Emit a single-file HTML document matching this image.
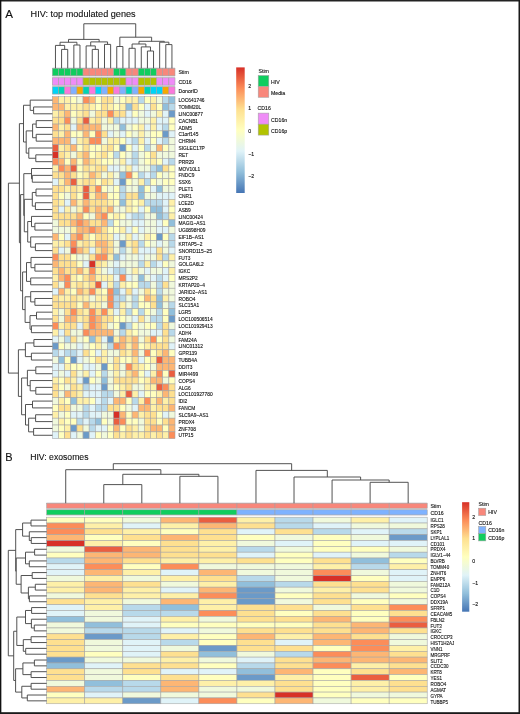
<!DOCTYPE html>
<html><head><meta charset="utf-8"><style>
html,body{margin:0;padding:0;background:#fff;}
svg{display:block;font-family:'Liberation Sans', sans-serif;will-change:transform;}
</style></head><body>
<svg width="520" height="714" viewBox="0 0 520 714">
<rect width="520" height="714" fill="#fff"/>
<rect x="52.40" y="96.70" width="6.13" height="6.84" fill="#FDB674" stroke="#A3A3A3" stroke-width="0.55"/>
<rect x="58.53" y="96.70" width="6.13" height="6.84" fill="#FEF0A8" stroke="#A3A3A3" stroke-width="0.55"/>
<rect x="64.66" y="96.70" width="6.13" height="6.84" fill="#FEF0A8" stroke="#A3A3A3" stroke-width="0.55"/>
<rect x="70.79" y="96.70" width="6.13" height="6.84" fill="#FFFFBF" stroke="#A3A3A3" stroke-width="0.55"/>
<rect x="76.92" y="96.70" width="6.13" height="6.84" fill="#F0F9DC" stroke="#A3A3A3" stroke-width="0.55"/>
<rect x="83.05" y="96.70" width="6.13" height="6.84" fill="#FC8D59" stroke="#A3A3A3" stroke-width="0.55"/>
<rect x="89.18" y="96.70" width="6.13" height="6.84" fill="#FDB674" stroke="#A3A3A3" stroke-width="0.55"/>
<rect x="95.31" y="96.70" width="6.13" height="6.84" fill="#FFFFBF" stroke="#A3A3A3" stroke-width="0.55"/>
<rect x="101.44" y="96.70" width="6.13" height="6.84" fill="#FEE090" stroke="#A3A3A3" stroke-width="0.55"/>
<rect x="107.57" y="96.70" width="6.13" height="6.84" fill="#FEE090" stroke="#A3A3A3" stroke-width="0.55"/>
<rect x="113.70" y="96.70" width="6.13" height="6.84" fill="#F0F9DC" stroke="#A3A3A3" stroke-width="0.55"/>
<rect x="119.83" y="96.70" width="6.13" height="6.84" fill="#FFFFBF" stroke="#A3A3A3" stroke-width="0.55"/>
<rect x="125.96" y="96.70" width="6.13" height="6.84" fill="#FEF0A8" stroke="#A3A3A3" stroke-width="0.55"/>
<rect x="132.09" y="96.70" width="6.13" height="6.84" fill="#FEF0A8" stroke="#A3A3A3" stroke-width="0.55"/>
<rect x="138.22" y="96.70" width="6.13" height="6.84" fill="#B8D9EA" stroke="#A3A3A3" stroke-width="0.55"/>
<rect x="144.35" y="96.70" width="6.13" height="6.84" fill="#FFFFBF" stroke="#A3A3A3" stroke-width="0.55"/>
<rect x="150.48" y="96.70" width="6.13" height="6.84" fill="#FEF0A8" stroke="#A3A3A3" stroke-width="0.55"/>
<rect x="156.61" y="96.70" width="6.13" height="6.84" fill="#F0F9DC" stroke="#A3A3A3" stroke-width="0.55"/>
<rect x="162.74" y="96.70" width="6.13" height="6.84" fill="#B8D9EA" stroke="#A3A3A3" stroke-width="0.55"/>
<rect x="168.87" y="96.70" width="6.13" height="6.84" fill="#91BFDB" stroke="#A3A3A3" stroke-width="0.55"/>
<rect x="52.40" y="103.54" width="6.13" height="6.84" fill="#FDB674" stroke="#A3A3A3" stroke-width="0.55"/>
<rect x="58.53" y="103.54" width="6.13" height="6.84" fill="#FDB674" stroke="#A3A3A3" stroke-width="0.55"/>
<rect x="64.66" y="103.54" width="6.13" height="6.84" fill="#FEF0A8" stroke="#A3A3A3" stroke-width="0.55"/>
<rect x="70.79" y="103.54" width="6.13" height="6.84" fill="#FEF0A8" stroke="#A3A3A3" stroke-width="0.55"/>
<rect x="76.92" y="103.54" width="6.13" height="6.84" fill="#FEF0A8" stroke="#A3A3A3" stroke-width="0.55"/>
<rect x="83.05" y="103.54" width="6.13" height="6.84" fill="#FEE090" stroke="#A3A3A3" stroke-width="0.55"/>
<rect x="89.18" y="103.54" width="6.13" height="6.84" fill="#FEF0A8" stroke="#A3A3A3" stroke-width="0.55"/>
<rect x="95.31" y="103.54" width="6.13" height="6.84" fill="#FFFFBF" stroke="#A3A3A3" stroke-width="0.55"/>
<rect x="101.44" y="103.54" width="6.13" height="6.84" fill="#FEE090" stroke="#A3A3A3" stroke-width="0.55"/>
<rect x="107.57" y="103.54" width="6.13" height="6.84" fill="#FEF0A8" stroke="#A3A3A3" stroke-width="0.55"/>
<rect x="113.70" y="103.54" width="6.13" height="6.84" fill="#FFFFBF" stroke="#A3A3A3" stroke-width="0.55"/>
<rect x="119.83" y="103.54" width="6.13" height="6.84" fill="#FEF0A8" stroke="#A3A3A3" stroke-width="0.55"/>
<rect x="125.96" y="103.54" width="6.13" height="6.84" fill="#91BFDB" stroke="#A3A3A3" stroke-width="0.55"/>
<rect x="132.09" y="103.54" width="6.13" height="6.84" fill="#FEE090" stroke="#A3A3A3" stroke-width="0.55"/>
<rect x="138.22" y="103.54" width="6.13" height="6.84" fill="#FFFFBF" stroke="#A3A3A3" stroke-width="0.55"/>
<rect x="144.35" y="103.54" width="6.13" height="6.84" fill="#E0F3F8" stroke="#A3A3A3" stroke-width="0.55"/>
<rect x="150.48" y="103.54" width="6.13" height="6.84" fill="#FEE090" stroke="#A3A3A3" stroke-width="0.55"/>
<rect x="156.61" y="103.54" width="6.13" height="6.84" fill="#FFFFBF" stroke="#A3A3A3" stroke-width="0.55"/>
<rect x="162.74" y="103.54" width="6.13" height="6.84" fill="#91BFDB" stroke="#A3A3A3" stroke-width="0.55"/>
<rect x="168.87" y="103.54" width="6.13" height="6.84" fill="#B8D9EA" stroke="#A3A3A3" stroke-width="0.55"/>
<rect x="52.40" y="110.38" width="6.13" height="6.84" fill="#FEF0A8" stroke="#A3A3A3" stroke-width="0.55"/>
<rect x="58.53" y="110.38" width="6.13" height="6.84" fill="#FEE090" stroke="#A3A3A3" stroke-width="0.55"/>
<rect x="64.66" y="110.38" width="6.13" height="6.84" fill="#FDB674" stroke="#A3A3A3" stroke-width="0.55"/>
<rect x="70.79" y="110.38" width="6.13" height="6.84" fill="#FFFFBF" stroke="#A3A3A3" stroke-width="0.55"/>
<rect x="76.92" y="110.38" width="6.13" height="6.84" fill="#FEF0A8" stroke="#A3A3A3" stroke-width="0.55"/>
<rect x="83.05" y="110.38" width="6.13" height="6.84" fill="#FEE090" stroke="#A3A3A3" stroke-width="0.55"/>
<rect x="89.18" y="110.38" width="6.13" height="6.84" fill="#F0F9DC" stroke="#A3A3A3" stroke-width="0.55"/>
<rect x="95.31" y="110.38" width="6.13" height="6.84" fill="#FEE090" stroke="#A3A3A3" stroke-width="0.55"/>
<rect x="101.44" y="110.38" width="6.13" height="6.84" fill="#FEE090" stroke="#A3A3A3" stroke-width="0.55"/>
<rect x="107.57" y="110.38" width="6.13" height="6.84" fill="#FC8D59" stroke="#A3A3A3" stroke-width="0.55"/>
<rect x="113.70" y="110.38" width="6.13" height="6.84" fill="#FEE090" stroke="#A3A3A3" stroke-width="0.55"/>
<rect x="119.83" y="110.38" width="6.13" height="6.84" fill="#FEE090" stroke="#A3A3A3" stroke-width="0.55"/>
<rect x="125.96" y="110.38" width="6.13" height="6.84" fill="#E0F3F8" stroke="#A3A3A3" stroke-width="0.55"/>
<rect x="132.09" y="110.38" width="6.13" height="6.84" fill="#FFFFBF" stroke="#A3A3A3" stroke-width="0.55"/>
<rect x="138.22" y="110.38" width="6.13" height="6.84" fill="#F0F9DC" stroke="#A3A3A3" stroke-width="0.55"/>
<rect x="144.35" y="110.38" width="6.13" height="6.84" fill="#E0F3F8" stroke="#A3A3A3" stroke-width="0.55"/>
<rect x="150.48" y="110.38" width="6.13" height="6.84" fill="#F0F9DC" stroke="#A3A3A3" stroke-width="0.55"/>
<rect x="156.61" y="110.38" width="6.13" height="6.84" fill="#FEF0A8" stroke="#A3A3A3" stroke-width="0.55"/>
<rect x="162.74" y="110.38" width="6.13" height="6.84" fill="#E0F3F8" stroke="#A3A3A3" stroke-width="0.55"/>
<rect x="168.87" y="110.38" width="6.13" height="6.84" fill="#6B9AC8" stroke="#A3A3A3" stroke-width="0.55"/>
<rect x="52.40" y="117.22" width="6.13" height="6.84" fill="#FEE090" stroke="#A3A3A3" stroke-width="0.55"/>
<rect x="58.53" y="117.22" width="6.13" height="6.84" fill="#FEE090" stroke="#A3A3A3" stroke-width="0.55"/>
<rect x="64.66" y="117.22" width="6.13" height="6.84" fill="#FC8D59" stroke="#A3A3A3" stroke-width="0.55"/>
<rect x="70.79" y="117.22" width="6.13" height="6.84" fill="#F0F9DC" stroke="#A3A3A3" stroke-width="0.55"/>
<rect x="76.92" y="117.22" width="6.13" height="6.84" fill="#FEE090" stroke="#A3A3A3" stroke-width="0.55"/>
<rect x="83.05" y="117.22" width="6.13" height="6.84" fill="#EA5E40" stroke="#A3A3A3" stroke-width="0.55"/>
<rect x="89.18" y="117.22" width="6.13" height="6.84" fill="#FEF0A8" stroke="#A3A3A3" stroke-width="0.55"/>
<rect x="95.31" y="117.22" width="6.13" height="6.84" fill="#FEE090" stroke="#A3A3A3" stroke-width="0.55"/>
<rect x="101.44" y="117.22" width="6.13" height="6.84" fill="#F0F9DC" stroke="#A3A3A3" stroke-width="0.55"/>
<rect x="107.57" y="117.22" width="6.13" height="6.84" fill="#FEF0A8" stroke="#A3A3A3" stroke-width="0.55"/>
<rect x="113.70" y="117.22" width="6.13" height="6.84" fill="#B8D9EA" stroke="#A3A3A3" stroke-width="0.55"/>
<rect x="119.83" y="117.22" width="6.13" height="6.84" fill="#E0F3F8" stroke="#A3A3A3" stroke-width="0.55"/>
<rect x="125.96" y="117.22" width="6.13" height="6.84" fill="#E0F3F8" stroke="#A3A3A3" stroke-width="0.55"/>
<rect x="132.09" y="117.22" width="6.13" height="6.84" fill="#E0F3F8" stroke="#A3A3A3" stroke-width="0.55"/>
<rect x="138.22" y="117.22" width="6.13" height="6.84" fill="#F0F9DC" stroke="#A3A3A3" stroke-width="0.55"/>
<rect x="144.35" y="117.22" width="6.13" height="6.84" fill="#F0F9DC" stroke="#A3A3A3" stroke-width="0.55"/>
<rect x="150.48" y="117.22" width="6.13" height="6.84" fill="#FEF0A8" stroke="#A3A3A3" stroke-width="0.55"/>
<rect x="156.61" y="117.22" width="6.13" height="6.84" fill="#E0F3F8" stroke="#A3A3A3" stroke-width="0.55"/>
<rect x="162.74" y="117.22" width="6.13" height="6.84" fill="#E0F3F8" stroke="#A3A3A3" stroke-width="0.55"/>
<rect x="168.87" y="117.22" width="6.13" height="6.84" fill="#FFFFBF" stroke="#A3A3A3" stroke-width="0.55"/>
<rect x="52.40" y="124.06" width="6.13" height="6.84" fill="#FDB674" stroke="#A3A3A3" stroke-width="0.55"/>
<rect x="58.53" y="124.06" width="6.13" height="6.84" fill="#FEF0A8" stroke="#A3A3A3" stroke-width="0.55"/>
<rect x="64.66" y="124.06" width="6.13" height="6.84" fill="#FEE090" stroke="#A3A3A3" stroke-width="0.55"/>
<rect x="70.79" y="124.06" width="6.13" height="6.84" fill="#E0F3F8" stroke="#A3A3A3" stroke-width="0.55"/>
<rect x="76.92" y="124.06" width="6.13" height="6.84" fill="#FDB674" stroke="#A3A3A3" stroke-width="0.55"/>
<rect x="83.05" y="124.06" width="6.13" height="6.84" fill="#FDB674" stroke="#A3A3A3" stroke-width="0.55"/>
<rect x="89.18" y="124.06" width="6.13" height="6.84" fill="#FDB674" stroke="#A3A3A3" stroke-width="0.55"/>
<rect x="95.31" y="124.06" width="6.13" height="6.84" fill="#FDB674" stroke="#A3A3A3" stroke-width="0.55"/>
<rect x="101.44" y="124.06" width="6.13" height="6.84" fill="#F0F9DC" stroke="#A3A3A3" stroke-width="0.55"/>
<rect x="107.57" y="124.06" width="6.13" height="6.84" fill="#F0F9DC" stroke="#A3A3A3" stroke-width="0.55"/>
<rect x="113.70" y="124.06" width="6.13" height="6.84" fill="#F0F9DC" stroke="#A3A3A3" stroke-width="0.55"/>
<rect x="119.83" y="124.06" width="6.13" height="6.84" fill="#91BFDB" stroke="#A3A3A3" stroke-width="0.55"/>
<rect x="125.96" y="124.06" width="6.13" height="6.84" fill="#F0F9DC" stroke="#A3A3A3" stroke-width="0.55"/>
<rect x="132.09" y="124.06" width="6.13" height="6.84" fill="#FFFFBF" stroke="#A3A3A3" stroke-width="0.55"/>
<rect x="138.22" y="124.06" width="6.13" height="6.84" fill="#FEF0A8" stroke="#A3A3A3" stroke-width="0.55"/>
<rect x="144.35" y="124.06" width="6.13" height="6.84" fill="#E0F3F8" stroke="#A3A3A3" stroke-width="0.55"/>
<rect x="150.48" y="124.06" width="6.13" height="6.84" fill="#FEF0A8" stroke="#A3A3A3" stroke-width="0.55"/>
<rect x="156.61" y="124.06" width="6.13" height="6.84" fill="#E0F3F8" stroke="#A3A3A3" stroke-width="0.55"/>
<rect x="162.74" y="124.06" width="6.13" height="6.84" fill="#B8D9EA" stroke="#A3A3A3" stroke-width="0.55"/>
<rect x="168.87" y="124.06" width="6.13" height="6.84" fill="#FFFFBF" stroke="#A3A3A3" stroke-width="0.55"/>
<rect x="52.40" y="130.90" width="6.13" height="6.84" fill="#FEE090" stroke="#A3A3A3" stroke-width="0.55"/>
<rect x="58.53" y="130.90" width="6.13" height="6.84" fill="#FEF0A8" stroke="#A3A3A3" stroke-width="0.55"/>
<rect x="64.66" y="130.90" width="6.13" height="6.84" fill="#FDB674" stroke="#A3A3A3" stroke-width="0.55"/>
<rect x="70.79" y="130.90" width="6.13" height="6.84" fill="#FFFFBF" stroke="#A3A3A3" stroke-width="0.55"/>
<rect x="76.92" y="130.90" width="6.13" height="6.84" fill="#FFFFBF" stroke="#A3A3A3" stroke-width="0.55"/>
<rect x="83.05" y="130.90" width="6.13" height="6.84" fill="#FDB674" stroke="#A3A3A3" stroke-width="0.55"/>
<rect x="89.18" y="130.90" width="6.13" height="6.84" fill="#FFFFBF" stroke="#A3A3A3" stroke-width="0.55"/>
<rect x="95.31" y="130.90" width="6.13" height="6.84" fill="#FC8D59" stroke="#A3A3A3" stroke-width="0.55"/>
<rect x="101.44" y="130.90" width="6.13" height="6.84" fill="#FEE090" stroke="#A3A3A3" stroke-width="0.55"/>
<rect x="107.57" y="130.90" width="6.13" height="6.84" fill="#E0F3F8" stroke="#A3A3A3" stroke-width="0.55"/>
<rect x="113.70" y="130.90" width="6.13" height="6.84" fill="#F0F9DC" stroke="#A3A3A3" stroke-width="0.55"/>
<rect x="119.83" y="130.90" width="6.13" height="6.84" fill="#E0F3F8" stroke="#A3A3A3" stroke-width="0.55"/>
<rect x="125.96" y="130.90" width="6.13" height="6.84" fill="#FFFFBF" stroke="#A3A3A3" stroke-width="0.55"/>
<rect x="132.09" y="130.90" width="6.13" height="6.84" fill="#F0F9DC" stroke="#A3A3A3" stroke-width="0.55"/>
<rect x="138.22" y="130.90" width="6.13" height="6.84" fill="#FEF0A8" stroke="#A3A3A3" stroke-width="0.55"/>
<rect x="144.35" y="130.90" width="6.13" height="6.84" fill="#F0F9DC" stroke="#A3A3A3" stroke-width="0.55"/>
<rect x="150.48" y="130.90" width="6.13" height="6.84" fill="#FFFFBF" stroke="#A3A3A3" stroke-width="0.55"/>
<rect x="156.61" y="130.90" width="6.13" height="6.84" fill="#FFFFBF" stroke="#A3A3A3" stroke-width="0.55"/>
<rect x="162.74" y="130.90" width="6.13" height="6.84" fill="#6B9AC8" stroke="#A3A3A3" stroke-width="0.55"/>
<rect x="168.87" y="130.90" width="6.13" height="6.84" fill="#E0F3F8" stroke="#A3A3A3" stroke-width="0.55"/>
<rect x="52.40" y="137.74" width="6.13" height="6.84" fill="#FDB674" stroke="#A3A3A3" stroke-width="0.55"/>
<rect x="58.53" y="137.74" width="6.13" height="6.84" fill="#FDB674" stroke="#A3A3A3" stroke-width="0.55"/>
<rect x="64.66" y="137.74" width="6.13" height="6.84" fill="#FDB674" stroke="#A3A3A3" stroke-width="0.55"/>
<rect x="70.79" y="137.74" width="6.13" height="6.84" fill="#E0F3F8" stroke="#A3A3A3" stroke-width="0.55"/>
<rect x="76.92" y="137.74" width="6.13" height="6.84" fill="#FEF0A8" stroke="#A3A3A3" stroke-width="0.55"/>
<rect x="83.05" y="137.74" width="6.13" height="6.84" fill="#FEE090" stroke="#A3A3A3" stroke-width="0.55"/>
<rect x="89.18" y="137.74" width="6.13" height="6.84" fill="#FC8D59" stroke="#A3A3A3" stroke-width="0.55"/>
<rect x="95.31" y="137.74" width="6.13" height="6.84" fill="#FC8D59" stroke="#A3A3A3" stroke-width="0.55"/>
<rect x="101.44" y="137.74" width="6.13" height="6.84" fill="#F0F9DC" stroke="#A3A3A3" stroke-width="0.55"/>
<rect x="107.57" y="137.74" width="6.13" height="6.84" fill="#FEF0A8" stroke="#A3A3A3" stroke-width="0.55"/>
<rect x="113.70" y="137.74" width="6.13" height="6.84" fill="#FEF0A8" stroke="#A3A3A3" stroke-width="0.55"/>
<rect x="119.83" y="137.74" width="6.13" height="6.84" fill="#FFFFBF" stroke="#A3A3A3" stroke-width="0.55"/>
<rect x="125.96" y="137.74" width="6.13" height="6.84" fill="#E0F3F8" stroke="#A3A3A3" stroke-width="0.55"/>
<rect x="132.09" y="137.74" width="6.13" height="6.84" fill="#B8D9EA" stroke="#A3A3A3" stroke-width="0.55"/>
<rect x="138.22" y="137.74" width="6.13" height="6.84" fill="#FEF0A8" stroke="#A3A3A3" stroke-width="0.55"/>
<rect x="144.35" y="137.74" width="6.13" height="6.84" fill="#E0F3F8" stroke="#A3A3A3" stroke-width="0.55"/>
<rect x="150.48" y="137.74" width="6.13" height="6.84" fill="#FFFFBF" stroke="#A3A3A3" stroke-width="0.55"/>
<rect x="156.61" y="137.74" width="6.13" height="6.84" fill="#E0F3F8" stroke="#A3A3A3" stroke-width="0.55"/>
<rect x="162.74" y="137.74" width="6.13" height="6.84" fill="#B8D9EA" stroke="#A3A3A3" stroke-width="0.55"/>
<rect x="168.87" y="137.74" width="6.13" height="6.84" fill="#F0F9DC" stroke="#A3A3A3" stroke-width="0.55"/>
<rect x="52.40" y="144.58" width="6.13" height="6.84" fill="#EA5E40" stroke="#A3A3A3" stroke-width="0.55"/>
<rect x="58.53" y="144.58" width="6.13" height="6.84" fill="#FEF0A8" stroke="#A3A3A3" stroke-width="0.55"/>
<rect x="64.66" y="144.58" width="6.13" height="6.84" fill="#FEE090" stroke="#A3A3A3" stroke-width="0.55"/>
<rect x="70.79" y="144.58" width="6.13" height="6.84" fill="#FDB674" stroke="#A3A3A3" stroke-width="0.55"/>
<rect x="76.92" y="144.58" width="6.13" height="6.84" fill="#FFFFBF" stroke="#A3A3A3" stroke-width="0.55"/>
<rect x="83.05" y="144.58" width="6.13" height="6.84" fill="#FEE090" stroke="#A3A3A3" stroke-width="0.55"/>
<rect x="89.18" y="144.58" width="6.13" height="6.84" fill="#FFFFBF" stroke="#A3A3A3" stroke-width="0.55"/>
<rect x="95.31" y="144.58" width="6.13" height="6.84" fill="#FFFFBF" stroke="#A3A3A3" stroke-width="0.55"/>
<rect x="101.44" y="144.58" width="6.13" height="6.84" fill="#FEF0A8" stroke="#A3A3A3" stroke-width="0.55"/>
<rect x="107.57" y="144.58" width="6.13" height="6.84" fill="#FEE090" stroke="#A3A3A3" stroke-width="0.55"/>
<rect x="113.70" y="144.58" width="6.13" height="6.84" fill="#FFFFBF" stroke="#A3A3A3" stroke-width="0.55"/>
<rect x="119.83" y="144.58" width="6.13" height="6.84" fill="#6B9AC8" stroke="#A3A3A3" stroke-width="0.55"/>
<rect x="125.96" y="144.58" width="6.13" height="6.84" fill="#FFFFBF" stroke="#A3A3A3" stroke-width="0.55"/>
<rect x="132.09" y="144.58" width="6.13" height="6.84" fill="#E0F3F8" stroke="#A3A3A3" stroke-width="0.55"/>
<rect x="138.22" y="144.58" width="6.13" height="6.84" fill="#FFFFBF" stroke="#A3A3A3" stroke-width="0.55"/>
<rect x="144.35" y="144.58" width="6.13" height="6.84" fill="#B8D9EA" stroke="#A3A3A3" stroke-width="0.55"/>
<rect x="150.48" y="144.58" width="6.13" height="6.84" fill="#F0F9DC" stroke="#A3A3A3" stroke-width="0.55"/>
<rect x="156.61" y="144.58" width="6.13" height="6.84" fill="#FDB674" stroke="#A3A3A3" stroke-width="0.55"/>
<rect x="162.74" y="144.58" width="6.13" height="6.84" fill="#FFFFBF" stroke="#A3A3A3" stroke-width="0.55"/>
<rect x="168.87" y="144.58" width="6.13" height="6.84" fill="#F0F9DC" stroke="#A3A3A3" stroke-width="0.55"/>
<rect x="52.40" y="151.42" width="6.13" height="6.84" fill="#D73027" stroke="#A3A3A3" stroke-width="0.55"/>
<rect x="58.53" y="151.42" width="6.13" height="6.84" fill="#FEE090" stroke="#A3A3A3" stroke-width="0.55"/>
<rect x="64.66" y="151.42" width="6.13" height="6.84" fill="#FEF0A8" stroke="#A3A3A3" stroke-width="0.55"/>
<rect x="70.79" y="151.42" width="6.13" height="6.84" fill="#F0F9DC" stroke="#A3A3A3" stroke-width="0.55"/>
<rect x="76.92" y="151.42" width="6.13" height="6.84" fill="#FEE090" stroke="#A3A3A3" stroke-width="0.55"/>
<rect x="83.05" y="151.42" width="6.13" height="6.84" fill="#FDB674" stroke="#A3A3A3" stroke-width="0.55"/>
<rect x="89.18" y="151.42" width="6.13" height="6.84" fill="#FFFFBF" stroke="#A3A3A3" stroke-width="0.55"/>
<rect x="95.31" y="151.42" width="6.13" height="6.84" fill="#FEF0A8" stroke="#A3A3A3" stroke-width="0.55"/>
<rect x="101.44" y="151.42" width="6.13" height="6.84" fill="#FEE090" stroke="#A3A3A3" stroke-width="0.55"/>
<rect x="107.57" y="151.42" width="6.13" height="6.84" fill="#FFFFBF" stroke="#A3A3A3" stroke-width="0.55"/>
<rect x="113.70" y="151.42" width="6.13" height="6.84" fill="#B8D9EA" stroke="#A3A3A3" stroke-width="0.55"/>
<rect x="119.83" y="151.42" width="6.13" height="6.84" fill="#FFFFBF" stroke="#A3A3A3" stroke-width="0.55"/>
<rect x="125.96" y="151.42" width="6.13" height="6.84" fill="#F0F9DC" stroke="#A3A3A3" stroke-width="0.55"/>
<rect x="132.09" y="151.42" width="6.13" height="6.84" fill="#B8D9EA" stroke="#A3A3A3" stroke-width="0.55"/>
<rect x="138.22" y="151.42" width="6.13" height="6.84" fill="#F0F9DC" stroke="#A3A3A3" stroke-width="0.55"/>
<rect x="144.35" y="151.42" width="6.13" height="6.84" fill="#FFFFBF" stroke="#A3A3A3" stroke-width="0.55"/>
<rect x="150.48" y="151.42" width="6.13" height="6.84" fill="#FEE090" stroke="#A3A3A3" stroke-width="0.55"/>
<rect x="156.61" y="151.42" width="6.13" height="6.84" fill="#F0F9DC" stroke="#A3A3A3" stroke-width="0.55"/>
<rect x="162.74" y="151.42" width="6.13" height="6.84" fill="#F0F9DC" stroke="#A3A3A3" stroke-width="0.55"/>
<rect x="168.87" y="151.42" width="6.13" height="6.84" fill="#F0F9DC" stroke="#A3A3A3" stroke-width="0.55"/>
<rect x="52.40" y="158.26" width="6.13" height="6.84" fill="#FC8D59" stroke="#A3A3A3" stroke-width="0.55"/>
<rect x="58.53" y="158.26" width="6.13" height="6.84" fill="#FDB674" stroke="#A3A3A3" stroke-width="0.55"/>
<rect x="64.66" y="158.26" width="6.13" height="6.84" fill="#FFFFBF" stroke="#A3A3A3" stroke-width="0.55"/>
<rect x="70.79" y="158.26" width="6.13" height="6.84" fill="#FDB674" stroke="#A3A3A3" stroke-width="0.55"/>
<rect x="76.92" y="158.26" width="6.13" height="6.84" fill="#FFFFBF" stroke="#A3A3A3" stroke-width="0.55"/>
<rect x="83.05" y="158.26" width="6.13" height="6.84" fill="#FDB674" stroke="#A3A3A3" stroke-width="0.55"/>
<rect x="89.18" y="158.26" width="6.13" height="6.84" fill="#FEE090" stroke="#A3A3A3" stroke-width="0.55"/>
<rect x="95.31" y="158.26" width="6.13" height="6.84" fill="#FEF0A8" stroke="#A3A3A3" stroke-width="0.55"/>
<rect x="101.44" y="158.26" width="6.13" height="6.84" fill="#FFFFBF" stroke="#A3A3A3" stroke-width="0.55"/>
<rect x="107.57" y="158.26" width="6.13" height="6.84" fill="#FFFFBF" stroke="#A3A3A3" stroke-width="0.55"/>
<rect x="113.70" y="158.26" width="6.13" height="6.84" fill="#F0F9DC" stroke="#A3A3A3" stroke-width="0.55"/>
<rect x="119.83" y="158.26" width="6.13" height="6.84" fill="#FEF0A8" stroke="#A3A3A3" stroke-width="0.55"/>
<rect x="125.96" y="158.26" width="6.13" height="6.84" fill="#E0F3F8" stroke="#A3A3A3" stroke-width="0.55"/>
<rect x="132.09" y="158.26" width="6.13" height="6.84" fill="#B8D9EA" stroke="#A3A3A3" stroke-width="0.55"/>
<rect x="138.22" y="158.26" width="6.13" height="6.84" fill="#F0F9DC" stroke="#A3A3A3" stroke-width="0.55"/>
<rect x="144.35" y="158.26" width="6.13" height="6.84" fill="#FFFFBF" stroke="#A3A3A3" stroke-width="0.55"/>
<rect x="150.48" y="158.26" width="6.13" height="6.84" fill="#FEF0A8" stroke="#A3A3A3" stroke-width="0.55"/>
<rect x="156.61" y="158.26" width="6.13" height="6.84" fill="#FFFFBF" stroke="#A3A3A3" stroke-width="0.55"/>
<rect x="162.74" y="158.26" width="6.13" height="6.84" fill="#E0F3F8" stroke="#A3A3A3" stroke-width="0.55"/>
<rect x="168.87" y="158.26" width="6.13" height="6.84" fill="#B8D9EA" stroke="#A3A3A3" stroke-width="0.55"/>
<rect x="52.40" y="165.10" width="6.13" height="6.84" fill="#FEF0A8" stroke="#A3A3A3" stroke-width="0.55"/>
<rect x="58.53" y="165.10" width="6.13" height="6.84" fill="#FC8D59" stroke="#A3A3A3" stroke-width="0.55"/>
<rect x="64.66" y="165.10" width="6.13" height="6.84" fill="#FDB674" stroke="#A3A3A3" stroke-width="0.55"/>
<rect x="70.79" y="165.10" width="6.13" height="6.84" fill="#EA5E40" stroke="#A3A3A3" stroke-width="0.55"/>
<rect x="76.92" y="165.10" width="6.13" height="6.84" fill="#FFFFBF" stroke="#A3A3A3" stroke-width="0.55"/>
<rect x="83.05" y="165.10" width="6.13" height="6.84" fill="#FEE090" stroke="#A3A3A3" stroke-width="0.55"/>
<rect x="89.18" y="165.10" width="6.13" height="6.84" fill="#FEF0A8" stroke="#A3A3A3" stroke-width="0.55"/>
<rect x="95.31" y="165.10" width="6.13" height="6.84" fill="#FEE090" stroke="#A3A3A3" stroke-width="0.55"/>
<rect x="101.44" y="165.10" width="6.13" height="6.84" fill="#FEE090" stroke="#A3A3A3" stroke-width="0.55"/>
<rect x="107.57" y="165.10" width="6.13" height="6.84" fill="#E0F3F8" stroke="#A3A3A3" stroke-width="0.55"/>
<rect x="113.70" y="165.10" width="6.13" height="6.84" fill="#E0F3F8" stroke="#A3A3A3" stroke-width="0.55"/>
<rect x="119.83" y="165.10" width="6.13" height="6.84" fill="#F0F9DC" stroke="#A3A3A3" stroke-width="0.55"/>
<rect x="125.96" y="165.10" width="6.13" height="6.84" fill="#FEF0A8" stroke="#A3A3A3" stroke-width="0.55"/>
<rect x="132.09" y="165.10" width="6.13" height="6.84" fill="#E0F3F8" stroke="#A3A3A3" stroke-width="0.55"/>
<rect x="138.22" y="165.10" width="6.13" height="6.84" fill="#F0F9DC" stroke="#A3A3A3" stroke-width="0.55"/>
<rect x="144.35" y="165.10" width="6.13" height="6.84" fill="#F0F9DC" stroke="#A3A3A3" stroke-width="0.55"/>
<rect x="150.48" y="165.10" width="6.13" height="6.84" fill="#B8D9EA" stroke="#A3A3A3" stroke-width="0.55"/>
<rect x="156.61" y="165.10" width="6.13" height="6.84" fill="#91BFDB" stroke="#A3A3A3" stroke-width="0.55"/>
<rect x="162.74" y="165.10" width="6.13" height="6.84" fill="#FEE090" stroke="#A3A3A3" stroke-width="0.55"/>
<rect x="168.87" y="165.10" width="6.13" height="6.84" fill="#FFFFBF" stroke="#A3A3A3" stroke-width="0.55"/>
<rect x="52.40" y="171.94" width="6.13" height="6.84" fill="#FEE090" stroke="#A3A3A3" stroke-width="0.55"/>
<rect x="58.53" y="171.94" width="6.13" height="6.84" fill="#FEE090" stroke="#A3A3A3" stroke-width="0.55"/>
<rect x="64.66" y="171.94" width="6.13" height="6.84" fill="#FDB674" stroke="#A3A3A3" stroke-width="0.55"/>
<rect x="70.79" y="171.94" width="6.13" height="6.84" fill="#FEE090" stroke="#A3A3A3" stroke-width="0.55"/>
<rect x="76.92" y="171.94" width="6.13" height="6.84" fill="#FFFFBF" stroke="#A3A3A3" stroke-width="0.55"/>
<rect x="83.05" y="171.94" width="6.13" height="6.84" fill="#FEF0A8" stroke="#A3A3A3" stroke-width="0.55"/>
<rect x="89.18" y="171.94" width="6.13" height="6.84" fill="#FDB674" stroke="#A3A3A3" stroke-width="0.55"/>
<rect x="95.31" y="171.94" width="6.13" height="6.84" fill="#FEE090" stroke="#A3A3A3" stroke-width="0.55"/>
<rect x="101.44" y="171.94" width="6.13" height="6.84" fill="#F0F9DC" stroke="#A3A3A3" stroke-width="0.55"/>
<rect x="107.57" y="171.94" width="6.13" height="6.84" fill="#FEF0A8" stroke="#A3A3A3" stroke-width="0.55"/>
<rect x="113.70" y="171.94" width="6.13" height="6.84" fill="#F0F9DC" stroke="#A3A3A3" stroke-width="0.55"/>
<rect x="119.83" y="171.94" width="6.13" height="6.84" fill="#91BFDB" stroke="#A3A3A3" stroke-width="0.55"/>
<rect x="125.96" y="171.94" width="6.13" height="6.84" fill="#FC8D59" stroke="#A3A3A3" stroke-width="0.55"/>
<rect x="132.09" y="171.94" width="6.13" height="6.84" fill="#FFFFBF" stroke="#A3A3A3" stroke-width="0.55"/>
<rect x="138.22" y="171.94" width="6.13" height="6.84" fill="#B8D9EA" stroke="#A3A3A3" stroke-width="0.55"/>
<rect x="144.35" y="171.94" width="6.13" height="6.84" fill="#E0F3F8" stroke="#A3A3A3" stroke-width="0.55"/>
<rect x="150.48" y="171.94" width="6.13" height="6.84" fill="#B8D9EA" stroke="#A3A3A3" stroke-width="0.55"/>
<rect x="156.61" y="171.94" width="6.13" height="6.84" fill="#FFFFBF" stroke="#A3A3A3" stroke-width="0.55"/>
<rect x="162.74" y="171.94" width="6.13" height="6.84" fill="#F0F9DC" stroke="#A3A3A3" stroke-width="0.55"/>
<rect x="168.87" y="171.94" width="6.13" height="6.84" fill="#FFFFBF" stroke="#A3A3A3" stroke-width="0.55"/>
<rect x="52.40" y="178.78" width="6.13" height="6.84" fill="#E0F3F8" stroke="#A3A3A3" stroke-width="0.55"/>
<rect x="58.53" y="178.78" width="6.13" height="6.84" fill="#FEF0A8" stroke="#A3A3A3" stroke-width="0.55"/>
<rect x="64.66" y="178.78" width="6.13" height="6.84" fill="#FDB674" stroke="#A3A3A3" stroke-width="0.55"/>
<rect x="70.79" y="178.78" width="6.13" height="6.84" fill="#EA5E40" stroke="#A3A3A3" stroke-width="0.55"/>
<rect x="76.92" y="178.78" width="6.13" height="6.84" fill="#FEF0A8" stroke="#A3A3A3" stroke-width="0.55"/>
<rect x="83.05" y="178.78" width="6.13" height="6.84" fill="#FEE090" stroke="#A3A3A3" stroke-width="0.55"/>
<rect x="89.18" y="178.78" width="6.13" height="6.84" fill="#FEE090" stroke="#A3A3A3" stroke-width="0.55"/>
<rect x="95.31" y="178.78" width="6.13" height="6.84" fill="#FFFFBF" stroke="#A3A3A3" stroke-width="0.55"/>
<rect x="101.44" y="178.78" width="6.13" height="6.84" fill="#FEE090" stroke="#A3A3A3" stroke-width="0.55"/>
<rect x="107.57" y="178.78" width="6.13" height="6.84" fill="#FEF0A8" stroke="#A3A3A3" stroke-width="0.55"/>
<rect x="113.70" y="178.78" width="6.13" height="6.84" fill="#E0F3F8" stroke="#A3A3A3" stroke-width="0.55"/>
<rect x="119.83" y="178.78" width="6.13" height="6.84" fill="#6B9AC8" stroke="#A3A3A3" stroke-width="0.55"/>
<rect x="125.96" y="178.78" width="6.13" height="6.84" fill="#FFFFBF" stroke="#A3A3A3" stroke-width="0.55"/>
<rect x="132.09" y="178.78" width="6.13" height="6.84" fill="#F0F9DC" stroke="#A3A3A3" stroke-width="0.55"/>
<rect x="138.22" y="178.78" width="6.13" height="6.84" fill="#FEF0A8" stroke="#A3A3A3" stroke-width="0.55"/>
<rect x="144.35" y="178.78" width="6.13" height="6.84" fill="#B8D9EA" stroke="#A3A3A3" stroke-width="0.55"/>
<rect x="150.48" y="178.78" width="6.13" height="6.84" fill="#FFFFBF" stroke="#A3A3A3" stroke-width="0.55"/>
<rect x="156.61" y="178.78" width="6.13" height="6.84" fill="#F0F9DC" stroke="#A3A3A3" stroke-width="0.55"/>
<rect x="162.74" y="178.78" width="6.13" height="6.84" fill="#FFFFBF" stroke="#A3A3A3" stroke-width="0.55"/>
<rect x="168.87" y="178.78" width="6.13" height="6.84" fill="#FFFFBF" stroke="#A3A3A3" stroke-width="0.55"/>
<rect x="52.40" y="185.62" width="6.13" height="6.84" fill="#FEE090" stroke="#A3A3A3" stroke-width="0.55"/>
<rect x="58.53" y="185.62" width="6.13" height="6.84" fill="#FEE090" stroke="#A3A3A3" stroke-width="0.55"/>
<rect x="64.66" y="185.62" width="6.13" height="6.84" fill="#FEF0A8" stroke="#A3A3A3" stroke-width="0.55"/>
<rect x="70.79" y="185.62" width="6.13" height="6.84" fill="#FEE090" stroke="#A3A3A3" stroke-width="0.55"/>
<rect x="76.92" y="185.62" width="6.13" height="6.84" fill="#FEF0A8" stroke="#A3A3A3" stroke-width="0.55"/>
<rect x="83.05" y="185.62" width="6.13" height="6.84" fill="#EA5E40" stroke="#A3A3A3" stroke-width="0.55"/>
<rect x="89.18" y="185.62" width="6.13" height="6.84" fill="#FEE090" stroke="#A3A3A3" stroke-width="0.55"/>
<rect x="95.31" y="185.62" width="6.13" height="6.84" fill="#FC8D59" stroke="#A3A3A3" stroke-width="0.55"/>
<rect x="101.44" y="185.62" width="6.13" height="6.84" fill="#FFFFBF" stroke="#A3A3A3" stroke-width="0.55"/>
<rect x="107.57" y="185.62" width="6.13" height="6.84" fill="#F0F9DC" stroke="#A3A3A3" stroke-width="0.55"/>
<rect x="113.70" y="185.62" width="6.13" height="6.84" fill="#FFFFBF" stroke="#A3A3A3" stroke-width="0.55"/>
<rect x="119.83" y="185.62" width="6.13" height="6.84" fill="#B8D9EA" stroke="#A3A3A3" stroke-width="0.55"/>
<rect x="125.96" y="185.62" width="6.13" height="6.84" fill="#F0F9DC" stroke="#A3A3A3" stroke-width="0.55"/>
<rect x="132.09" y="185.62" width="6.13" height="6.84" fill="#F0F9DC" stroke="#A3A3A3" stroke-width="0.55"/>
<rect x="138.22" y="185.62" width="6.13" height="6.84" fill="#91BFDB" stroke="#A3A3A3" stroke-width="0.55"/>
<rect x="144.35" y="185.62" width="6.13" height="6.84" fill="#FFFFBF" stroke="#A3A3A3" stroke-width="0.55"/>
<rect x="150.48" y="185.62" width="6.13" height="6.84" fill="#E0F3F8" stroke="#A3A3A3" stroke-width="0.55"/>
<rect x="156.61" y="185.62" width="6.13" height="6.84" fill="#91BFDB" stroke="#A3A3A3" stroke-width="0.55"/>
<rect x="162.74" y="185.62" width="6.13" height="6.84" fill="#F0F9DC" stroke="#A3A3A3" stroke-width="0.55"/>
<rect x="168.87" y="185.62" width="6.13" height="6.84" fill="#F0F9DC" stroke="#A3A3A3" stroke-width="0.55"/>
<rect x="52.40" y="192.46" width="6.13" height="6.84" fill="#FEE090" stroke="#A3A3A3" stroke-width="0.55"/>
<rect x="58.53" y="192.46" width="6.13" height="6.84" fill="#FFFFBF" stroke="#A3A3A3" stroke-width="0.55"/>
<rect x="64.66" y="192.46" width="6.13" height="6.84" fill="#F0F9DC" stroke="#A3A3A3" stroke-width="0.55"/>
<rect x="70.79" y="192.46" width="6.13" height="6.84" fill="#FEE090" stroke="#A3A3A3" stroke-width="0.55"/>
<rect x="76.92" y="192.46" width="6.13" height="6.84" fill="#FFFFBF" stroke="#A3A3A3" stroke-width="0.55"/>
<rect x="83.05" y="192.46" width="6.13" height="6.84" fill="#EA5E40" stroke="#A3A3A3" stroke-width="0.55"/>
<rect x="89.18" y="192.46" width="6.13" height="6.84" fill="#FEF0A8" stroke="#A3A3A3" stroke-width="0.55"/>
<rect x="95.31" y="192.46" width="6.13" height="6.84" fill="#FDB674" stroke="#A3A3A3" stroke-width="0.55"/>
<rect x="101.44" y="192.46" width="6.13" height="6.84" fill="#FDB674" stroke="#A3A3A3" stroke-width="0.55"/>
<rect x="107.57" y="192.46" width="6.13" height="6.84" fill="#FFFFBF" stroke="#A3A3A3" stroke-width="0.55"/>
<rect x="113.70" y="192.46" width="6.13" height="6.84" fill="#FFFFBF" stroke="#A3A3A3" stroke-width="0.55"/>
<rect x="119.83" y="192.46" width="6.13" height="6.84" fill="#B8D9EA" stroke="#A3A3A3" stroke-width="0.55"/>
<rect x="125.96" y="192.46" width="6.13" height="6.84" fill="#FEE090" stroke="#A3A3A3" stroke-width="0.55"/>
<rect x="132.09" y="192.46" width="6.13" height="6.84" fill="#FEE090" stroke="#A3A3A3" stroke-width="0.55"/>
<rect x="138.22" y="192.46" width="6.13" height="6.84" fill="#91BFDB" stroke="#A3A3A3" stroke-width="0.55"/>
<rect x="144.35" y="192.46" width="6.13" height="6.84" fill="#F0F9DC" stroke="#A3A3A3" stroke-width="0.55"/>
<rect x="150.48" y="192.46" width="6.13" height="6.84" fill="#F0F9DC" stroke="#A3A3A3" stroke-width="0.55"/>
<rect x="156.61" y="192.46" width="6.13" height="6.84" fill="#E0F3F8" stroke="#A3A3A3" stroke-width="0.55"/>
<rect x="162.74" y="192.46" width="6.13" height="6.84" fill="#E0F3F8" stroke="#A3A3A3" stroke-width="0.55"/>
<rect x="168.87" y="192.46" width="6.13" height="6.84" fill="#E0F3F8" stroke="#A3A3A3" stroke-width="0.55"/>
<rect x="52.40" y="199.30" width="6.13" height="6.84" fill="#FEE090" stroke="#A3A3A3" stroke-width="0.55"/>
<rect x="58.53" y="199.30" width="6.13" height="6.84" fill="#FEF0A8" stroke="#A3A3A3" stroke-width="0.55"/>
<rect x="64.66" y="199.30" width="6.13" height="6.84" fill="#E0F3F8" stroke="#A3A3A3" stroke-width="0.55"/>
<rect x="70.79" y="199.30" width="6.13" height="6.84" fill="#FDB674" stroke="#A3A3A3" stroke-width="0.55"/>
<rect x="76.92" y="199.30" width="6.13" height="6.84" fill="#FEF0A8" stroke="#A3A3A3" stroke-width="0.55"/>
<rect x="83.05" y="199.30" width="6.13" height="6.84" fill="#FDB674" stroke="#A3A3A3" stroke-width="0.55"/>
<rect x="89.18" y="199.30" width="6.13" height="6.84" fill="#FEE090" stroke="#A3A3A3" stroke-width="0.55"/>
<rect x="95.31" y="199.30" width="6.13" height="6.84" fill="#FEE090" stroke="#A3A3A3" stroke-width="0.55"/>
<rect x="101.44" y="199.30" width="6.13" height="6.84" fill="#FEE090" stroke="#A3A3A3" stroke-width="0.55"/>
<rect x="107.57" y="199.30" width="6.13" height="6.84" fill="#FEF0A8" stroke="#A3A3A3" stroke-width="0.55"/>
<rect x="113.70" y="199.30" width="6.13" height="6.84" fill="#FFFFBF" stroke="#A3A3A3" stroke-width="0.55"/>
<rect x="119.83" y="199.30" width="6.13" height="6.84" fill="#91BFDB" stroke="#A3A3A3" stroke-width="0.55"/>
<rect x="125.96" y="199.30" width="6.13" height="6.84" fill="#FEF0A8" stroke="#A3A3A3" stroke-width="0.55"/>
<rect x="132.09" y="199.30" width="6.13" height="6.84" fill="#FFFFBF" stroke="#A3A3A3" stroke-width="0.55"/>
<rect x="138.22" y="199.30" width="6.13" height="6.84" fill="#FEF0A8" stroke="#A3A3A3" stroke-width="0.55"/>
<rect x="144.35" y="199.30" width="6.13" height="6.84" fill="#B8D9EA" stroke="#A3A3A3" stroke-width="0.55"/>
<rect x="150.48" y="199.30" width="6.13" height="6.84" fill="#B8D9EA" stroke="#A3A3A3" stroke-width="0.55"/>
<rect x="156.61" y="199.30" width="6.13" height="6.84" fill="#B8D9EA" stroke="#A3A3A3" stroke-width="0.55"/>
<rect x="162.74" y="199.30" width="6.13" height="6.84" fill="#E0F3F8" stroke="#A3A3A3" stroke-width="0.55"/>
<rect x="168.87" y="199.30" width="6.13" height="6.84" fill="#FEF0A8" stroke="#A3A3A3" stroke-width="0.55"/>
<rect x="52.40" y="206.14" width="6.13" height="6.84" fill="#FEE090" stroke="#A3A3A3" stroke-width="0.55"/>
<rect x="58.53" y="206.14" width="6.13" height="6.84" fill="#E0F3F8" stroke="#A3A3A3" stroke-width="0.55"/>
<rect x="64.66" y="206.14" width="6.13" height="6.84" fill="#FEF0A8" stroke="#A3A3A3" stroke-width="0.55"/>
<rect x="70.79" y="206.14" width="6.13" height="6.84" fill="#F0F9DC" stroke="#A3A3A3" stroke-width="0.55"/>
<rect x="76.92" y="206.14" width="6.13" height="6.84" fill="#FEF0A8" stroke="#A3A3A3" stroke-width="0.55"/>
<rect x="83.05" y="206.14" width="6.13" height="6.84" fill="#FC8D59" stroke="#A3A3A3" stroke-width="0.55"/>
<rect x="89.18" y="206.14" width="6.13" height="6.84" fill="#FEE090" stroke="#A3A3A3" stroke-width="0.55"/>
<rect x="95.31" y="206.14" width="6.13" height="6.84" fill="#FDB674" stroke="#A3A3A3" stroke-width="0.55"/>
<rect x="101.44" y="206.14" width="6.13" height="6.84" fill="#FEE090" stroke="#A3A3A3" stroke-width="0.55"/>
<rect x="107.57" y="206.14" width="6.13" height="6.84" fill="#FDB674" stroke="#A3A3A3" stroke-width="0.55"/>
<rect x="113.70" y="206.14" width="6.13" height="6.84" fill="#F0F9DC" stroke="#A3A3A3" stroke-width="0.55"/>
<rect x="119.83" y="206.14" width="6.13" height="6.84" fill="#F0F9DC" stroke="#A3A3A3" stroke-width="0.55"/>
<rect x="125.96" y="206.14" width="6.13" height="6.84" fill="#FEF0A8" stroke="#A3A3A3" stroke-width="0.55"/>
<rect x="132.09" y="206.14" width="6.13" height="6.84" fill="#FFFFBF" stroke="#A3A3A3" stroke-width="0.55"/>
<rect x="138.22" y="206.14" width="6.13" height="6.84" fill="#E0F3F8" stroke="#A3A3A3" stroke-width="0.55"/>
<rect x="144.35" y="206.14" width="6.13" height="6.84" fill="#FFFFBF" stroke="#A3A3A3" stroke-width="0.55"/>
<rect x="150.48" y="206.14" width="6.13" height="6.84" fill="#91BFDB" stroke="#A3A3A3" stroke-width="0.55"/>
<rect x="156.61" y="206.14" width="6.13" height="6.84" fill="#91BFDB" stroke="#A3A3A3" stroke-width="0.55"/>
<rect x="162.74" y="206.14" width="6.13" height="6.84" fill="#E0F3F8" stroke="#A3A3A3" stroke-width="0.55"/>
<rect x="168.87" y="206.14" width="6.13" height="6.84" fill="#FFFFBF" stroke="#A3A3A3" stroke-width="0.55"/>
<rect x="52.40" y="212.98" width="6.13" height="6.84" fill="#FEE090" stroke="#A3A3A3" stroke-width="0.55"/>
<rect x="58.53" y="212.98" width="6.13" height="6.84" fill="#FEE090" stroke="#A3A3A3" stroke-width="0.55"/>
<rect x="64.66" y="212.98" width="6.13" height="6.84" fill="#FEE090" stroke="#A3A3A3" stroke-width="0.55"/>
<rect x="70.79" y="212.98" width="6.13" height="6.84" fill="#FEE090" stroke="#A3A3A3" stroke-width="0.55"/>
<rect x="76.92" y="212.98" width="6.13" height="6.84" fill="#FDB674" stroke="#A3A3A3" stroke-width="0.55"/>
<rect x="83.05" y="212.98" width="6.13" height="6.84" fill="#FFFFBF" stroke="#A3A3A3" stroke-width="0.55"/>
<rect x="89.18" y="212.98" width="6.13" height="6.84" fill="#F0F9DC" stroke="#A3A3A3" stroke-width="0.55"/>
<rect x="95.31" y="212.98" width="6.13" height="6.84" fill="#FDB674" stroke="#A3A3A3" stroke-width="0.55"/>
<rect x="101.44" y="212.98" width="6.13" height="6.84" fill="#FC8D59" stroke="#A3A3A3" stroke-width="0.55"/>
<rect x="107.57" y="212.98" width="6.13" height="6.84" fill="#FFFFBF" stroke="#A3A3A3" stroke-width="0.55"/>
<rect x="113.70" y="212.98" width="6.13" height="6.84" fill="#FEF0A8" stroke="#A3A3A3" stroke-width="0.55"/>
<rect x="119.83" y="212.98" width="6.13" height="6.84" fill="#FFFFBF" stroke="#A3A3A3" stroke-width="0.55"/>
<rect x="125.96" y="212.98" width="6.13" height="6.84" fill="#E0F3F8" stroke="#A3A3A3" stroke-width="0.55"/>
<rect x="132.09" y="212.98" width="6.13" height="6.84" fill="#B8D9EA" stroke="#A3A3A3" stroke-width="0.55"/>
<rect x="138.22" y="212.98" width="6.13" height="6.84" fill="#B8D9EA" stroke="#A3A3A3" stroke-width="0.55"/>
<rect x="144.35" y="212.98" width="6.13" height="6.84" fill="#F0F9DC" stroke="#A3A3A3" stroke-width="0.55"/>
<rect x="150.48" y="212.98" width="6.13" height="6.84" fill="#F0F9DC" stroke="#A3A3A3" stroke-width="0.55"/>
<rect x="156.61" y="212.98" width="6.13" height="6.84" fill="#91BFDB" stroke="#A3A3A3" stroke-width="0.55"/>
<rect x="162.74" y="212.98" width="6.13" height="6.84" fill="#B8D9EA" stroke="#A3A3A3" stroke-width="0.55"/>
<rect x="168.87" y="212.98" width="6.13" height="6.84" fill="#FEF0A8" stroke="#A3A3A3" stroke-width="0.55"/>
<rect x="52.40" y="219.82" width="6.13" height="6.84" fill="#F0F9DC" stroke="#A3A3A3" stroke-width="0.55"/>
<rect x="58.53" y="219.82" width="6.13" height="6.84" fill="#FEE090" stroke="#A3A3A3" stroke-width="0.55"/>
<rect x="64.66" y="219.82" width="6.13" height="6.84" fill="#FEE090" stroke="#A3A3A3" stroke-width="0.55"/>
<rect x="70.79" y="219.82" width="6.13" height="6.84" fill="#FDB674" stroke="#A3A3A3" stroke-width="0.55"/>
<rect x="76.92" y="219.82" width="6.13" height="6.84" fill="#FC8D59" stroke="#A3A3A3" stroke-width="0.55"/>
<rect x="83.05" y="219.82" width="6.13" height="6.84" fill="#FDB674" stroke="#A3A3A3" stroke-width="0.55"/>
<rect x="89.18" y="219.82" width="6.13" height="6.84" fill="#FEE090" stroke="#A3A3A3" stroke-width="0.55"/>
<rect x="95.31" y="219.82" width="6.13" height="6.84" fill="#FEE090" stroke="#A3A3A3" stroke-width="0.55"/>
<rect x="101.44" y="219.82" width="6.13" height="6.84" fill="#FDB674" stroke="#A3A3A3" stroke-width="0.55"/>
<rect x="107.57" y="219.82" width="6.13" height="6.84" fill="#B8D9EA" stroke="#A3A3A3" stroke-width="0.55"/>
<rect x="113.70" y="219.82" width="6.13" height="6.84" fill="#FFFFBF" stroke="#A3A3A3" stroke-width="0.55"/>
<rect x="119.83" y="219.82" width="6.13" height="6.84" fill="#F0F9DC" stroke="#A3A3A3" stroke-width="0.55"/>
<rect x="125.96" y="219.82" width="6.13" height="6.84" fill="#F0F9DC" stroke="#A3A3A3" stroke-width="0.55"/>
<rect x="132.09" y="219.82" width="6.13" height="6.84" fill="#E0F3F8" stroke="#A3A3A3" stroke-width="0.55"/>
<rect x="138.22" y="219.82" width="6.13" height="6.84" fill="#E0F3F8" stroke="#A3A3A3" stroke-width="0.55"/>
<rect x="144.35" y="219.82" width="6.13" height="6.84" fill="#F0F9DC" stroke="#A3A3A3" stroke-width="0.55"/>
<rect x="150.48" y="219.82" width="6.13" height="6.84" fill="#F0F9DC" stroke="#A3A3A3" stroke-width="0.55"/>
<rect x="156.61" y="219.82" width="6.13" height="6.84" fill="#E0F3F8" stroke="#A3A3A3" stroke-width="0.55"/>
<rect x="162.74" y="219.82" width="6.13" height="6.84" fill="#FFFFBF" stroke="#A3A3A3" stroke-width="0.55"/>
<rect x="168.87" y="219.82" width="6.13" height="6.84" fill="#91BFDB" stroke="#A3A3A3" stroke-width="0.55"/>
<rect x="52.40" y="226.66" width="6.13" height="6.84" fill="#F0F9DC" stroke="#A3A3A3" stroke-width="0.55"/>
<rect x="58.53" y="226.66" width="6.13" height="6.84" fill="#F0F9DC" stroke="#A3A3A3" stroke-width="0.55"/>
<rect x="64.66" y="226.66" width="6.13" height="6.84" fill="#F0F9DC" stroke="#A3A3A3" stroke-width="0.55"/>
<rect x="70.79" y="226.66" width="6.13" height="6.84" fill="#FEF0A8" stroke="#A3A3A3" stroke-width="0.55"/>
<rect x="76.92" y="226.66" width="6.13" height="6.84" fill="#FDB674" stroke="#A3A3A3" stroke-width="0.55"/>
<rect x="83.05" y="226.66" width="6.13" height="6.84" fill="#FDB674" stroke="#A3A3A3" stroke-width="0.55"/>
<rect x="89.18" y="226.66" width="6.13" height="6.84" fill="#FC8D59" stroke="#A3A3A3" stroke-width="0.55"/>
<rect x="95.31" y="226.66" width="6.13" height="6.84" fill="#FDB674" stroke="#A3A3A3" stroke-width="0.55"/>
<rect x="101.44" y="226.66" width="6.13" height="6.84" fill="#FEE090" stroke="#A3A3A3" stroke-width="0.55"/>
<rect x="107.57" y="226.66" width="6.13" height="6.84" fill="#FFFFBF" stroke="#A3A3A3" stroke-width="0.55"/>
<rect x="113.70" y="226.66" width="6.13" height="6.84" fill="#FFFFBF" stroke="#A3A3A3" stroke-width="0.55"/>
<rect x="119.83" y="226.66" width="6.13" height="6.84" fill="#FEF0A8" stroke="#A3A3A3" stroke-width="0.55"/>
<rect x="125.96" y="226.66" width="6.13" height="6.84" fill="#E0F3F8" stroke="#A3A3A3" stroke-width="0.55"/>
<rect x="132.09" y="226.66" width="6.13" height="6.84" fill="#FFFFBF" stroke="#A3A3A3" stroke-width="0.55"/>
<rect x="138.22" y="226.66" width="6.13" height="6.84" fill="#E0F3F8" stroke="#A3A3A3" stroke-width="0.55"/>
<rect x="144.35" y="226.66" width="6.13" height="6.84" fill="#F0F9DC" stroke="#A3A3A3" stroke-width="0.55"/>
<rect x="150.48" y="226.66" width="6.13" height="6.84" fill="#F0F9DC" stroke="#A3A3A3" stroke-width="0.55"/>
<rect x="156.61" y="226.66" width="6.13" height="6.84" fill="#E0F3F8" stroke="#A3A3A3" stroke-width="0.55"/>
<rect x="162.74" y="226.66" width="6.13" height="6.84" fill="#E0F3F8" stroke="#A3A3A3" stroke-width="0.55"/>
<rect x="168.87" y="226.66" width="6.13" height="6.84" fill="#F0F9DC" stroke="#A3A3A3" stroke-width="0.55"/>
<rect x="52.40" y="233.50" width="6.13" height="6.84" fill="#FDB674" stroke="#A3A3A3" stroke-width="0.55"/>
<rect x="58.53" y="233.50" width="6.13" height="6.84" fill="#FFFFBF" stroke="#A3A3A3" stroke-width="0.55"/>
<rect x="64.66" y="233.50" width="6.13" height="6.84" fill="#E0F3F8" stroke="#A3A3A3" stroke-width="0.55"/>
<rect x="70.79" y="233.50" width="6.13" height="6.84" fill="#FDB674" stroke="#A3A3A3" stroke-width="0.55"/>
<rect x="76.92" y="233.50" width="6.13" height="6.84" fill="#FC8D59" stroke="#A3A3A3" stroke-width="0.55"/>
<rect x="83.05" y="233.50" width="6.13" height="6.84" fill="#FEE090" stroke="#A3A3A3" stroke-width="0.55"/>
<rect x="89.18" y="233.50" width="6.13" height="6.84" fill="#FFFFBF" stroke="#A3A3A3" stroke-width="0.55"/>
<rect x="95.31" y="233.50" width="6.13" height="6.84" fill="#FEE090" stroke="#A3A3A3" stroke-width="0.55"/>
<rect x="101.44" y="233.50" width="6.13" height="6.84" fill="#FEE090" stroke="#A3A3A3" stroke-width="0.55"/>
<rect x="107.57" y="233.50" width="6.13" height="6.84" fill="#FEF0A8" stroke="#A3A3A3" stroke-width="0.55"/>
<rect x="113.70" y="233.50" width="6.13" height="6.84" fill="#E0F3F8" stroke="#A3A3A3" stroke-width="0.55"/>
<rect x="119.83" y="233.50" width="6.13" height="6.84" fill="#F0F9DC" stroke="#A3A3A3" stroke-width="0.55"/>
<rect x="125.96" y="233.50" width="6.13" height="6.84" fill="#FEF0A8" stroke="#A3A3A3" stroke-width="0.55"/>
<rect x="132.09" y="233.50" width="6.13" height="6.84" fill="#E0F3F8" stroke="#A3A3A3" stroke-width="0.55"/>
<rect x="138.22" y="233.50" width="6.13" height="6.84" fill="#F0F9DC" stroke="#A3A3A3" stroke-width="0.55"/>
<rect x="144.35" y="233.50" width="6.13" height="6.84" fill="#FEF0A8" stroke="#A3A3A3" stroke-width="0.55"/>
<rect x="150.48" y="233.50" width="6.13" height="6.84" fill="#FFFFBF" stroke="#A3A3A3" stroke-width="0.55"/>
<rect x="156.61" y="233.50" width="6.13" height="6.84" fill="#6B9AC8" stroke="#A3A3A3" stroke-width="0.55"/>
<rect x="162.74" y="233.50" width="6.13" height="6.84" fill="#FFFFBF" stroke="#A3A3A3" stroke-width="0.55"/>
<rect x="168.87" y="233.50" width="6.13" height="6.84" fill="#B8D9EA" stroke="#A3A3A3" stroke-width="0.55"/>
<rect x="52.40" y="240.34" width="6.13" height="6.84" fill="#FEF0A8" stroke="#A3A3A3" stroke-width="0.55"/>
<rect x="58.53" y="240.34" width="6.13" height="6.84" fill="#FEF0A8" stroke="#A3A3A3" stroke-width="0.55"/>
<rect x="64.66" y="240.34" width="6.13" height="6.84" fill="#FEE090" stroke="#A3A3A3" stroke-width="0.55"/>
<rect x="70.79" y="240.34" width="6.13" height="6.84" fill="#FC8D59" stroke="#A3A3A3" stroke-width="0.55"/>
<rect x="76.92" y="240.34" width="6.13" height="6.84" fill="#FEF0A8" stroke="#A3A3A3" stroke-width="0.55"/>
<rect x="83.05" y="240.34" width="6.13" height="6.84" fill="#FEE090" stroke="#A3A3A3" stroke-width="0.55"/>
<rect x="89.18" y="240.34" width="6.13" height="6.84" fill="#FEF0A8" stroke="#A3A3A3" stroke-width="0.55"/>
<rect x="95.31" y="240.34" width="6.13" height="6.84" fill="#FDB674" stroke="#A3A3A3" stroke-width="0.55"/>
<rect x="101.44" y="240.34" width="6.13" height="6.84" fill="#FDB674" stroke="#A3A3A3" stroke-width="0.55"/>
<rect x="107.57" y="240.34" width="6.13" height="6.84" fill="#FEE090" stroke="#A3A3A3" stroke-width="0.55"/>
<rect x="113.70" y="240.34" width="6.13" height="6.84" fill="#F0F9DC" stroke="#A3A3A3" stroke-width="0.55"/>
<rect x="119.83" y="240.34" width="6.13" height="6.84" fill="#6B9AC8" stroke="#A3A3A3" stroke-width="0.55"/>
<rect x="125.96" y="240.34" width="6.13" height="6.84" fill="#FEF0A8" stroke="#A3A3A3" stroke-width="0.55"/>
<rect x="132.09" y="240.34" width="6.13" height="6.84" fill="#FEE090" stroke="#A3A3A3" stroke-width="0.55"/>
<rect x="138.22" y="240.34" width="6.13" height="6.84" fill="#B8D9EA" stroke="#A3A3A3" stroke-width="0.55"/>
<rect x="144.35" y="240.34" width="6.13" height="6.84" fill="#FFFFBF" stroke="#A3A3A3" stroke-width="0.55"/>
<rect x="150.48" y="240.34" width="6.13" height="6.84" fill="#F0F9DC" stroke="#A3A3A3" stroke-width="0.55"/>
<rect x="156.61" y="240.34" width="6.13" height="6.84" fill="#E0F3F8" stroke="#A3A3A3" stroke-width="0.55"/>
<rect x="162.74" y="240.34" width="6.13" height="6.84" fill="#F0F9DC" stroke="#A3A3A3" stroke-width="0.55"/>
<rect x="168.87" y="240.34" width="6.13" height="6.84" fill="#B8D9EA" stroke="#A3A3A3" stroke-width="0.55"/>
<rect x="52.40" y="247.18" width="6.13" height="6.84" fill="#FEE090" stroke="#A3A3A3" stroke-width="0.55"/>
<rect x="58.53" y="247.18" width="6.13" height="6.84" fill="#E0F3F8" stroke="#A3A3A3" stroke-width="0.55"/>
<rect x="64.66" y="247.18" width="6.13" height="6.84" fill="#F0F9DC" stroke="#A3A3A3" stroke-width="0.55"/>
<rect x="70.79" y="247.18" width="6.13" height="6.84" fill="#EA5E40" stroke="#A3A3A3" stroke-width="0.55"/>
<rect x="76.92" y="247.18" width="6.13" height="6.84" fill="#FDB674" stroke="#A3A3A3" stroke-width="0.55"/>
<rect x="83.05" y="247.18" width="6.13" height="6.84" fill="#FEE090" stroke="#A3A3A3" stroke-width="0.55"/>
<rect x="89.18" y="247.18" width="6.13" height="6.84" fill="#E0F3F8" stroke="#A3A3A3" stroke-width="0.55"/>
<rect x="95.31" y="247.18" width="6.13" height="6.84" fill="#FEE090" stroke="#A3A3A3" stroke-width="0.55"/>
<rect x="101.44" y="247.18" width="6.13" height="6.84" fill="#FDB674" stroke="#A3A3A3" stroke-width="0.55"/>
<rect x="107.57" y="247.18" width="6.13" height="6.84" fill="#FEE090" stroke="#A3A3A3" stroke-width="0.55"/>
<rect x="113.70" y="247.18" width="6.13" height="6.84" fill="#F0F9DC" stroke="#A3A3A3" stroke-width="0.55"/>
<rect x="119.83" y="247.18" width="6.13" height="6.84" fill="#B8D9EA" stroke="#A3A3A3" stroke-width="0.55"/>
<rect x="125.96" y="247.18" width="6.13" height="6.84" fill="#F0F9DC" stroke="#A3A3A3" stroke-width="0.55"/>
<rect x="132.09" y="247.18" width="6.13" height="6.84" fill="#FEE090" stroke="#A3A3A3" stroke-width="0.55"/>
<rect x="138.22" y="247.18" width="6.13" height="6.84" fill="#E0F3F8" stroke="#A3A3A3" stroke-width="0.55"/>
<rect x="144.35" y="247.18" width="6.13" height="6.84" fill="#E0F3F8" stroke="#A3A3A3" stroke-width="0.55"/>
<rect x="150.48" y="247.18" width="6.13" height="6.84" fill="#E0F3F8" stroke="#A3A3A3" stroke-width="0.55"/>
<rect x="156.61" y="247.18" width="6.13" height="6.84" fill="#FEE090" stroke="#A3A3A3" stroke-width="0.55"/>
<rect x="162.74" y="247.18" width="6.13" height="6.84" fill="#F0F9DC" stroke="#A3A3A3" stroke-width="0.55"/>
<rect x="168.87" y="247.18" width="6.13" height="6.84" fill="#E0F3F8" stroke="#A3A3A3" stroke-width="0.55"/>
<rect x="52.40" y="254.02" width="6.13" height="6.84" fill="#FC8D59" stroke="#A3A3A3" stroke-width="0.55"/>
<rect x="58.53" y="254.02" width="6.13" height="6.84" fill="#FEE090" stroke="#A3A3A3" stroke-width="0.55"/>
<rect x="64.66" y="254.02" width="6.13" height="6.84" fill="#FEE090" stroke="#A3A3A3" stroke-width="0.55"/>
<rect x="70.79" y="254.02" width="6.13" height="6.84" fill="#FFFFBF" stroke="#A3A3A3" stroke-width="0.55"/>
<rect x="76.92" y="254.02" width="6.13" height="6.84" fill="#F0F9DC" stroke="#A3A3A3" stroke-width="0.55"/>
<rect x="83.05" y="254.02" width="6.13" height="6.84" fill="#F0F9DC" stroke="#A3A3A3" stroke-width="0.55"/>
<rect x="89.18" y="254.02" width="6.13" height="6.84" fill="#FEE090" stroke="#A3A3A3" stroke-width="0.55"/>
<rect x="95.31" y="254.02" width="6.13" height="6.84" fill="#FC8D59" stroke="#A3A3A3" stroke-width="0.55"/>
<rect x="101.44" y="254.02" width="6.13" height="6.84" fill="#FC8D59" stroke="#A3A3A3" stroke-width="0.55"/>
<rect x="107.57" y="254.02" width="6.13" height="6.84" fill="#FEF0A8" stroke="#A3A3A3" stroke-width="0.55"/>
<rect x="113.70" y="254.02" width="6.13" height="6.84" fill="#91BFDB" stroke="#A3A3A3" stroke-width="0.55"/>
<rect x="119.83" y="254.02" width="6.13" height="6.84" fill="#E0F3F8" stroke="#A3A3A3" stroke-width="0.55"/>
<rect x="125.96" y="254.02" width="6.13" height="6.84" fill="#F0F9DC" stroke="#A3A3A3" stroke-width="0.55"/>
<rect x="132.09" y="254.02" width="6.13" height="6.84" fill="#F0F9DC" stroke="#A3A3A3" stroke-width="0.55"/>
<rect x="138.22" y="254.02" width="6.13" height="6.84" fill="#E0F3F8" stroke="#A3A3A3" stroke-width="0.55"/>
<rect x="144.35" y="254.02" width="6.13" height="6.84" fill="#F0F9DC" stroke="#A3A3A3" stroke-width="0.55"/>
<rect x="150.48" y="254.02" width="6.13" height="6.84" fill="#F0F9DC" stroke="#A3A3A3" stroke-width="0.55"/>
<rect x="156.61" y="254.02" width="6.13" height="6.84" fill="#FEE090" stroke="#A3A3A3" stroke-width="0.55"/>
<rect x="162.74" y="254.02" width="6.13" height="6.84" fill="#B8D9EA" stroke="#A3A3A3" stroke-width="0.55"/>
<rect x="168.87" y="254.02" width="6.13" height="6.84" fill="#FEF0A8" stroke="#A3A3A3" stroke-width="0.55"/>
<rect x="52.40" y="260.86" width="6.13" height="6.84" fill="#FDB674" stroke="#A3A3A3" stroke-width="0.55"/>
<rect x="58.53" y="260.86" width="6.13" height="6.84" fill="#FEE090" stroke="#A3A3A3" stroke-width="0.55"/>
<rect x="64.66" y="260.86" width="6.13" height="6.84" fill="#FEE090" stroke="#A3A3A3" stroke-width="0.55"/>
<rect x="70.79" y="260.86" width="6.13" height="6.84" fill="#FEE090" stroke="#A3A3A3" stroke-width="0.55"/>
<rect x="76.92" y="260.86" width="6.13" height="6.84" fill="#FFFFBF" stroke="#A3A3A3" stroke-width="0.55"/>
<rect x="83.05" y="260.86" width="6.13" height="6.84" fill="#E0F3F8" stroke="#A3A3A3" stroke-width="0.55"/>
<rect x="89.18" y="260.86" width="6.13" height="6.84" fill="#D73027" stroke="#A3A3A3" stroke-width="0.55"/>
<rect x="95.31" y="260.86" width="6.13" height="6.84" fill="#FEE090" stroke="#A3A3A3" stroke-width="0.55"/>
<rect x="101.44" y="260.86" width="6.13" height="6.84" fill="#FEF0A8" stroke="#A3A3A3" stroke-width="0.55"/>
<rect x="107.57" y="260.86" width="6.13" height="6.84" fill="#F0F9DC" stroke="#A3A3A3" stroke-width="0.55"/>
<rect x="113.70" y="260.86" width="6.13" height="6.84" fill="#E0F3F8" stroke="#A3A3A3" stroke-width="0.55"/>
<rect x="119.83" y="260.86" width="6.13" height="6.84" fill="#F0F9DC" stroke="#A3A3A3" stroke-width="0.55"/>
<rect x="125.96" y="260.86" width="6.13" height="6.84" fill="#F0F9DC" stroke="#A3A3A3" stroke-width="0.55"/>
<rect x="132.09" y="260.86" width="6.13" height="6.84" fill="#F0F9DC" stroke="#A3A3A3" stroke-width="0.55"/>
<rect x="138.22" y="260.86" width="6.13" height="6.84" fill="#B8D9EA" stroke="#A3A3A3" stroke-width="0.55"/>
<rect x="144.35" y="260.86" width="6.13" height="6.84" fill="#FEF0A8" stroke="#A3A3A3" stroke-width="0.55"/>
<rect x="150.48" y="260.86" width="6.13" height="6.84" fill="#B8D9EA" stroke="#A3A3A3" stroke-width="0.55"/>
<rect x="156.61" y="260.86" width="6.13" height="6.84" fill="#E0F3F8" stroke="#A3A3A3" stroke-width="0.55"/>
<rect x="162.74" y="260.86" width="6.13" height="6.84" fill="#FFFFBF" stroke="#A3A3A3" stroke-width="0.55"/>
<rect x="168.87" y="260.86" width="6.13" height="6.84" fill="#F0F9DC" stroke="#A3A3A3" stroke-width="0.55"/>
<rect x="52.40" y="267.70" width="6.13" height="6.84" fill="#FEE090" stroke="#A3A3A3" stroke-width="0.55"/>
<rect x="58.53" y="267.70" width="6.13" height="6.84" fill="#FDB674" stroke="#A3A3A3" stroke-width="0.55"/>
<rect x="64.66" y="267.70" width="6.13" height="6.84" fill="#FEE090" stroke="#A3A3A3" stroke-width="0.55"/>
<rect x="70.79" y="267.70" width="6.13" height="6.84" fill="#FEE090" stroke="#A3A3A3" stroke-width="0.55"/>
<rect x="76.92" y="267.70" width="6.13" height="6.84" fill="#FDB674" stroke="#A3A3A3" stroke-width="0.55"/>
<rect x="83.05" y="267.70" width="6.13" height="6.84" fill="#FEF0A8" stroke="#A3A3A3" stroke-width="0.55"/>
<rect x="89.18" y="267.70" width="6.13" height="6.84" fill="#FC8D59" stroke="#A3A3A3" stroke-width="0.55"/>
<rect x="95.31" y="267.70" width="6.13" height="6.84" fill="#FEF0A8" stroke="#A3A3A3" stroke-width="0.55"/>
<rect x="101.44" y="267.70" width="6.13" height="6.84" fill="#F0F9DC" stroke="#A3A3A3" stroke-width="0.55"/>
<rect x="107.57" y="267.70" width="6.13" height="6.84" fill="#E0F3F8" stroke="#A3A3A3" stroke-width="0.55"/>
<rect x="113.70" y="267.70" width="6.13" height="6.84" fill="#B8D9EA" stroke="#A3A3A3" stroke-width="0.55"/>
<rect x="119.83" y="267.70" width="6.13" height="6.84" fill="#B8D9EA" stroke="#A3A3A3" stroke-width="0.55"/>
<rect x="125.96" y="267.70" width="6.13" height="6.84" fill="#F0F9DC" stroke="#A3A3A3" stroke-width="0.55"/>
<rect x="132.09" y="267.70" width="6.13" height="6.84" fill="#FEF0A8" stroke="#A3A3A3" stroke-width="0.55"/>
<rect x="138.22" y="267.70" width="6.13" height="6.84" fill="#F0F9DC" stroke="#A3A3A3" stroke-width="0.55"/>
<rect x="144.35" y="267.70" width="6.13" height="6.84" fill="#E0F3F8" stroke="#A3A3A3" stroke-width="0.55"/>
<rect x="150.48" y="267.70" width="6.13" height="6.84" fill="#F0F9DC" stroke="#A3A3A3" stroke-width="0.55"/>
<rect x="156.61" y="267.70" width="6.13" height="6.84" fill="#F0F9DC" stroke="#A3A3A3" stroke-width="0.55"/>
<rect x="162.74" y="267.70" width="6.13" height="6.84" fill="#E0F3F8" stroke="#A3A3A3" stroke-width="0.55"/>
<rect x="168.87" y="267.70" width="6.13" height="6.84" fill="#FEF0A8" stroke="#A3A3A3" stroke-width="0.55"/>
<rect x="52.40" y="274.54" width="6.13" height="6.84" fill="#FEF0A8" stroke="#A3A3A3" stroke-width="0.55"/>
<rect x="58.53" y="274.54" width="6.13" height="6.84" fill="#FDB674" stroke="#A3A3A3" stroke-width="0.55"/>
<rect x="64.66" y="274.54" width="6.13" height="6.84" fill="#FC8D59" stroke="#A3A3A3" stroke-width="0.55"/>
<rect x="70.79" y="274.54" width="6.13" height="6.84" fill="#FEF0A8" stroke="#A3A3A3" stroke-width="0.55"/>
<rect x="76.92" y="274.54" width="6.13" height="6.84" fill="#FFFFBF" stroke="#A3A3A3" stroke-width="0.55"/>
<rect x="83.05" y="274.54" width="6.13" height="6.84" fill="#FEE090" stroke="#A3A3A3" stroke-width="0.55"/>
<rect x="89.18" y="274.54" width="6.13" height="6.84" fill="#FDB674" stroke="#A3A3A3" stroke-width="0.55"/>
<rect x="95.31" y="274.54" width="6.13" height="6.84" fill="#FEF0A8" stroke="#A3A3A3" stroke-width="0.55"/>
<rect x="101.44" y="274.54" width="6.13" height="6.84" fill="#FEF0A8" stroke="#A3A3A3" stroke-width="0.55"/>
<rect x="107.57" y="274.54" width="6.13" height="6.84" fill="#FEF0A8" stroke="#A3A3A3" stroke-width="0.55"/>
<rect x="113.70" y="274.54" width="6.13" height="6.84" fill="#E0F3F8" stroke="#A3A3A3" stroke-width="0.55"/>
<rect x="119.83" y="274.54" width="6.13" height="6.84" fill="#FC8D59" stroke="#A3A3A3" stroke-width="0.55"/>
<rect x="125.96" y="274.54" width="6.13" height="6.84" fill="#E0F3F8" stroke="#A3A3A3" stroke-width="0.55"/>
<rect x="132.09" y="274.54" width="6.13" height="6.84" fill="#F0F9DC" stroke="#A3A3A3" stroke-width="0.55"/>
<rect x="138.22" y="274.54" width="6.13" height="6.84" fill="#91BFDB" stroke="#A3A3A3" stroke-width="0.55"/>
<rect x="144.35" y="274.54" width="6.13" height="6.84" fill="#F0F9DC" stroke="#A3A3A3" stroke-width="0.55"/>
<rect x="150.48" y="274.54" width="6.13" height="6.84" fill="#E0F3F8" stroke="#A3A3A3" stroke-width="0.55"/>
<rect x="156.61" y="274.54" width="6.13" height="6.84" fill="#B8D9EA" stroke="#A3A3A3" stroke-width="0.55"/>
<rect x="162.74" y="274.54" width="6.13" height="6.84" fill="#E0F3F8" stroke="#A3A3A3" stroke-width="0.55"/>
<rect x="168.87" y="274.54" width="6.13" height="6.84" fill="#FFFFBF" stroke="#A3A3A3" stroke-width="0.55"/>
<rect x="52.40" y="281.38" width="6.13" height="6.84" fill="#FEE090" stroke="#A3A3A3" stroke-width="0.55"/>
<rect x="58.53" y="281.38" width="6.13" height="6.84" fill="#F0F9DC" stroke="#A3A3A3" stroke-width="0.55"/>
<rect x="64.66" y="281.38" width="6.13" height="6.84" fill="#FC8D59" stroke="#A3A3A3" stroke-width="0.55"/>
<rect x="70.79" y="281.38" width="6.13" height="6.84" fill="#FEF0A8" stroke="#A3A3A3" stroke-width="0.55"/>
<rect x="76.92" y="281.38" width="6.13" height="6.84" fill="#FEE090" stroke="#A3A3A3" stroke-width="0.55"/>
<rect x="83.05" y="281.38" width="6.13" height="6.84" fill="#FEF0A8" stroke="#A3A3A3" stroke-width="0.55"/>
<rect x="89.18" y="281.38" width="6.13" height="6.84" fill="#FEE090" stroke="#A3A3A3" stroke-width="0.55"/>
<rect x="95.31" y="281.38" width="6.13" height="6.84" fill="#EA5E40" stroke="#A3A3A3" stroke-width="0.55"/>
<rect x="101.44" y="281.38" width="6.13" height="6.84" fill="#E0F3F8" stroke="#A3A3A3" stroke-width="0.55"/>
<rect x="107.57" y="281.38" width="6.13" height="6.84" fill="#FEF0A8" stroke="#A3A3A3" stroke-width="0.55"/>
<rect x="113.70" y="281.38" width="6.13" height="6.84" fill="#B8D9EA" stroke="#A3A3A3" stroke-width="0.55"/>
<rect x="119.83" y="281.38" width="6.13" height="6.84" fill="#FEF0A8" stroke="#A3A3A3" stroke-width="0.55"/>
<rect x="125.96" y="281.38" width="6.13" height="6.84" fill="#FFFFBF" stroke="#A3A3A3" stroke-width="0.55"/>
<rect x="132.09" y="281.38" width="6.13" height="6.84" fill="#FFFFBF" stroke="#A3A3A3" stroke-width="0.55"/>
<rect x="138.22" y="281.38" width="6.13" height="6.84" fill="#B8D9EA" stroke="#A3A3A3" stroke-width="0.55"/>
<rect x="144.35" y="281.38" width="6.13" height="6.84" fill="#B8D9EA" stroke="#A3A3A3" stroke-width="0.55"/>
<rect x="150.48" y="281.38" width="6.13" height="6.84" fill="#F0F9DC" stroke="#A3A3A3" stroke-width="0.55"/>
<rect x="156.61" y="281.38" width="6.13" height="6.84" fill="#B8D9EA" stroke="#A3A3A3" stroke-width="0.55"/>
<rect x="162.74" y="281.38" width="6.13" height="6.84" fill="#FEE090" stroke="#A3A3A3" stroke-width="0.55"/>
<rect x="168.87" y="281.38" width="6.13" height="6.84" fill="#F0F9DC" stroke="#A3A3A3" stroke-width="0.55"/>
<rect x="52.40" y="288.22" width="6.13" height="6.84" fill="#E0F3F8" stroke="#A3A3A3" stroke-width="0.55"/>
<rect x="58.53" y="288.22" width="6.13" height="6.84" fill="#FDB674" stroke="#A3A3A3" stroke-width="0.55"/>
<rect x="64.66" y="288.22" width="6.13" height="6.84" fill="#FEF0A8" stroke="#A3A3A3" stroke-width="0.55"/>
<rect x="70.79" y="288.22" width="6.13" height="6.84" fill="#FFFFBF" stroke="#A3A3A3" stroke-width="0.55"/>
<rect x="76.92" y="288.22" width="6.13" height="6.84" fill="#FDB674" stroke="#A3A3A3" stroke-width="0.55"/>
<rect x="83.05" y="288.22" width="6.13" height="6.84" fill="#FEE090" stroke="#A3A3A3" stroke-width="0.55"/>
<rect x="89.18" y="288.22" width="6.13" height="6.84" fill="#FC8D59" stroke="#A3A3A3" stroke-width="0.55"/>
<rect x="95.31" y="288.22" width="6.13" height="6.84" fill="#FEF0A8" stroke="#A3A3A3" stroke-width="0.55"/>
<rect x="101.44" y="288.22" width="6.13" height="6.84" fill="#FFFFBF" stroke="#A3A3A3" stroke-width="0.55"/>
<rect x="107.57" y="288.22" width="6.13" height="6.84" fill="#FC8D59" stroke="#A3A3A3" stroke-width="0.55"/>
<rect x="113.70" y="288.22" width="6.13" height="6.84" fill="#91BFDB" stroke="#A3A3A3" stroke-width="0.55"/>
<rect x="119.83" y="288.22" width="6.13" height="6.84" fill="#E0F3F8" stroke="#A3A3A3" stroke-width="0.55"/>
<rect x="125.96" y="288.22" width="6.13" height="6.84" fill="#FEE090" stroke="#A3A3A3" stroke-width="0.55"/>
<rect x="132.09" y="288.22" width="6.13" height="6.84" fill="#E0F3F8" stroke="#A3A3A3" stroke-width="0.55"/>
<rect x="138.22" y="288.22" width="6.13" height="6.84" fill="#F0F9DC" stroke="#A3A3A3" stroke-width="0.55"/>
<rect x="144.35" y="288.22" width="6.13" height="6.84" fill="#FEE090" stroke="#A3A3A3" stroke-width="0.55"/>
<rect x="150.48" y="288.22" width="6.13" height="6.84" fill="#FFFFBF" stroke="#A3A3A3" stroke-width="0.55"/>
<rect x="156.61" y="288.22" width="6.13" height="6.84" fill="#B8D9EA" stroke="#A3A3A3" stroke-width="0.55"/>
<rect x="162.74" y="288.22" width="6.13" height="6.84" fill="#F0F9DC" stroke="#A3A3A3" stroke-width="0.55"/>
<rect x="168.87" y="288.22" width="6.13" height="6.84" fill="#F0F9DC" stroke="#A3A3A3" stroke-width="0.55"/>
<rect x="52.40" y="295.06" width="6.13" height="6.84" fill="#FEE090" stroke="#A3A3A3" stroke-width="0.55"/>
<rect x="58.53" y="295.06" width="6.13" height="6.84" fill="#FEF0A8" stroke="#A3A3A3" stroke-width="0.55"/>
<rect x="64.66" y="295.06" width="6.13" height="6.84" fill="#FEF0A8" stroke="#A3A3A3" stroke-width="0.55"/>
<rect x="70.79" y="295.06" width="6.13" height="6.84" fill="#FEE090" stroke="#A3A3A3" stroke-width="0.55"/>
<rect x="76.92" y="295.06" width="6.13" height="6.84" fill="#FEF0A8" stroke="#A3A3A3" stroke-width="0.55"/>
<rect x="83.05" y="295.06" width="6.13" height="6.84" fill="#FEF0A8" stroke="#A3A3A3" stroke-width="0.55"/>
<rect x="89.18" y="295.06" width="6.13" height="6.84" fill="#F0F9DC" stroke="#A3A3A3" stroke-width="0.55"/>
<rect x="95.31" y="295.06" width="6.13" height="6.84" fill="#FEF0A8" stroke="#A3A3A3" stroke-width="0.55"/>
<rect x="101.44" y="295.06" width="6.13" height="6.84" fill="#FEF0A8" stroke="#A3A3A3" stroke-width="0.55"/>
<rect x="107.57" y="295.06" width="6.13" height="6.84" fill="#FC8D59" stroke="#A3A3A3" stroke-width="0.55"/>
<rect x="113.70" y="295.06" width="6.13" height="6.84" fill="#B8D9EA" stroke="#A3A3A3" stroke-width="0.55"/>
<rect x="119.83" y="295.06" width="6.13" height="6.84" fill="#B8D9EA" stroke="#A3A3A3" stroke-width="0.55"/>
<rect x="125.96" y="295.06" width="6.13" height="6.84" fill="#F0F9DC" stroke="#A3A3A3" stroke-width="0.55"/>
<rect x="132.09" y="295.06" width="6.13" height="6.84" fill="#B8D9EA" stroke="#A3A3A3" stroke-width="0.55"/>
<rect x="138.22" y="295.06" width="6.13" height="6.84" fill="#FFFFBF" stroke="#A3A3A3" stroke-width="0.55"/>
<rect x="144.35" y="295.06" width="6.13" height="6.84" fill="#FDB674" stroke="#A3A3A3" stroke-width="0.55"/>
<rect x="150.48" y="295.06" width="6.13" height="6.84" fill="#FEE090" stroke="#A3A3A3" stroke-width="0.55"/>
<rect x="156.61" y="295.06" width="6.13" height="6.84" fill="#91BFDB" stroke="#A3A3A3" stroke-width="0.55"/>
<rect x="162.74" y="295.06" width="6.13" height="6.84" fill="#FEF0A8" stroke="#A3A3A3" stroke-width="0.55"/>
<rect x="168.87" y="295.06" width="6.13" height="6.84" fill="#F0F9DC" stroke="#A3A3A3" stroke-width="0.55"/>
<rect x="52.40" y="301.90" width="6.13" height="6.84" fill="#FEE090" stroke="#A3A3A3" stroke-width="0.55"/>
<rect x="58.53" y="301.90" width="6.13" height="6.84" fill="#FEE090" stroke="#A3A3A3" stroke-width="0.55"/>
<rect x="64.66" y="301.90" width="6.13" height="6.84" fill="#FEE090" stroke="#A3A3A3" stroke-width="0.55"/>
<rect x="70.79" y="301.90" width="6.13" height="6.84" fill="#FEE090" stroke="#A3A3A3" stroke-width="0.55"/>
<rect x="76.92" y="301.90" width="6.13" height="6.84" fill="#FFFFBF" stroke="#A3A3A3" stroke-width="0.55"/>
<rect x="83.05" y="301.90" width="6.13" height="6.84" fill="#FDB674" stroke="#A3A3A3" stroke-width="0.55"/>
<rect x="89.18" y="301.90" width="6.13" height="6.84" fill="#FEF0A8" stroke="#A3A3A3" stroke-width="0.55"/>
<rect x="95.31" y="301.90" width="6.13" height="6.84" fill="#FEF0A8" stroke="#A3A3A3" stroke-width="0.55"/>
<rect x="101.44" y="301.90" width="6.13" height="6.84" fill="#F0F9DC" stroke="#A3A3A3" stroke-width="0.55"/>
<rect x="107.57" y="301.90" width="6.13" height="6.84" fill="#FC8D59" stroke="#A3A3A3" stroke-width="0.55"/>
<rect x="113.70" y="301.90" width="6.13" height="6.84" fill="#B8D9EA" stroke="#A3A3A3" stroke-width="0.55"/>
<rect x="119.83" y="301.90" width="6.13" height="6.84" fill="#FEF0A8" stroke="#A3A3A3" stroke-width="0.55"/>
<rect x="125.96" y="301.90" width="6.13" height="6.84" fill="#F0F9DC" stroke="#A3A3A3" stroke-width="0.55"/>
<rect x="132.09" y="301.90" width="6.13" height="6.84" fill="#B8D9EA" stroke="#A3A3A3" stroke-width="0.55"/>
<rect x="138.22" y="301.90" width="6.13" height="6.84" fill="#FFFFBF" stroke="#A3A3A3" stroke-width="0.55"/>
<rect x="144.35" y="301.90" width="6.13" height="6.84" fill="#FFFFBF" stroke="#A3A3A3" stroke-width="0.55"/>
<rect x="150.48" y="301.90" width="6.13" height="6.84" fill="#FEE090" stroke="#A3A3A3" stroke-width="0.55"/>
<rect x="156.61" y="301.90" width="6.13" height="6.84" fill="#91BFDB" stroke="#A3A3A3" stroke-width="0.55"/>
<rect x="162.74" y="301.90" width="6.13" height="6.84" fill="#F0F9DC" stroke="#A3A3A3" stroke-width="0.55"/>
<rect x="168.87" y="301.90" width="6.13" height="6.84" fill="#B8D9EA" stroke="#A3A3A3" stroke-width="0.55"/>
<rect x="52.40" y="308.74" width="6.13" height="6.84" fill="#FEF0A8" stroke="#A3A3A3" stroke-width="0.55"/>
<rect x="58.53" y="308.74" width="6.13" height="6.84" fill="#F0F9DC" stroke="#A3A3A3" stroke-width="0.55"/>
<rect x="64.66" y="308.74" width="6.13" height="6.84" fill="#FEE090" stroke="#A3A3A3" stroke-width="0.55"/>
<rect x="70.79" y="308.74" width="6.13" height="6.84" fill="#FC8D59" stroke="#A3A3A3" stroke-width="0.55"/>
<rect x="76.92" y="308.74" width="6.13" height="6.84" fill="#FEE090" stroke="#A3A3A3" stroke-width="0.55"/>
<rect x="83.05" y="308.74" width="6.13" height="6.84" fill="#FEF0A8" stroke="#A3A3A3" stroke-width="0.55"/>
<rect x="89.18" y="308.74" width="6.13" height="6.84" fill="#FC8D59" stroke="#A3A3A3" stroke-width="0.55"/>
<rect x="95.31" y="308.74" width="6.13" height="6.84" fill="#FEE090" stroke="#A3A3A3" stroke-width="0.55"/>
<rect x="101.44" y="308.74" width="6.13" height="6.84" fill="#FC8D59" stroke="#A3A3A3" stroke-width="0.55"/>
<rect x="107.57" y="308.74" width="6.13" height="6.84" fill="#FEF0A8" stroke="#A3A3A3" stroke-width="0.55"/>
<rect x="113.70" y="308.74" width="6.13" height="6.84" fill="#E0F3F8" stroke="#A3A3A3" stroke-width="0.55"/>
<rect x="119.83" y="308.74" width="6.13" height="6.84" fill="#FEF0A8" stroke="#A3A3A3" stroke-width="0.55"/>
<rect x="125.96" y="308.74" width="6.13" height="6.84" fill="#B8D9EA" stroke="#A3A3A3" stroke-width="0.55"/>
<rect x="132.09" y="308.74" width="6.13" height="6.84" fill="#FFFFBF" stroke="#A3A3A3" stroke-width="0.55"/>
<rect x="138.22" y="308.74" width="6.13" height="6.84" fill="#B8D9EA" stroke="#A3A3A3" stroke-width="0.55"/>
<rect x="144.35" y="308.74" width="6.13" height="6.84" fill="#FFFFBF" stroke="#A3A3A3" stroke-width="0.55"/>
<rect x="150.48" y="308.74" width="6.13" height="6.84" fill="#F0F9DC" stroke="#A3A3A3" stroke-width="0.55"/>
<rect x="156.61" y="308.74" width="6.13" height="6.84" fill="#B8D9EA" stroke="#A3A3A3" stroke-width="0.55"/>
<rect x="162.74" y="308.74" width="6.13" height="6.84" fill="#FFFFBF" stroke="#A3A3A3" stroke-width="0.55"/>
<rect x="168.87" y="308.74" width="6.13" height="6.84" fill="#91BFDB" stroke="#A3A3A3" stroke-width="0.55"/>
<rect x="52.40" y="315.58" width="6.13" height="6.84" fill="#FEE090" stroke="#A3A3A3" stroke-width="0.55"/>
<rect x="58.53" y="315.58" width="6.13" height="6.84" fill="#F0F9DC" stroke="#A3A3A3" stroke-width="0.55"/>
<rect x="64.66" y="315.58" width="6.13" height="6.84" fill="#FDB674" stroke="#A3A3A3" stroke-width="0.55"/>
<rect x="70.79" y="315.58" width="6.13" height="6.84" fill="#FDB674" stroke="#A3A3A3" stroke-width="0.55"/>
<rect x="76.92" y="315.58" width="6.13" height="6.84" fill="#FEF0A8" stroke="#A3A3A3" stroke-width="0.55"/>
<rect x="83.05" y="315.58" width="6.13" height="6.84" fill="#FEE090" stroke="#A3A3A3" stroke-width="0.55"/>
<rect x="89.18" y="315.58" width="6.13" height="6.84" fill="#FC8D59" stroke="#A3A3A3" stroke-width="0.55"/>
<rect x="95.31" y="315.58" width="6.13" height="6.84" fill="#FDB674" stroke="#A3A3A3" stroke-width="0.55"/>
<rect x="101.44" y="315.58" width="6.13" height="6.84" fill="#FEE090" stroke="#A3A3A3" stroke-width="0.55"/>
<rect x="107.57" y="315.58" width="6.13" height="6.84" fill="#FEE090" stroke="#A3A3A3" stroke-width="0.55"/>
<rect x="113.70" y="315.58" width="6.13" height="6.84" fill="#FFFFBF" stroke="#A3A3A3" stroke-width="0.55"/>
<rect x="119.83" y="315.58" width="6.13" height="6.84" fill="#FFFFBF" stroke="#A3A3A3" stroke-width="0.55"/>
<rect x="125.96" y="315.58" width="6.13" height="6.84" fill="#F0F9DC" stroke="#A3A3A3" stroke-width="0.55"/>
<rect x="132.09" y="315.58" width="6.13" height="6.84" fill="#E0F3F8" stroke="#A3A3A3" stroke-width="0.55"/>
<rect x="138.22" y="315.58" width="6.13" height="6.84" fill="#FEE090" stroke="#A3A3A3" stroke-width="0.55"/>
<rect x="144.35" y="315.58" width="6.13" height="6.84" fill="#F0F9DC" stroke="#A3A3A3" stroke-width="0.55"/>
<rect x="150.48" y="315.58" width="6.13" height="6.84" fill="#B8D9EA" stroke="#A3A3A3" stroke-width="0.55"/>
<rect x="156.61" y="315.58" width="6.13" height="6.84" fill="#B8D9EA" stroke="#A3A3A3" stroke-width="0.55"/>
<rect x="162.74" y="315.58" width="6.13" height="6.84" fill="#FFFFBF" stroke="#A3A3A3" stroke-width="0.55"/>
<rect x="168.87" y="315.58" width="6.13" height="6.84" fill="#6B9AC8" stroke="#A3A3A3" stroke-width="0.55"/>
<rect x="52.40" y="322.42" width="6.13" height="6.84" fill="#FC8D59" stroke="#A3A3A3" stroke-width="0.55"/>
<rect x="58.53" y="322.42" width="6.13" height="6.84" fill="#FEF0A8" stroke="#A3A3A3" stroke-width="0.55"/>
<rect x="64.66" y="322.42" width="6.13" height="6.84" fill="#FEE090" stroke="#A3A3A3" stroke-width="0.55"/>
<rect x="70.79" y="322.42" width="6.13" height="6.84" fill="#FEE090" stroke="#A3A3A3" stroke-width="0.55"/>
<rect x="76.92" y="322.42" width="6.13" height="6.84" fill="#E0F3F8" stroke="#A3A3A3" stroke-width="0.55"/>
<rect x="83.05" y="322.42" width="6.13" height="6.84" fill="#FEE090" stroke="#A3A3A3" stroke-width="0.55"/>
<rect x="89.18" y="322.42" width="6.13" height="6.84" fill="#FC8D59" stroke="#A3A3A3" stroke-width="0.55"/>
<rect x="95.31" y="322.42" width="6.13" height="6.84" fill="#FDB674" stroke="#A3A3A3" stroke-width="0.55"/>
<rect x="101.44" y="322.42" width="6.13" height="6.84" fill="#FEE090" stroke="#A3A3A3" stroke-width="0.55"/>
<rect x="107.57" y="322.42" width="6.13" height="6.84" fill="#F0F9DC" stroke="#A3A3A3" stroke-width="0.55"/>
<rect x="113.70" y="322.42" width="6.13" height="6.84" fill="#FFFFBF" stroke="#A3A3A3" stroke-width="0.55"/>
<rect x="119.83" y="322.42" width="6.13" height="6.84" fill="#6B9AC8" stroke="#A3A3A3" stroke-width="0.55"/>
<rect x="125.96" y="322.42" width="6.13" height="6.84" fill="#B8D9EA" stroke="#A3A3A3" stroke-width="0.55"/>
<rect x="132.09" y="322.42" width="6.13" height="6.84" fill="#FFFFBF" stroke="#A3A3A3" stroke-width="0.55"/>
<rect x="138.22" y="322.42" width="6.13" height="6.84" fill="#F0F9DC" stroke="#A3A3A3" stroke-width="0.55"/>
<rect x="144.35" y="322.42" width="6.13" height="6.84" fill="#FFFFBF" stroke="#A3A3A3" stroke-width="0.55"/>
<rect x="150.48" y="322.42" width="6.13" height="6.84" fill="#FFFFBF" stroke="#A3A3A3" stroke-width="0.55"/>
<rect x="156.61" y="322.42" width="6.13" height="6.84" fill="#B8D9EA" stroke="#A3A3A3" stroke-width="0.55"/>
<rect x="162.74" y="322.42" width="6.13" height="6.84" fill="#FEE090" stroke="#A3A3A3" stroke-width="0.55"/>
<rect x="168.87" y="322.42" width="6.13" height="6.84" fill="#F0F9DC" stroke="#A3A3A3" stroke-width="0.55"/>
<rect x="52.40" y="329.26" width="6.13" height="6.84" fill="#FEF0A8" stroke="#A3A3A3" stroke-width="0.55"/>
<rect x="58.53" y="329.26" width="6.13" height="6.84" fill="#E0F3F8" stroke="#A3A3A3" stroke-width="0.55"/>
<rect x="64.66" y="329.26" width="6.13" height="6.84" fill="#FEE090" stroke="#A3A3A3" stroke-width="0.55"/>
<rect x="70.79" y="329.26" width="6.13" height="6.84" fill="#F0F9DC" stroke="#A3A3A3" stroke-width="0.55"/>
<rect x="76.92" y="329.26" width="6.13" height="6.84" fill="#F0F9DC" stroke="#A3A3A3" stroke-width="0.55"/>
<rect x="83.05" y="329.26" width="6.13" height="6.84" fill="#FC8D59" stroke="#A3A3A3" stroke-width="0.55"/>
<rect x="89.18" y="329.26" width="6.13" height="6.84" fill="#FDB674" stroke="#A3A3A3" stroke-width="0.55"/>
<rect x="95.31" y="329.26" width="6.13" height="6.84" fill="#FDB674" stroke="#A3A3A3" stroke-width="0.55"/>
<rect x="101.44" y="329.26" width="6.13" height="6.84" fill="#FDB674" stroke="#A3A3A3" stroke-width="0.55"/>
<rect x="107.57" y="329.26" width="6.13" height="6.84" fill="#FDB674" stroke="#A3A3A3" stroke-width="0.55"/>
<rect x="113.70" y="329.26" width="6.13" height="6.84" fill="#F0F9DC" stroke="#A3A3A3" stroke-width="0.55"/>
<rect x="119.83" y="329.26" width="6.13" height="6.84" fill="#B8D9EA" stroke="#A3A3A3" stroke-width="0.55"/>
<rect x="125.96" y="329.26" width="6.13" height="6.84" fill="#FEF0A8" stroke="#A3A3A3" stroke-width="0.55"/>
<rect x="132.09" y="329.26" width="6.13" height="6.84" fill="#FFFFBF" stroke="#A3A3A3" stroke-width="0.55"/>
<rect x="138.22" y="329.26" width="6.13" height="6.84" fill="#F0F9DC" stroke="#A3A3A3" stroke-width="0.55"/>
<rect x="144.35" y="329.26" width="6.13" height="6.84" fill="#F0F9DC" stroke="#A3A3A3" stroke-width="0.55"/>
<rect x="150.48" y="329.26" width="6.13" height="6.84" fill="#E0F3F8" stroke="#A3A3A3" stroke-width="0.55"/>
<rect x="156.61" y="329.26" width="6.13" height="6.84" fill="#E0F3F8" stroke="#A3A3A3" stroke-width="0.55"/>
<rect x="162.74" y="329.26" width="6.13" height="6.84" fill="#FEE090" stroke="#A3A3A3" stroke-width="0.55"/>
<rect x="168.87" y="329.26" width="6.13" height="6.84" fill="#B8D9EA" stroke="#A3A3A3" stroke-width="0.55"/>
<rect x="52.40" y="336.10" width="6.13" height="6.84" fill="#E0F3F8" stroke="#A3A3A3" stroke-width="0.55"/>
<rect x="58.53" y="336.10" width="6.13" height="6.84" fill="#F0F9DC" stroke="#A3A3A3" stroke-width="0.55"/>
<rect x="64.66" y="336.10" width="6.13" height="6.84" fill="#B8D9EA" stroke="#A3A3A3" stroke-width="0.55"/>
<rect x="70.79" y="336.10" width="6.13" height="6.84" fill="#FEE090" stroke="#A3A3A3" stroke-width="0.55"/>
<rect x="76.92" y="336.10" width="6.13" height="6.84" fill="#F0F9DC" stroke="#A3A3A3" stroke-width="0.55"/>
<rect x="83.05" y="336.10" width="6.13" height="6.84" fill="#FFFFBF" stroke="#A3A3A3" stroke-width="0.55"/>
<rect x="89.18" y="336.10" width="6.13" height="6.84" fill="#91BFDB" stroke="#A3A3A3" stroke-width="0.55"/>
<rect x="95.31" y="336.10" width="6.13" height="6.84" fill="#FEE090" stroke="#A3A3A3" stroke-width="0.55"/>
<rect x="101.44" y="336.10" width="6.13" height="6.84" fill="#E0F3F8" stroke="#A3A3A3" stroke-width="0.55"/>
<rect x="107.57" y="336.10" width="6.13" height="6.84" fill="#6B9AC8" stroke="#A3A3A3" stroke-width="0.55"/>
<rect x="113.70" y="336.10" width="6.13" height="6.84" fill="#FEF0A8" stroke="#A3A3A3" stroke-width="0.55"/>
<rect x="119.83" y="336.10" width="6.13" height="6.84" fill="#FDB674" stroke="#A3A3A3" stroke-width="0.55"/>
<rect x="125.96" y="336.10" width="6.13" height="6.84" fill="#FEE090" stroke="#A3A3A3" stroke-width="0.55"/>
<rect x="132.09" y="336.10" width="6.13" height="6.84" fill="#FDB674" stroke="#A3A3A3" stroke-width="0.55"/>
<rect x="138.22" y="336.10" width="6.13" height="6.84" fill="#F0F9DC" stroke="#A3A3A3" stroke-width="0.55"/>
<rect x="144.35" y="336.10" width="6.13" height="6.84" fill="#FEE090" stroke="#A3A3A3" stroke-width="0.55"/>
<rect x="150.48" y="336.10" width="6.13" height="6.84" fill="#FC8D59" stroke="#A3A3A3" stroke-width="0.55"/>
<rect x="156.61" y="336.10" width="6.13" height="6.84" fill="#FFFFBF" stroke="#A3A3A3" stroke-width="0.55"/>
<rect x="162.74" y="336.10" width="6.13" height="6.84" fill="#FEE090" stroke="#A3A3A3" stroke-width="0.55"/>
<rect x="168.87" y="336.10" width="6.13" height="6.84" fill="#F0F9DC" stroke="#A3A3A3" stroke-width="0.55"/>
<rect x="52.40" y="342.94" width="6.13" height="6.84" fill="#6B9AC8" stroke="#A3A3A3" stroke-width="0.55"/>
<rect x="58.53" y="342.94" width="6.13" height="6.84" fill="#FFFFBF" stroke="#A3A3A3" stroke-width="0.55"/>
<rect x="64.66" y="342.94" width="6.13" height="6.84" fill="#F0F9DC" stroke="#A3A3A3" stroke-width="0.55"/>
<rect x="70.79" y="342.94" width="6.13" height="6.84" fill="#F0F9DC" stroke="#A3A3A3" stroke-width="0.55"/>
<rect x="76.92" y="342.94" width="6.13" height="6.84" fill="#E0F3F8" stroke="#A3A3A3" stroke-width="0.55"/>
<rect x="83.05" y="342.94" width="6.13" height="6.84" fill="#F0F9DC" stroke="#A3A3A3" stroke-width="0.55"/>
<rect x="89.18" y="342.94" width="6.13" height="6.84" fill="#FFFFBF" stroke="#A3A3A3" stroke-width="0.55"/>
<rect x="95.31" y="342.94" width="6.13" height="6.84" fill="#FEF0A8" stroke="#A3A3A3" stroke-width="0.55"/>
<rect x="101.44" y="342.94" width="6.13" height="6.84" fill="#F0F9DC" stroke="#A3A3A3" stroke-width="0.55"/>
<rect x="107.57" y="342.94" width="6.13" height="6.84" fill="#B8D9EA" stroke="#A3A3A3" stroke-width="0.55"/>
<rect x="113.70" y="342.94" width="6.13" height="6.84" fill="#FC8D59" stroke="#A3A3A3" stroke-width="0.55"/>
<rect x="119.83" y="342.94" width="6.13" height="6.84" fill="#FDB674" stroke="#A3A3A3" stroke-width="0.55"/>
<rect x="125.96" y="342.94" width="6.13" height="6.84" fill="#FEF0A8" stroke="#A3A3A3" stroke-width="0.55"/>
<rect x="132.09" y="342.94" width="6.13" height="6.84" fill="#FDB674" stroke="#A3A3A3" stroke-width="0.55"/>
<rect x="138.22" y="342.94" width="6.13" height="6.84" fill="#FFFFBF" stroke="#A3A3A3" stroke-width="0.55"/>
<rect x="144.35" y="342.94" width="6.13" height="6.84" fill="#FEF0A8" stroke="#A3A3A3" stroke-width="0.55"/>
<rect x="150.48" y="342.94" width="6.13" height="6.84" fill="#FEE090" stroke="#A3A3A3" stroke-width="0.55"/>
<rect x="156.61" y="342.94" width="6.13" height="6.84" fill="#FEE090" stroke="#A3A3A3" stroke-width="0.55"/>
<rect x="162.74" y="342.94" width="6.13" height="6.84" fill="#FEE090" stroke="#A3A3A3" stroke-width="0.55"/>
<rect x="168.87" y="342.94" width="6.13" height="6.84" fill="#E0F3F8" stroke="#A3A3A3" stroke-width="0.55"/>
<rect x="52.40" y="349.78" width="6.13" height="6.84" fill="#B8D9EA" stroke="#A3A3A3" stroke-width="0.55"/>
<rect x="58.53" y="349.78" width="6.13" height="6.84" fill="#E0F3F8" stroke="#A3A3A3" stroke-width="0.55"/>
<rect x="64.66" y="349.78" width="6.13" height="6.84" fill="#B8D9EA" stroke="#A3A3A3" stroke-width="0.55"/>
<rect x="70.79" y="349.78" width="6.13" height="6.84" fill="#B8D9EA" stroke="#A3A3A3" stroke-width="0.55"/>
<rect x="76.92" y="349.78" width="6.13" height="6.84" fill="#E0F3F8" stroke="#A3A3A3" stroke-width="0.55"/>
<rect x="83.05" y="349.78" width="6.13" height="6.84" fill="#FEE090" stroke="#A3A3A3" stroke-width="0.55"/>
<rect x="89.18" y="349.78" width="6.13" height="6.84" fill="#FFFFBF" stroke="#A3A3A3" stroke-width="0.55"/>
<rect x="95.31" y="349.78" width="6.13" height="6.84" fill="#E0F3F8" stroke="#A3A3A3" stroke-width="0.55"/>
<rect x="101.44" y="349.78" width="6.13" height="6.84" fill="#FEF0A8" stroke="#A3A3A3" stroke-width="0.55"/>
<rect x="107.57" y="349.78" width="6.13" height="6.84" fill="#F0F9DC" stroke="#A3A3A3" stroke-width="0.55"/>
<rect x="113.70" y="349.78" width="6.13" height="6.84" fill="#F0F9DC" stroke="#A3A3A3" stroke-width="0.55"/>
<rect x="119.83" y="349.78" width="6.13" height="6.84" fill="#FEE090" stroke="#A3A3A3" stroke-width="0.55"/>
<rect x="125.96" y="349.78" width="6.13" height="6.84" fill="#FEF0A8" stroke="#A3A3A3" stroke-width="0.55"/>
<rect x="132.09" y="349.78" width="6.13" height="6.84" fill="#FDB674" stroke="#A3A3A3" stroke-width="0.55"/>
<rect x="138.22" y="349.78" width="6.13" height="6.84" fill="#F0F9DC" stroke="#A3A3A3" stroke-width="0.55"/>
<rect x="144.35" y="349.78" width="6.13" height="6.84" fill="#FC8D59" stroke="#A3A3A3" stroke-width="0.55"/>
<rect x="150.48" y="349.78" width="6.13" height="6.84" fill="#FFFFBF" stroke="#A3A3A3" stroke-width="0.55"/>
<rect x="156.61" y="349.78" width="6.13" height="6.84" fill="#FEE090" stroke="#A3A3A3" stroke-width="0.55"/>
<rect x="162.74" y="349.78" width="6.13" height="6.84" fill="#FDB674" stroke="#A3A3A3" stroke-width="0.55"/>
<rect x="168.87" y="349.78" width="6.13" height="6.84" fill="#FFFFBF" stroke="#A3A3A3" stroke-width="0.55"/>
<rect x="52.40" y="356.62" width="6.13" height="6.84" fill="#F0F9DC" stroke="#A3A3A3" stroke-width="0.55"/>
<rect x="58.53" y="356.62" width="6.13" height="6.84" fill="#91BFDB" stroke="#A3A3A3" stroke-width="0.55"/>
<rect x="64.66" y="356.62" width="6.13" height="6.84" fill="#FFFFBF" stroke="#A3A3A3" stroke-width="0.55"/>
<rect x="70.79" y="356.62" width="6.13" height="6.84" fill="#6B9AC8" stroke="#A3A3A3" stroke-width="0.55"/>
<rect x="76.92" y="356.62" width="6.13" height="6.84" fill="#E0F3F8" stroke="#A3A3A3" stroke-width="0.55"/>
<rect x="83.05" y="356.62" width="6.13" height="6.84" fill="#F0F9DC" stroke="#A3A3A3" stroke-width="0.55"/>
<rect x="89.18" y="356.62" width="6.13" height="6.84" fill="#FFFFBF" stroke="#A3A3A3" stroke-width="0.55"/>
<rect x="95.31" y="356.62" width="6.13" height="6.84" fill="#FEE090" stroke="#A3A3A3" stroke-width="0.55"/>
<rect x="101.44" y="356.62" width="6.13" height="6.84" fill="#FEF0A8" stroke="#A3A3A3" stroke-width="0.55"/>
<rect x="107.57" y="356.62" width="6.13" height="6.84" fill="#F0F9DC" stroke="#A3A3A3" stroke-width="0.55"/>
<rect x="113.70" y="356.62" width="6.13" height="6.84" fill="#FEE090" stroke="#A3A3A3" stroke-width="0.55"/>
<rect x="119.83" y="356.62" width="6.13" height="6.84" fill="#FFFFBF" stroke="#A3A3A3" stroke-width="0.55"/>
<rect x="125.96" y="356.62" width="6.13" height="6.84" fill="#FFFFBF" stroke="#A3A3A3" stroke-width="0.55"/>
<rect x="132.09" y="356.62" width="6.13" height="6.84" fill="#FEE090" stroke="#A3A3A3" stroke-width="0.55"/>
<rect x="138.22" y="356.62" width="6.13" height="6.84" fill="#E0F3F8" stroke="#A3A3A3" stroke-width="0.55"/>
<rect x="144.35" y="356.62" width="6.13" height="6.84" fill="#FFFFBF" stroke="#A3A3A3" stroke-width="0.55"/>
<rect x="150.48" y="356.62" width="6.13" height="6.84" fill="#FEF0A8" stroke="#A3A3A3" stroke-width="0.55"/>
<rect x="156.61" y="356.62" width="6.13" height="6.84" fill="#EA5E40" stroke="#A3A3A3" stroke-width="0.55"/>
<rect x="162.74" y="356.62" width="6.13" height="6.84" fill="#FDB674" stroke="#A3A3A3" stroke-width="0.55"/>
<rect x="168.87" y="356.62" width="6.13" height="6.84" fill="#FDB674" stroke="#A3A3A3" stroke-width="0.55"/>
<rect x="52.40" y="363.46" width="6.13" height="6.84" fill="#E0F3F8" stroke="#A3A3A3" stroke-width="0.55"/>
<rect x="58.53" y="363.46" width="6.13" height="6.84" fill="#E0F3F8" stroke="#A3A3A3" stroke-width="0.55"/>
<rect x="64.66" y="363.46" width="6.13" height="6.84" fill="#FEF0A8" stroke="#A3A3A3" stroke-width="0.55"/>
<rect x="70.79" y="363.46" width="6.13" height="6.84" fill="#FFFFBF" stroke="#A3A3A3" stroke-width="0.55"/>
<rect x="76.92" y="363.46" width="6.13" height="6.84" fill="#FFFFBF" stroke="#A3A3A3" stroke-width="0.55"/>
<rect x="83.05" y="363.46" width="6.13" height="6.84" fill="#E0F3F8" stroke="#A3A3A3" stroke-width="0.55"/>
<rect x="89.18" y="363.46" width="6.13" height="6.84" fill="#E0F3F8" stroke="#A3A3A3" stroke-width="0.55"/>
<rect x="95.31" y="363.46" width="6.13" height="6.84" fill="#F0F9DC" stroke="#A3A3A3" stroke-width="0.55"/>
<rect x="101.44" y="363.46" width="6.13" height="6.84" fill="#6B9AC8" stroke="#A3A3A3" stroke-width="0.55"/>
<rect x="107.57" y="363.46" width="6.13" height="6.84" fill="#FFFFBF" stroke="#A3A3A3" stroke-width="0.55"/>
<rect x="113.70" y="363.46" width="6.13" height="6.84" fill="#FEE090" stroke="#A3A3A3" stroke-width="0.55"/>
<rect x="119.83" y="363.46" width="6.13" height="6.84" fill="#F0F9DC" stroke="#A3A3A3" stroke-width="0.55"/>
<rect x="125.96" y="363.46" width="6.13" height="6.84" fill="#FC8D59" stroke="#A3A3A3" stroke-width="0.55"/>
<rect x="132.09" y="363.46" width="6.13" height="6.84" fill="#FEE090" stroke="#A3A3A3" stroke-width="0.55"/>
<rect x="138.22" y="363.46" width="6.13" height="6.84" fill="#FEF0A8" stroke="#A3A3A3" stroke-width="0.55"/>
<rect x="144.35" y="363.46" width="6.13" height="6.84" fill="#FFFFBF" stroke="#A3A3A3" stroke-width="0.55"/>
<rect x="150.48" y="363.46" width="6.13" height="6.84" fill="#F0F9DC" stroke="#A3A3A3" stroke-width="0.55"/>
<rect x="156.61" y="363.46" width="6.13" height="6.84" fill="#FDB674" stroke="#A3A3A3" stroke-width="0.55"/>
<rect x="162.74" y="363.46" width="6.13" height="6.84" fill="#FDB674" stroke="#A3A3A3" stroke-width="0.55"/>
<rect x="168.87" y="363.46" width="6.13" height="6.84" fill="#FDB674" stroke="#A3A3A3" stroke-width="0.55"/>
<rect x="52.40" y="370.30" width="6.13" height="6.84" fill="#E0F3F8" stroke="#A3A3A3" stroke-width="0.55"/>
<rect x="58.53" y="370.30" width="6.13" height="6.84" fill="#F0F9DC" stroke="#A3A3A3" stroke-width="0.55"/>
<rect x="64.66" y="370.30" width="6.13" height="6.84" fill="#E0F3F8" stroke="#A3A3A3" stroke-width="0.55"/>
<rect x="70.79" y="370.30" width="6.13" height="6.84" fill="#FEE090" stroke="#A3A3A3" stroke-width="0.55"/>
<rect x="76.92" y="370.30" width="6.13" height="6.84" fill="#F0F9DC" stroke="#A3A3A3" stroke-width="0.55"/>
<rect x="83.05" y="370.30" width="6.13" height="6.84" fill="#FEF0A8" stroke="#A3A3A3" stroke-width="0.55"/>
<rect x="89.18" y="370.30" width="6.13" height="6.84" fill="#E0F3F8" stroke="#A3A3A3" stroke-width="0.55"/>
<rect x="95.31" y="370.30" width="6.13" height="6.84" fill="#FFFFBF" stroke="#A3A3A3" stroke-width="0.55"/>
<rect x="101.44" y="370.30" width="6.13" height="6.84" fill="#B8D9EA" stroke="#A3A3A3" stroke-width="0.55"/>
<rect x="107.57" y="370.30" width="6.13" height="6.84" fill="#F0F9DC" stroke="#A3A3A3" stroke-width="0.55"/>
<rect x="113.70" y="370.30" width="6.13" height="6.84" fill="#FEF0A8" stroke="#A3A3A3" stroke-width="0.55"/>
<rect x="119.83" y="370.30" width="6.13" height="6.84" fill="#F0F9DC" stroke="#A3A3A3" stroke-width="0.55"/>
<rect x="125.96" y="370.30" width="6.13" height="6.84" fill="#FEE090" stroke="#A3A3A3" stroke-width="0.55"/>
<rect x="132.09" y="370.30" width="6.13" height="6.84" fill="#FDB674" stroke="#A3A3A3" stroke-width="0.55"/>
<rect x="138.22" y="370.30" width="6.13" height="6.84" fill="#FFFFBF" stroke="#A3A3A3" stroke-width="0.55"/>
<rect x="144.35" y="370.30" width="6.13" height="6.84" fill="#E0F3F8" stroke="#A3A3A3" stroke-width="0.55"/>
<rect x="150.48" y="370.30" width="6.13" height="6.84" fill="#FEF0A8" stroke="#A3A3A3" stroke-width="0.55"/>
<rect x="156.61" y="370.30" width="6.13" height="6.84" fill="#FC8D59" stroke="#A3A3A3" stroke-width="0.55"/>
<rect x="162.74" y="370.30" width="6.13" height="6.84" fill="#FFFFBF" stroke="#A3A3A3" stroke-width="0.55"/>
<rect x="168.87" y="370.30" width="6.13" height="6.84" fill="#EA5E40" stroke="#A3A3A3" stroke-width="0.55"/>
<rect x="52.40" y="377.14" width="6.13" height="6.84" fill="#FEF0A8" stroke="#A3A3A3" stroke-width="0.55"/>
<rect x="58.53" y="377.14" width="6.13" height="6.84" fill="#FFFFBF" stroke="#A3A3A3" stroke-width="0.55"/>
<rect x="64.66" y="377.14" width="6.13" height="6.84" fill="#FEE090" stroke="#A3A3A3" stroke-width="0.55"/>
<rect x="70.79" y="377.14" width="6.13" height="6.84" fill="#FEF0A8" stroke="#A3A3A3" stroke-width="0.55"/>
<rect x="76.92" y="377.14" width="6.13" height="6.84" fill="#E0F3F8" stroke="#A3A3A3" stroke-width="0.55"/>
<rect x="83.05" y="377.14" width="6.13" height="6.84" fill="#6B9AC8" stroke="#A3A3A3" stroke-width="0.55"/>
<rect x="89.18" y="377.14" width="6.13" height="6.84" fill="#FFFFBF" stroke="#A3A3A3" stroke-width="0.55"/>
<rect x="95.31" y="377.14" width="6.13" height="6.84" fill="#F0F9DC" stroke="#A3A3A3" stroke-width="0.55"/>
<rect x="101.44" y="377.14" width="6.13" height="6.84" fill="#91BFDB" stroke="#A3A3A3" stroke-width="0.55"/>
<rect x="107.57" y="377.14" width="6.13" height="6.84" fill="#F0F9DC" stroke="#A3A3A3" stroke-width="0.55"/>
<rect x="113.70" y="377.14" width="6.13" height="6.84" fill="#FEE090" stroke="#A3A3A3" stroke-width="0.55"/>
<rect x="119.83" y="377.14" width="6.13" height="6.84" fill="#FEE090" stroke="#A3A3A3" stroke-width="0.55"/>
<rect x="125.96" y="377.14" width="6.13" height="6.84" fill="#FEE090" stroke="#A3A3A3" stroke-width="0.55"/>
<rect x="132.09" y="377.14" width="6.13" height="6.84" fill="#FEE090" stroke="#A3A3A3" stroke-width="0.55"/>
<rect x="138.22" y="377.14" width="6.13" height="6.84" fill="#FFFFBF" stroke="#A3A3A3" stroke-width="0.55"/>
<rect x="144.35" y="377.14" width="6.13" height="6.84" fill="#FEF0A8" stroke="#A3A3A3" stroke-width="0.55"/>
<rect x="150.48" y="377.14" width="6.13" height="6.84" fill="#FDB674" stroke="#A3A3A3" stroke-width="0.55"/>
<rect x="156.61" y="377.14" width="6.13" height="6.84" fill="#FDB674" stroke="#A3A3A3" stroke-width="0.55"/>
<rect x="162.74" y="377.14" width="6.13" height="6.84" fill="#F0F9DC" stroke="#A3A3A3" stroke-width="0.55"/>
<rect x="168.87" y="377.14" width="6.13" height="6.84" fill="#FFFFBF" stroke="#A3A3A3" stroke-width="0.55"/>
<rect x="52.40" y="383.98" width="6.13" height="6.84" fill="#FEE090" stroke="#A3A3A3" stroke-width="0.55"/>
<rect x="58.53" y="383.98" width="6.13" height="6.84" fill="#FFFFBF" stroke="#A3A3A3" stroke-width="0.55"/>
<rect x="64.66" y="383.98" width="6.13" height="6.84" fill="#F0F9DC" stroke="#A3A3A3" stroke-width="0.55"/>
<rect x="70.79" y="383.98" width="6.13" height="6.84" fill="#FEE090" stroke="#A3A3A3" stroke-width="0.55"/>
<rect x="76.92" y="383.98" width="6.13" height="6.84" fill="#FEF0A8" stroke="#A3A3A3" stroke-width="0.55"/>
<rect x="83.05" y="383.98" width="6.13" height="6.84" fill="#B8D9EA" stroke="#A3A3A3" stroke-width="0.55"/>
<rect x="89.18" y="383.98" width="6.13" height="6.84" fill="#E0F3F8" stroke="#A3A3A3" stroke-width="0.55"/>
<rect x="95.31" y="383.98" width="6.13" height="6.84" fill="#E0F3F8" stroke="#A3A3A3" stroke-width="0.55"/>
<rect x="101.44" y="383.98" width="6.13" height="6.84" fill="#6B9AC8" stroke="#A3A3A3" stroke-width="0.55"/>
<rect x="107.57" y="383.98" width="6.13" height="6.84" fill="#F0F9DC" stroke="#A3A3A3" stroke-width="0.55"/>
<rect x="113.70" y="383.98" width="6.13" height="6.84" fill="#FFFFBF" stroke="#A3A3A3" stroke-width="0.55"/>
<rect x="119.83" y="383.98" width="6.13" height="6.84" fill="#FEF0A8" stroke="#A3A3A3" stroke-width="0.55"/>
<rect x="125.96" y="383.98" width="6.13" height="6.84" fill="#FEE090" stroke="#A3A3A3" stroke-width="0.55"/>
<rect x="132.09" y="383.98" width="6.13" height="6.84" fill="#F0F9DC" stroke="#A3A3A3" stroke-width="0.55"/>
<rect x="138.22" y="383.98" width="6.13" height="6.84" fill="#F0F9DC" stroke="#A3A3A3" stroke-width="0.55"/>
<rect x="144.35" y="383.98" width="6.13" height="6.84" fill="#FEF0A8" stroke="#A3A3A3" stroke-width="0.55"/>
<rect x="150.48" y="383.98" width="6.13" height="6.84" fill="#FEF0A8" stroke="#A3A3A3" stroke-width="0.55"/>
<rect x="156.61" y="383.98" width="6.13" height="6.84" fill="#EA5E40" stroke="#A3A3A3" stroke-width="0.55"/>
<rect x="162.74" y="383.98" width="6.13" height="6.84" fill="#FC8D59" stroke="#A3A3A3" stroke-width="0.55"/>
<rect x="168.87" y="383.98" width="6.13" height="6.84" fill="#FEE090" stroke="#A3A3A3" stroke-width="0.55"/>
<rect x="52.40" y="390.82" width="6.13" height="6.84" fill="#FEE090" stroke="#A3A3A3" stroke-width="0.55"/>
<rect x="58.53" y="390.82" width="6.13" height="6.84" fill="#F0F9DC" stroke="#A3A3A3" stroke-width="0.55"/>
<rect x="64.66" y="390.82" width="6.13" height="6.84" fill="#FDB674" stroke="#A3A3A3" stroke-width="0.55"/>
<rect x="70.79" y="390.82" width="6.13" height="6.84" fill="#FEE090" stroke="#A3A3A3" stroke-width="0.55"/>
<rect x="76.92" y="390.82" width="6.13" height="6.84" fill="#FEF0A8" stroke="#A3A3A3" stroke-width="0.55"/>
<rect x="83.05" y="390.82" width="6.13" height="6.84" fill="#E0F3F8" stroke="#A3A3A3" stroke-width="0.55"/>
<rect x="89.18" y="390.82" width="6.13" height="6.84" fill="#E0F3F8" stroke="#A3A3A3" stroke-width="0.55"/>
<rect x="95.31" y="390.82" width="6.13" height="6.84" fill="#E0F3F8" stroke="#A3A3A3" stroke-width="0.55"/>
<rect x="101.44" y="390.82" width="6.13" height="6.84" fill="#B8D9EA" stroke="#A3A3A3" stroke-width="0.55"/>
<rect x="107.57" y="390.82" width="6.13" height="6.84" fill="#B8D9EA" stroke="#A3A3A3" stroke-width="0.55"/>
<rect x="113.70" y="390.82" width="6.13" height="6.84" fill="#F0F9DC" stroke="#A3A3A3" stroke-width="0.55"/>
<rect x="119.83" y="390.82" width="6.13" height="6.84" fill="#FEF0A8" stroke="#A3A3A3" stroke-width="0.55"/>
<rect x="125.96" y="390.82" width="6.13" height="6.84" fill="#EA5E40" stroke="#A3A3A3" stroke-width="0.55"/>
<rect x="132.09" y="390.82" width="6.13" height="6.84" fill="#FEF0A8" stroke="#A3A3A3" stroke-width="0.55"/>
<rect x="138.22" y="390.82" width="6.13" height="6.84" fill="#E0F3F8" stroke="#A3A3A3" stroke-width="0.55"/>
<rect x="144.35" y="390.82" width="6.13" height="6.84" fill="#FFFFBF" stroke="#A3A3A3" stroke-width="0.55"/>
<rect x="150.48" y="390.82" width="6.13" height="6.84" fill="#FFFFBF" stroke="#A3A3A3" stroke-width="0.55"/>
<rect x="156.61" y="390.82" width="6.13" height="6.84" fill="#FEF0A8" stroke="#A3A3A3" stroke-width="0.55"/>
<rect x="162.74" y="390.82" width="6.13" height="6.84" fill="#FDB674" stroke="#A3A3A3" stroke-width="0.55"/>
<rect x="168.87" y="390.82" width="6.13" height="6.84" fill="#FEE090" stroke="#A3A3A3" stroke-width="0.55"/>
<rect x="52.40" y="397.66" width="6.13" height="6.84" fill="#F0F9DC" stroke="#A3A3A3" stroke-width="0.55"/>
<rect x="58.53" y="397.66" width="6.13" height="6.84" fill="#FEF0A8" stroke="#A3A3A3" stroke-width="0.55"/>
<rect x="64.66" y="397.66" width="6.13" height="6.84" fill="#FFFFBF" stroke="#A3A3A3" stroke-width="0.55"/>
<rect x="70.79" y="397.66" width="6.13" height="6.84" fill="#91BFDB" stroke="#A3A3A3" stroke-width="0.55"/>
<rect x="76.92" y="397.66" width="6.13" height="6.84" fill="#FEF0A8" stroke="#A3A3A3" stroke-width="0.55"/>
<rect x="83.05" y="397.66" width="6.13" height="6.84" fill="#FEF0A8" stroke="#A3A3A3" stroke-width="0.55"/>
<rect x="89.18" y="397.66" width="6.13" height="6.84" fill="#FFFFBF" stroke="#A3A3A3" stroke-width="0.55"/>
<rect x="95.31" y="397.66" width="6.13" height="6.84" fill="#E0F3F8" stroke="#A3A3A3" stroke-width="0.55"/>
<rect x="101.44" y="397.66" width="6.13" height="6.84" fill="#B8D9EA" stroke="#A3A3A3" stroke-width="0.55"/>
<rect x="107.57" y="397.66" width="6.13" height="6.84" fill="#E0F3F8" stroke="#A3A3A3" stroke-width="0.55"/>
<rect x="113.70" y="397.66" width="6.13" height="6.84" fill="#FDB674" stroke="#A3A3A3" stroke-width="0.55"/>
<rect x="119.83" y="397.66" width="6.13" height="6.84" fill="#FDB674" stroke="#A3A3A3" stroke-width="0.55"/>
<rect x="125.96" y="397.66" width="6.13" height="6.84" fill="#FFFFBF" stroke="#A3A3A3" stroke-width="0.55"/>
<rect x="132.09" y="397.66" width="6.13" height="6.84" fill="#B8D9EA" stroke="#A3A3A3" stroke-width="0.55"/>
<rect x="138.22" y="397.66" width="6.13" height="6.84" fill="#FEF0A8" stroke="#A3A3A3" stroke-width="0.55"/>
<rect x="144.35" y="397.66" width="6.13" height="6.84" fill="#FC8D59" stroke="#A3A3A3" stroke-width="0.55"/>
<rect x="150.48" y="397.66" width="6.13" height="6.84" fill="#FEF0A8" stroke="#A3A3A3" stroke-width="0.55"/>
<rect x="156.61" y="397.66" width="6.13" height="6.84" fill="#FDB674" stroke="#A3A3A3" stroke-width="0.55"/>
<rect x="162.74" y="397.66" width="6.13" height="6.84" fill="#FEF0A8" stroke="#A3A3A3" stroke-width="0.55"/>
<rect x="168.87" y="397.66" width="6.13" height="6.84" fill="#FEE090" stroke="#A3A3A3" stroke-width="0.55"/>
<rect x="52.40" y="404.50" width="6.13" height="6.84" fill="#FFFFBF" stroke="#A3A3A3" stroke-width="0.55"/>
<rect x="58.53" y="404.50" width="6.13" height="6.84" fill="#FEE090" stroke="#A3A3A3" stroke-width="0.55"/>
<rect x="64.66" y="404.50" width="6.13" height="6.84" fill="#FEE090" stroke="#A3A3A3" stroke-width="0.55"/>
<rect x="70.79" y="404.50" width="6.13" height="6.84" fill="#F0F9DC" stroke="#A3A3A3" stroke-width="0.55"/>
<rect x="76.92" y="404.50" width="6.13" height="6.84" fill="#F0F9DC" stroke="#A3A3A3" stroke-width="0.55"/>
<rect x="83.05" y="404.50" width="6.13" height="6.84" fill="#B8D9EA" stroke="#A3A3A3" stroke-width="0.55"/>
<rect x="89.18" y="404.50" width="6.13" height="6.84" fill="#E0F3F8" stroke="#A3A3A3" stroke-width="0.55"/>
<rect x="95.31" y="404.50" width="6.13" height="6.84" fill="#B8D9EA" stroke="#A3A3A3" stroke-width="0.55"/>
<rect x="101.44" y="404.50" width="6.13" height="6.84" fill="#B8D9EA" stroke="#A3A3A3" stroke-width="0.55"/>
<rect x="107.57" y="404.50" width="6.13" height="6.84" fill="#FEE090" stroke="#A3A3A3" stroke-width="0.55"/>
<rect x="113.70" y="404.50" width="6.13" height="6.84" fill="#FEE090" stroke="#A3A3A3" stroke-width="0.55"/>
<rect x="119.83" y="404.50" width="6.13" height="6.84" fill="#FFFFBF" stroke="#A3A3A3" stroke-width="0.55"/>
<rect x="125.96" y="404.50" width="6.13" height="6.84" fill="#F0F9DC" stroke="#A3A3A3" stroke-width="0.55"/>
<rect x="132.09" y="404.50" width="6.13" height="6.84" fill="#E0F3F8" stroke="#A3A3A3" stroke-width="0.55"/>
<rect x="138.22" y="404.50" width="6.13" height="6.84" fill="#FDB674" stroke="#A3A3A3" stroke-width="0.55"/>
<rect x="144.35" y="404.50" width="6.13" height="6.84" fill="#FDB674" stroke="#A3A3A3" stroke-width="0.55"/>
<rect x="150.48" y="404.50" width="6.13" height="6.84" fill="#FEF0A8" stroke="#A3A3A3" stroke-width="0.55"/>
<rect x="156.61" y="404.50" width="6.13" height="6.84" fill="#FEE090" stroke="#A3A3A3" stroke-width="0.55"/>
<rect x="162.74" y="404.50" width="6.13" height="6.84" fill="#FEE090" stroke="#A3A3A3" stroke-width="0.55"/>
<rect x="168.87" y="404.50" width="6.13" height="6.84" fill="#FDB674" stroke="#A3A3A3" stroke-width="0.55"/>
<rect x="52.40" y="411.34" width="6.13" height="6.84" fill="#FEF0A8" stroke="#A3A3A3" stroke-width="0.55"/>
<rect x="58.53" y="411.34" width="6.13" height="6.84" fill="#F0F9DC" stroke="#A3A3A3" stroke-width="0.55"/>
<rect x="64.66" y="411.34" width="6.13" height="6.84" fill="#FFFFBF" stroke="#A3A3A3" stroke-width="0.55"/>
<rect x="70.79" y="411.34" width="6.13" height="6.84" fill="#E0F3F8" stroke="#A3A3A3" stroke-width="0.55"/>
<rect x="76.92" y="411.34" width="6.13" height="6.84" fill="#E0F3F8" stroke="#A3A3A3" stroke-width="0.55"/>
<rect x="83.05" y="411.34" width="6.13" height="6.84" fill="#B8D9EA" stroke="#A3A3A3" stroke-width="0.55"/>
<rect x="89.18" y="411.34" width="6.13" height="6.84" fill="#E0F3F8" stroke="#A3A3A3" stroke-width="0.55"/>
<rect x="95.31" y="411.34" width="6.13" height="6.84" fill="#E0F3F8" stroke="#A3A3A3" stroke-width="0.55"/>
<rect x="101.44" y="411.34" width="6.13" height="6.84" fill="#F0F9DC" stroke="#A3A3A3" stroke-width="0.55"/>
<rect x="107.57" y="411.34" width="6.13" height="6.84" fill="#F0F9DC" stroke="#A3A3A3" stroke-width="0.55"/>
<rect x="113.70" y="411.34" width="6.13" height="6.84" fill="#D73027" stroke="#A3A3A3" stroke-width="0.55"/>
<rect x="119.83" y="411.34" width="6.13" height="6.84" fill="#FDB674" stroke="#A3A3A3" stroke-width="0.55"/>
<rect x="125.96" y="411.34" width="6.13" height="6.84" fill="#FFFFBF" stroke="#A3A3A3" stroke-width="0.55"/>
<rect x="132.09" y="411.34" width="6.13" height="6.84" fill="#FDB674" stroke="#A3A3A3" stroke-width="0.55"/>
<rect x="138.22" y="411.34" width="6.13" height="6.84" fill="#FEF0A8" stroke="#A3A3A3" stroke-width="0.55"/>
<rect x="144.35" y="411.34" width="6.13" height="6.84" fill="#FEE090" stroke="#A3A3A3" stroke-width="0.55"/>
<rect x="150.48" y="411.34" width="6.13" height="6.84" fill="#FEE090" stroke="#A3A3A3" stroke-width="0.55"/>
<rect x="156.61" y="411.34" width="6.13" height="6.84" fill="#FFFFBF" stroke="#A3A3A3" stroke-width="0.55"/>
<rect x="162.74" y="411.34" width="6.13" height="6.84" fill="#E0F3F8" stroke="#A3A3A3" stroke-width="0.55"/>
<rect x="168.87" y="411.34" width="6.13" height="6.84" fill="#F0F9DC" stroke="#A3A3A3" stroke-width="0.55"/>
<rect x="52.40" y="418.18" width="6.13" height="6.84" fill="#F0F9DC" stroke="#A3A3A3" stroke-width="0.55"/>
<rect x="58.53" y="418.18" width="6.13" height="6.84" fill="#FEF0A8" stroke="#A3A3A3" stroke-width="0.55"/>
<rect x="64.66" y="418.18" width="6.13" height="6.84" fill="#FFFFBF" stroke="#A3A3A3" stroke-width="0.55"/>
<rect x="70.79" y="418.18" width="6.13" height="6.84" fill="#FFFFBF" stroke="#A3A3A3" stroke-width="0.55"/>
<rect x="76.92" y="418.18" width="6.13" height="6.84" fill="#B8D9EA" stroke="#A3A3A3" stroke-width="0.55"/>
<rect x="83.05" y="418.18" width="6.13" height="6.84" fill="#E0F3F8" stroke="#A3A3A3" stroke-width="0.55"/>
<rect x="89.18" y="418.18" width="6.13" height="6.84" fill="#B8D9EA" stroke="#A3A3A3" stroke-width="0.55"/>
<rect x="95.31" y="418.18" width="6.13" height="6.84" fill="#91BFDB" stroke="#A3A3A3" stroke-width="0.55"/>
<rect x="101.44" y="418.18" width="6.13" height="6.84" fill="#FFFFBF" stroke="#A3A3A3" stroke-width="0.55"/>
<rect x="107.57" y="418.18" width="6.13" height="6.84" fill="#F0F9DC" stroke="#A3A3A3" stroke-width="0.55"/>
<rect x="113.70" y="418.18" width="6.13" height="6.84" fill="#EA5E40" stroke="#A3A3A3" stroke-width="0.55"/>
<rect x="119.83" y="418.18" width="6.13" height="6.84" fill="#FC8D59" stroke="#A3A3A3" stroke-width="0.55"/>
<rect x="125.96" y="418.18" width="6.13" height="6.84" fill="#FFFFBF" stroke="#A3A3A3" stroke-width="0.55"/>
<rect x="132.09" y="418.18" width="6.13" height="6.84" fill="#FFFFBF" stroke="#A3A3A3" stroke-width="0.55"/>
<rect x="138.22" y="418.18" width="6.13" height="6.84" fill="#F0F9DC" stroke="#A3A3A3" stroke-width="0.55"/>
<rect x="144.35" y="418.18" width="6.13" height="6.84" fill="#FEE090" stroke="#A3A3A3" stroke-width="0.55"/>
<rect x="150.48" y="418.18" width="6.13" height="6.84" fill="#FEE090" stroke="#A3A3A3" stroke-width="0.55"/>
<rect x="156.61" y="418.18" width="6.13" height="6.84" fill="#FFFFBF" stroke="#A3A3A3" stroke-width="0.55"/>
<rect x="162.74" y="418.18" width="6.13" height="6.84" fill="#FEE090" stroke="#A3A3A3" stroke-width="0.55"/>
<rect x="168.87" y="418.18" width="6.13" height="6.84" fill="#FDB674" stroke="#A3A3A3" stroke-width="0.55"/>
<rect x="52.40" y="425.02" width="6.13" height="6.84" fill="#F0F9DC" stroke="#A3A3A3" stroke-width="0.55"/>
<rect x="58.53" y="425.02" width="6.13" height="6.84" fill="#FFFFBF" stroke="#A3A3A3" stroke-width="0.55"/>
<rect x="64.66" y="425.02" width="6.13" height="6.84" fill="#FEF0A8" stroke="#A3A3A3" stroke-width="0.55"/>
<rect x="70.79" y="425.02" width="6.13" height="6.84" fill="#6B9AC8" stroke="#A3A3A3" stroke-width="0.55"/>
<rect x="76.92" y="425.02" width="6.13" height="6.84" fill="#FEE090" stroke="#A3A3A3" stroke-width="0.55"/>
<rect x="83.05" y="425.02" width="6.13" height="6.84" fill="#F0F9DC" stroke="#A3A3A3" stroke-width="0.55"/>
<rect x="89.18" y="425.02" width="6.13" height="6.84" fill="#B8D9EA" stroke="#A3A3A3" stroke-width="0.55"/>
<rect x="95.31" y="425.02" width="6.13" height="6.84" fill="#E0F3F8" stroke="#A3A3A3" stroke-width="0.55"/>
<rect x="101.44" y="425.02" width="6.13" height="6.84" fill="#E0F3F8" stroke="#A3A3A3" stroke-width="0.55"/>
<rect x="107.57" y="425.02" width="6.13" height="6.84" fill="#FFFFBF" stroke="#A3A3A3" stroke-width="0.55"/>
<rect x="113.70" y="425.02" width="6.13" height="6.84" fill="#FDB674" stroke="#A3A3A3" stroke-width="0.55"/>
<rect x="119.83" y="425.02" width="6.13" height="6.84" fill="#FFFFBF" stroke="#A3A3A3" stroke-width="0.55"/>
<rect x="125.96" y="425.02" width="6.13" height="6.84" fill="#FEE090" stroke="#A3A3A3" stroke-width="0.55"/>
<rect x="132.09" y="425.02" width="6.13" height="6.84" fill="#FEF0A8" stroke="#A3A3A3" stroke-width="0.55"/>
<rect x="138.22" y="425.02" width="6.13" height="6.84" fill="#F0F9DC" stroke="#A3A3A3" stroke-width="0.55"/>
<rect x="144.35" y="425.02" width="6.13" height="6.84" fill="#FEE090" stroke="#A3A3A3" stroke-width="0.55"/>
<rect x="150.48" y="425.02" width="6.13" height="6.84" fill="#FDB674" stroke="#A3A3A3" stroke-width="0.55"/>
<rect x="156.61" y="425.02" width="6.13" height="6.84" fill="#FDB674" stroke="#A3A3A3" stroke-width="0.55"/>
<rect x="162.74" y="425.02" width="6.13" height="6.84" fill="#FFFFBF" stroke="#A3A3A3" stroke-width="0.55"/>
<rect x="168.87" y="425.02" width="6.13" height="6.84" fill="#FDB674" stroke="#A3A3A3" stroke-width="0.55"/>
<rect x="52.40" y="431.86" width="6.13" height="6.84" fill="#E0F3F8" stroke="#A3A3A3" stroke-width="0.55"/>
<rect x="58.53" y="431.86" width="6.13" height="6.84" fill="#FFFFBF" stroke="#A3A3A3" stroke-width="0.55"/>
<rect x="64.66" y="431.86" width="6.13" height="6.84" fill="#FEE090" stroke="#A3A3A3" stroke-width="0.55"/>
<rect x="70.79" y="431.86" width="6.13" height="6.84" fill="#E0F3F8" stroke="#A3A3A3" stroke-width="0.55"/>
<rect x="76.92" y="431.86" width="6.13" height="6.84" fill="#F0F9DC" stroke="#A3A3A3" stroke-width="0.55"/>
<rect x="83.05" y="431.86" width="6.13" height="6.84" fill="#6B9AC8" stroke="#A3A3A3" stroke-width="0.55"/>
<rect x="89.18" y="431.86" width="6.13" height="6.84" fill="#E0F3F8" stroke="#A3A3A3" stroke-width="0.55"/>
<rect x="95.31" y="431.86" width="6.13" height="6.84" fill="#FFFFBF" stroke="#A3A3A3" stroke-width="0.55"/>
<rect x="101.44" y="431.86" width="6.13" height="6.84" fill="#F0F9DC" stroke="#A3A3A3" stroke-width="0.55"/>
<rect x="107.57" y="431.86" width="6.13" height="6.84" fill="#FFFFBF" stroke="#A3A3A3" stroke-width="0.55"/>
<rect x="113.70" y="431.86" width="6.13" height="6.84" fill="#FEE090" stroke="#A3A3A3" stroke-width="0.55"/>
<rect x="119.83" y="431.86" width="6.13" height="6.84" fill="#FEF0A8" stroke="#A3A3A3" stroke-width="0.55"/>
<rect x="125.96" y="431.86" width="6.13" height="6.84" fill="#FEE090" stroke="#A3A3A3" stroke-width="0.55"/>
<rect x="132.09" y="431.86" width="6.13" height="6.84" fill="#FEF0A8" stroke="#A3A3A3" stroke-width="0.55"/>
<rect x="138.22" y="431.86" width="6.13" height="6.84" fill="#FEF0A8" stroke="#A3A3A3" stroke-width="0.55"/>
<rect x="144.35" y="431.86" width="6.13" height="6.84" fill="#FEE090" stroke="#A3A3A3" stroke-width="0.55"/>
<rect x="150.48" y="431.86" width="6.13" height="6.84" fill="#FEF0A8" stroke="#A3A3A3" stroke-width="0.55"/>
<rect x="156.61" y="431.86" width="6.13" height="6.84" fill="#FEE090" stroke="#A3A3A3" stroke-width="0.55"/>
<rect x="162.74" y="431.86" width="6.13" height="6.84" fill="#FEF0A8" stroke="#A3A3A3" stroke-width="0.55"/>
<rect x="168.87" y="431.86" width="6.13" height="6.84" fill="#FC8D59" stroke="#A3A3A3" stroke-width="0.55"/>
<rect x="52.40" y="67.30" width="122.60" height="9.50" fill="#E2E2E8"/>
<rect x="52.40" y="76.80" width="122.60" height="9.30" fill="#E2E2E8"/>
<rect x="52.40" y="85.80" width="122.60" height="9.20" fill="#E2E2E8"/>
<rect x="52.40" y="68.30" width="6.13" height="7.50" fill="#0FCD5E" stroke="#A3A3A3" stroke-width="0.55"/>
<rect x="58.53" y="68.30" width="6.13" height="7.50" fill="#0FCD5E" stroke="#A3A3A3" stroke-width="0.55"/>
<rect x="64.66" y="68.30" width="6.13" height="7.50" fill="#0FCD5E" stroke="#A3A3A3" stroke-width="0.55"/>
<rect x="70.79" y="68.30" width="6.13" height="7.50" fill="#0FCD5E" stroke="#A3A3A3" stroke-width="0.55"/>
<rect x="76.92" y="68.30" width="6.13" height="7.50" fill="#0FCD5E" stroke="#A3A3A3" stroke-width="0.55"/>
<rect x="83.05" y="68.30" width="6.13" height="7.50" fill="#F8877B" stroke="#A3A3A3" stroke-width="0.55"/>
<rect x="89.18" y="68.30" width="6.13" height="7.50" fill="#F8877B" stroke="#A3A3A3" stroke-width="0.55"/>
<rect x="95.31" y="68.30" width="6.13" height="7.50" fill="#F8877B" stroke="#A3A3A3" stroke-width="0.55"/>
<rect x="101.44" y="68.30" width="6.13" height="7.50" fill="#F8877B" stroke="#A3A3A3" stroke-width="0.55"/>
<rect x="107.57" y="68.30" width="6.13" height="7.50" fill="#F8877B" stroke="#A3A3A3" stroke-width="0.55"/>
<rect x="113.70" y="68.30" width="6.13" height="7.50" fill="#0FCD5E" stroke="#A3A3A3" stroke-width="0.55"/>
<rect x="119.83" y="68.30" width="6.13" height="7.50" fill="#0FCD5E" stroke="#A3A3A3" stroke-width="0.55"/>
<rect x="125.96" y="68.30" width="6.13" height="7.50" fill="#F8877B" stroke="#A3A3A3" stroke-width="0.55"/>
<rect x="132.09" y="68.30" width="6.13" height="7.50" fill="#F8877B" stroke="#A3A3A3" stroke-width="0.55"/>
<rect x="138.22" y="68.30" width="6.13" height="7.50" fill="#0FCD5E" stroke="#A3A3A3" stroke-width="0.55"/>
<rect x="144.35" y="68.30" width="6.13" height="7.50" fill="#0FCD5E" stroke="#A3A3A3" stroke-width="0.55"/>
<rect x="150.48" y="68.30" width="6.13" height="7.50" fill="#0FCD5E" stroke="#A3A3A3" stroke-width="0.55"/>
<rect x="156.61" y="68.30" width="6.13" height="7.50" fill="#F8877B" stroke="#A3A3A3" stroke-width="0.55"/>
<rect x="162.74" y="68.30" width="6.13" height="7.50" fill="#F8877B" stroke="#A3A3A3" stroke-width="0.55"/>
<rect x="168.87" y="68.30" width="6.13" height="7.50" fill="#F8877B" stroke="#A3A3A3" stroke-width="0.55"/>
<rect x="52.40" y="77.80" width="6.13" height="7.30" fill="#EF8CF7" stroke="#A3A3A3" stroke-width="0.55"/>
<rect x="58.53" y="77.80" width="6.13" height="7.30" fill="#EF8CF7" stroke="#A3A3A3" stroke-width="0.55"/>
<rect x="64.66" y="77.80" width="6.13" height="7.30" fill="#EF8CF7" stroke="#A3A3A3" stroke-width="0.55"/>
<rect x="70.79" y="77.80" width="6.13" height="7.30" fill="#EF8CF7" stroke="#A3A3A3" stroke-width="0.55"/>
<rect x="76.92" y="77.80" width="6.13" height="7.30" fill="#EF8CF7" stroke="#A3A3A3" stroke-width="0.55"/>
<rect x="83.05" y="77.80" width="6.13" height="7.30" fill="#B2C300" stroke="#A3A3A3" stroke-width="0.55"/>
<rect x="89.18" y="77.80" width="6.13" height="7.30" fill="#B2C300" stroke="#A3A3A3" stroke-width="0.55"/>
<rect x="95.31" y="77.80" width="6.13" height="7.30" fill="#B2C300" stroke="#A3A3A3" stroke-width="0.55"/>
<rect x="101.44" y="77.80" width="6.13" height="7.30" fill="#B2C300" stroke="#A3A3A3" stroke-width="0.55"/>
<rect x="107.57" y="77.80" width="6.13" height="7.30" fill="#B2C300" stroke="#A3A3A3" stroke-width="0.55"/>
<rect x="113.70" y="77.80" width="6.13" height="7.30" fill="#B2C300" stroke="#A3A3A3" stroke-width="0.55"/>
<rect x="119.83" y="77.80" width="6.13" height="7.30" fill="#B2C300" stroke="#A3A3A3" stroke-width="0.55"/>
<rect x="125.96" y="77.80" width="6.13" height="7.30" fill="#EF8CF7" stroke="#A3A3A3" stroke-width="0.55"/>
<rect x="132.09" y="77.80" width="6.13" height="7.30" fill="#EF8CF7" stroke="#A3A3A3" stroke-width="0.55"/>
<rect x="138.22" y="77.80" width="6.13" height="7.30" fill="#B2C300" stroke="#A3A3A3" stroke-width="0.55"/>
<rect x="144.35" y="77.80" width="6.13" height="7.30" fill="#B2C300" stroke="#A3A3A3" stroke-width="0.55"/>
<rect x="150.48" y="77.80" width="6.13" height="7.30" fill="#B2C300" stroke="#A3A3A3" stroke-width="0.55"/>
<rect x="156.61" y="77.80" width="6.13" height="7.30" fill="#EF8CF7" stroke="#A3A3A3" stroke-width="0.55"/>
<rect x="162.74" y="77.80" width="6.13" height="7.30" fill="#EF8CF7" stroke="#A3A3A3" stroke-width="0.55"/>
<rect x="168.87" y="77.80" width="6.13" height="7.30" fill="#EF8CF7" stroke="#A3A3A3" stroke-width="0.55"/>
<rect x="52.40" y="86.80" width="6.13" height="7.20" fill="#00D3F7" stroke="#A3A3A3" stroke-width="0.55"/>
<rect x="58.53" y="86.80" width="6.13" height="7.20" fill="#00D4B4" stroke="#A3A3A3" stroke-width="0.55"/>
<rect x="64.66" y="86.80" width="6.13" height="7.20" fill="#FA78DC" stroke="#A3A3A3" stroke-width="0.55"/>
<rect x="70.79" y="86.80" width="6.13" height="7.20" fill="#80B0FF" stroke="#A3A3A3" stroke-width="0.55"/>
<rect x="76.92" y="86.80" width="6.13" height="7.20" fill="#F5A900" stroke="#A3A3A3" stroke-width="0.55"/>
<rect x="83.05" y="86.80" width="6.13" height="7.20" fill="#00D4B4" stroke="#A3A3A3" stroke-width="0.55"/>
<rect x="89.18" y="86.80" width="6.13" height="7.20" fill="#FA78DC" stroke="#A3A3A3" stroke-width="0.55"/>
<rect x="95.31" y="86.80" width="6.13" height="7.20" fill="#00D3F7" stroke="#A3A3A3" stroke-width="0.55"/>
<rect x="101.44" y="86.80" width="6.13" height="7.20" fill="#80B0FF" stroke="#A3A3A3" stroke-width="0.55"/>
<rect x="107.57" y="86.80" width="6.13" height="7.20" fill="#F5A900" stroke="#A3A3A3" stroke-width="0.55"/>
<rect x="113.70" y="86.80" width="6.13" height="7.20" fill="#FA78DC" stroke="#A3A3A3" stroke-width="0.55"/>
<rect x="119.83" y="86.80" width="6.13" height="7.20" fill="#80B0FF" stroke="#A3A3A3" stroke-width="0.55"/>
<rect x="125.96" y="86.80" width="6.13" height="7.20" fill="#00D4B4" stroke="#A3A3A3" stroke-width="0.55"/>
<rect x="132.09" y="86.80" width="6.13" height="7.20" fill="#80B0FF" stroke="#A3A3A3" stroke-width="0.55"/>
<rect x="138.22" y="86.80" width="6.13" height="7.20" fill="#F5A900" stroke="#A3A3A3" stroke-width="0.55"/>
<rect x="144.35" y="86.80" width="6.13" height="7.20" fill="#00D4B4" stroke="#A3A3A3" stroke-width="0.55"/>
<rect x="150.48" y="86.80" width="6.13" height="7.20" fill="#00D3F7" stroke="#A3A3A3" stroke-width="0.55"/>
<rect x="156.61" y="86.80" width="6.13" height="7.20" fill="#00D3F7" stroke="#A3A3A3" stroke-width="0.55"/>
<rect x="162.74" y="86.80" width="6.13" height="7.20" fill="#F5A900" stroke="#A3A3A3" stroke-width="0.55"/>
<rect x="168.87" y="86.80" width="6.13" height="7.20" fill="#FA78DC" stroke="#A3A3A3" stroke-width="0.55"/>
<text transform="translate(178.40,102.22) scale(0.9,1)" font-size="5.4" text-anchor="start" fill="#111111" stroke="#111111" stroke-width="0.12">LOC641746</text>
<text transform="translate(178.40,109.06) scale(0.9,1)" font-size="5.4" text-anchor="start" fill="#111111" stroke="#111111" stroke-width="0.12">TOMM20L</text>
<text transform="translate(178.40,115.90) scale(0.9,1)" font-size="5.4" text-anchor="start" fill="#111111" stroke="#111111" stroke-width="0.12">LINC00877</text>
<text transform="translate(178.40,122.74) scale(0.9,1)" font-size="5.4" text-anchor="start" fill="#111111" stroke="#111111" stroke-width="0.12">CACNB1</text>
<text transform="translate(178.40,129.58) scale(0.9,1)" font-size="5.4" text-anchor="start" fill="#111111" stroke="#111111" stroke-width="0.12">ADM5</text>
<text transform="translate(178.40,136.42) scale(0.9,1)" font-size="5.4" text-anchor="start" fill="#111111" stroke="#111111" stroke-width="0.12">C1orf145</text>
<text transform="translate(178.40,143.26) scale(0.9,1)" font-size="5.4" text-anchor="start" fill="#111111" stroke="#111111" stroke-width="0.12">CHRM4</text>
<text transform="translate(178.40,150.10) scale(0.9,1)" font-size="5.4" text-anchor="start" fill="#111111" stroke="#111111" stroke-width="0.12">SIGLEC17P</text>
<text transform="translate(178.40,156.94) scale(0.9,1)" font-size="5.4" text-anchor="start" fill="#111111" stroke="#111111" stroke-width="0.12">RET</text>
<text transform="translate(178.40,163.78) scale(0.9,1)" font-size="5.4" text-anchor="start" fill="#111111" stroke="#111111" stroke-width="0.12">PRR29</text>
<text transform="translate(178.40,170.62) scale(0.9,1)" font-size="5.4" text-anchor="start" fill="#111111" stroke="#111111" stroke-width="0.12">MOV10L1</text>
<text transform="translate(178.40,177.46) scale(0.9,1)" font-size="5.4" text-anchor="start" fill="#111111" stroke="#111111" stroke-width="0.12">FNDC9</text>
<text transform="translate(178.40,184.30) scale(0.9,1)" font-size="5.4" text-anchor="start" fill="#111111" stroke="#111111" stroke-width="0.12">SSX6</text>
<text transform="translate(178.40,191.14) scale(0.9,1)" font-size="5.4" text-anchor="start" fill="#111111" stroke="#111111" stroke-width="0.12">PLET1</text>
<text transform="translate(178.40,197.98) scale(0.9,1)" font-size="5.4" text-anchor="start" fill="#111111" stroke="#111111" stroke-width="0.12">CNR1</text>
<text transform="translate(178.40,204.82) scale(0.9,1)" font-size="5.4" text-anchor="start" fill="#111111" stroke="#111111" stroke-width="0.12">LCE2D</text>
<text transform="translate(178.40,211.66) scale(0.9,1)" font-size="5.4" text-anchor="start" fill="#111111" stroke="#111111" stroke-width="0.12">ASB9</text>
<text transform="translate(178.40,218.50) scale(0.9,1)" font-size="5.4" text-anchor="start" fill="#111111" stroke="#111111" stroke-width="0.12">LINC00424</text>
<text transform="translate(178.40,225.34) scale(0.9,1)" font-size="5.4" text-anchor="start" fill="#111111" stroke="#111111" stroke-width="0.12">MAGI1−AS1</text>
<text transform="translate(178.40,232.18) scale(0.9,1)" font-size="5.4" text-anchor="start" fill="#111111" stroke="#111111" stroke-width="0.12">UG0898H09</text>
<text transform="translate(178.40,239.02) scale(0.9,1)" font-size="5.4" text-anchor="start" fill="#111111" stroke="#111111" stroke-width="0.12">EIF1B−AS1</text>
<text transform="translate(178.40,245.86) scale(0.9,1)" font-size="5.4" text-anchor="start" fill="#111111" stroke="#111111" stroke-width="0.12">KRTAP5−2</text>
<text transform="translate(178.40,252.70) scale(0.9,1)" font-size="5.4" text-anchor="start" fill="#111111" stroke="#111111" stroke-width="0.12">SNORD115−25</text>
<text transform="translate(178.40,259.54) scale(0.9,1)" font-size="5.4" text-anchor="start" fill="#111111" stroke="#111111" stroke-width="0.12">FUT3</text>
<text transform="translate(178.40,266.38) scale(0.9,1)" font-size="5.4" text-anchor="start" fill="#111111" stroke="#111111" stroke-width="0.12">GOLGA6L2</text>
<text transform="translate(178.40,273.22) scale(0.9,1)" font-size="5.4" text-anchor="start" fill="#111111" stroke="#111111" stroke-width="0.12">IGKC</text>
<text transform="translate(178.40,280.06) scale(0.9,1)" font-size="5.4" text-anchor="start" fill="#111111" stroke="#111111" stroke-width="0.12">MRS2P2</text>
<text transform="translate(178.40,286.90) scale(0.9,1)" font-size="5.4" text-anchor="start" fill="#111111" stroke="#111111" stroke-width="0.12">KRTAP20−4</text>
<text transform="translate(178.40,293.74) scale(0.9,1)" font-size="5.4" text-anchor="start" fill="#111111" stroke="#111111" stroke-width="0.12">JARID2−AS1</text>
<text transform="translate(178.40,300.58) scale(0.9,1)" font-size="5.4" text-anchor="start" fill="#111111" stroke="#111111" stroke-width="0.12">ROBO4</text>
<text transform="translate(178.40,307.42) scale(0.9,1)" font-size="5.4" text-anchor="start" fill="#111111" stroke="#111111" stroke-width="0.12">SLC15A1</text>
<text transform="translate(178.40,314.26) scale(0.9,1)" font-size="5.4" text-anchor="start" fill="#111111" stroke="#111111" stroke-width="0.12">LGR5</text>
<text transform="translate(178.40,321.10) scale(0.9,1)" font-size="5.4" text-anchor="start" fill="#111111" stroke="#111111" stroke-width="0.12">LOC100506514</text>
<text transform="translate(178.40,327.94) scale(0.9,1)" font-size="5.4" text-anchor="start" fill="#111111" stroke="#111111" stroke-width="0.12">LOC101929413</text>
<text transform="translate(178.40,334.78) scale(0.9,1)" font-size="5.4" text-anchor="start" fill="#111111" stroke="#111111" stroke-width="0.12">ADH4</text>
<text transform="translate(178.40,341.62) scale(0.9,1)" font-size="5.4" text-anchor="start" fill="#111111" stroke="#111111" stroke-width="0.12">FAM24A</text>
<text transform="translate(178.40,348.46) scale(0.9,1)" font-size="5.4" text-anchor="start" fill="#111111" stroke="#111111" stroke-width="0.12">LINC01312</text>
<text transform="translate(178.40,355.30) scale(0.9,1)" font-size="5.4" text-anchor="start" fill="#111111" stroke="#111111" stroke-width="0.12">GPR139</text>
<text transform="translate(178.40,362.14) scale(0.9,1)" font-size="5.4" text-anchor="start" fill="#111111" stroke="#111111" stroke-width="0.12">TUBB4A</text>
<text transform="translate(178.40,368.98) scale(0.9,1)" font-size="5.4" text-anchor="start" fill="#111111" stroke="#111111" stroke-width="0.12">DDIT3</text>
<text transform="translate(178.40,375.82) scale(0.9,1)" font-size="5.4" text-anchor="start" fill="#111111" stroke="#111111" stroke-width="0.12">MIR4499</text>
<text transform="translate(178.40,382.66) scale(0.9,1)" font-size="5.4" text-anchor="start" fill="#111111" stroke="#111111" stroke-width="0.12">COPS4</text>
<text transform="translate(178.40,389.50) scale(0.9,1)" font-size="5.4" text-anchor="start" fill="#111111" stroke="#111111" stroke-width="0.12">ALG6</text>
<text transform="translate(178.40,396.34) scale(0.9,1)" font-size="5.4" text-anchor="start" fill="#111111" stroke="#111111" stroke-width="0.12">LOC101927780</text>
<text transform="translate(178.40,403.18) scale(0.9,1)" font-size="5.4" text-anchor="start" fill="#111111" stroke="#111111" stroke-width="0.12">IDI2</text>
<text transform="translate(178.40,410.02) scale(0.9,1)" font-size="5.4" text-anchor="start" fill="#111111" stroke="#111111" stroke-width="0.12">FANCM</text>
<text transform="translate(178.40,416.86) scale(0.9,1)" font-size="5.4" text-anchor="start" fill="#111111" stroke="#111111" stroke-width="0.12">SLC9A9−AS1</text>
<text transform="translate(178.40,423.70) scale(0.9,1)" font-size="5.4" text-anchor="start" fill="#111111" stroke="#111111" stroke-width="0.12">PRDX4</text>
<text transform="translate(178.40,430.54) scale(0.9,1)" font-size="5.4" text-anchor="start" fill="#111111" stroke="#111111" stroke-width="0.12">ZNF708</text>
<text transform="translate(178.40,437.38) scale(0.9,1)" font-size="5.4" text-anchor="start" fill="#111111" stroke="#111111" stroke-width="0.12">UTP15</text>
<text x="178.40" y="74.00" font-size="5.2" text-anchor="start" fill="#111111" stroke="#111111" stroke-width="0.12">Stim</text>
<text x="178.40" y="83.50" font-size="5.2" text-anchor="start" fill="#111111" stroke="#111111" stroke-width="0.12">CD16</text>
<text x="178.40" y="92.50" font-size="5.2" text-anchor="start" fill="#111111" stroke="#111111" stroke-width="0.12">DonorID</text>
<line x1="61.59" y1="49.40" x2="61.59" y2="68.30" stroke="#4A4A4A" stroke-width="0.95"/>
<line x1="67.72" y1="49.40" x2="67.72" y2="68.30" stroke="#4A4A4A" stroke-width="0.95"/>
<line x1="61.59" y1="49.40" x2="67.72" y2="49.40" stroke="#4A4A4A" stroke-width="0.95"/>
<line x1="55.46" y1="45.40" x2="55.46" y2="68.30" stroke="#4A4A4A" stroke-width="0.95"/>
<line x1="64.66" y1="45.40" x2="64.66" y2="49.40" stroke="#4A4A4A" stroke-width="0.95"/>
<line x1="55.46" y1="45.40" x2="64.66" y2="45.40" stroke="#4A4A4A" stroke-width="0.95"/>
<line x1="73.85" y1="45.00" x2="73.85" y2="68.30" stroke="#4A4A4A" stroke-width="0.95"/>
<line x1="79.98" y1="45.00" x2="79.98" y2="68.30" stroke="#4A4A4A" stroke-width="0.95"/>
<line x1="73.85" y1="45.00" x2="79.98" y2="45.00" stroke="#4A4A4A" stroke-width="0.95"/>
<line x1="60.06" y1="42.25" x2="60.06" y2="45.40" stroke="#4A4A4A" stroke-width="0.95"/>
<line x1="76.92" y1="42.25" x2="76.92" y2="45.00" stroke="#4A4A4A" stroke-width="0.95"/>
<line x1="60.06" y1="42.25" x2="76.92" y2="42.25" stroke="#4A4A4A" stroke-width="0.95"/>
<line x1="92.25" y1="49.40" x2="92.25" y2="68.30" stroke="#4A4A4A" stroke-width="0.95"/>
<line x1="98.38" y1="49.40" x2="98.38" y2="68.30" stroke="#4A4A4A" stroke-width="0.95"/>
<line x1="92.25" y1="49.40" x2="98.38" y2="49.40" stroke="#4A4A4A" stroke-width="0.95"/>
<line x1="86.11" y1="45.90" x2="86.11" y2="68.30" stroke="#4A4A4A" stroke-width="0.95"/>
<line x1="95.31" y1="45.90" x2="95.31" y2="49.40" stroke="#4A4A4A" stroke-width="0.95"/>
<line x1="86.11" y1="45.90" x2="95.31" y2="45.90" stroke="#4A4A4A" stroke-width="0.95"/>
<line x1="104.50" y1="44.40" x2="104.50" y2="68.30" stroke="#4A4A4A" stroke-width="0.95"/>
<line x1="110.63" y1="44.40" x2="110.63" y2="68.30" stroke="#4A4A4A" stroke-width="0.95"/>
<line x1="104.50" y1="44.40" x2="110.63" y2="44.40" stroke="#4A4A4A" stroke-width="0.95"/>
<line x1="90.71" y1="41.90" x2="90.71" y2="45.90" stroke="#4A4A4A" stroke-width="0.95"/>
<line x1="107.57" y1="41.90" x2="107.57" y2="44.40" stroke="#4A4A4A" stroke-width="0.95"/>
<line x1="90.71" y1="41.90" x2="107.57" y2="41.90" stroke="#4A4A4A" stroke-width="0.95"/>
<line x1="68.49" y1="39.40" x2="68.49" y2="42.25" stroke="#4A4A4A" stroke-width="0.95"/>
<line x1="99.14" y1="39.40" x2="99.14" y2="41.90" stroke="#4A4A4A" stroke-width="0.95"/>
<line x1="68.49" y1="39.40" x2="99.14" y2="39.40" stroke="#4A4A4A" stroke-width="0.95"/>
<line x1="116.76" y1="46.50" x2="116.76" y2="68.30" stroke="#4A4A4A" stroke-width="0.95"/>
<line x1="122.90" y1="46.50" x2="122.90" y2="68.30" stroke="#4A4A4A" stroke-width="0.95"/>
<line x1="116.76" y1="46.50" x2="122.90" y2="46.50" stroke="#4A4A4A" stroke-width="0.95"/>
<line x1="129.03" y1="48.30" x2="129.03" y2="68.30" stroke="#4A4A4A" stroke-width="0.95"/>
<line x1="135.16" y1="48.30" x2="135.16" y2="68.30" stroke="#4A4A4A" stroke-width="0.95"/>
<line x1="129.03" y1="48.30" x2="135.16" y2="48.30" stroke="#4A4A4A" stroke-width="0.95"/>
<line x1="147.41" y1="51.00" x2="147.41" y2="68.30" stroke="#4A4A4A" stroke-width="0.95"/>
<line x1="153.54" y1="51.00" x2="153.54" y2="68.30" stroke="#4A4A4A" stroke-width="0.95"/>
<line x1="147.41" y1="51.00" x2="153.54" y2="51.00" stroke="#4A4A4A" stroke-width="0.95"/>
<line x1="141.28" y1="46.90" x2="141.28" y2="68.30" stroke="#4A4A4A" stroke-width="0.95"/>
<line x1="150.48" y1="46.90" x2="150.48" y2="51.00" stroke="#4A4A4A" stroke-width="0.95"/>
<line x1="141.28" y1="46.90" x2="150.48" y2="46.90" stroke="#4A4A4A" stroke-width="0.95"/>
<line x1="132.09" y1="44.00" x2="132.09" y2="48.30" stroke="#4A4A4A" stroke-width="0.95"/>
<line x1="145.88" y1="44.00" x2="145.88" y2="46.90" stroke="#4A4A4A" stroke-width="0.95"/>
<line x1="132.09" y1="44.00" x2="145.88" y2="44.00" stroke="#4A4A4A" stroke-width="0.95"/>
<line x1="165.81" y1="44.60" x2="165.81" y2="68.30" stroke="#4A4A4A" stroke-width="0.95"/>
<line x1="171.94" y1="44.60" x2="171.94" y2="68.30" stroke="#4A4A4A" stroke-width="0.95"/>
<line x1="165.81" y1="44.60" x2="171.94" y2="44.60" stroke="#4A4A4A" stroke-width="0.95"/>
<line x1="159.67" y1="42.20" x2="159.67" y2="68.30" stroke="#4A4A4A" stroke-width="0.95"/>
<line x1="168.87" y1="42.20" x2="168.87" y2="44.60" stroke="#4A4A4A" stroke-width="0.95"/>
<line x1="159.67" y1="42.20" x2="168.87" y2="42.20" stroke="#4A4A4A" stroke-width="0.95"/>
<line x1="138.99" y1="41.30" x2="138.99" y2="44.00" stroke="#4A4A4A" stroke-width="0.95"/>
<line x1="164.27" y1="41.30" x2="164.27" y2="42.20" stroke="#4A4A4A" stroke-width="0.95"/>
<line x1="138.99" y1="41.30" x2="164.27" y2="41.30" stroke="#4A4A4A" stroke-width="0.95"/>
<line x1="119.83" y1="37.20" x2="119.83" y2="46.50" stroke="#4A4A4A" stroke-width="0.95"/>
<line x1="151.63" y1="37.20" x2="151.63" y2="41.30" stroke="#4A4A4A" stroke-width="0.95"/>
<line x1="119.83" y1="37.20" x2="151.63" y2="37.20" stroke="#4A4A4A" stroke-width="0.95"/>
<line x1="83.82" y1="23.75" x2="83.82" y2="39.40" stroke="#4A4A4A" stroke-width="0.95"/>
<line x1="135.73" y1="23.75" x2="135.73" y2="37.20" stroke="#4A4A4A" stroke-width="0.95"/>
<line x1="83.82" y1="23.75" x2="135.73" y2="23.75" stroke="#4A4A4A" stroke-width="0.95"/>
<line x1="33.60" y1="106.96" x2="52.40" y2="106.96" stroke="#4A4A4A" stroke-width="0.95"/>
<line x1="33.60" y1="113.80" x2="52.40" y2="113.80" stroke="#4A4A4A" stroke-width="0.95"/>
<line x1="33.60" y1="106.96" x2="33.60" y2="113.80" stroke="#4A4A4A" stroke-width="0.95"/>
<line x1="30.20" y1="100.12" x2="52.40" y2="100.12" stroke="#4A4A4A" stroke-width="0.95"/>
<line x1="30.20" y1="110.38" x2="33.60" y2="110.38" stroke="#4A4A4A" stroke-width="0.95"/>
<line x1="30.20" y1="100.12" x2="30.20" y2="110.38" stroke="#4A4A4A" stroke-width="0.95"/>
<line x1="36.20" y1="120.64" x2="52.40" y2="120.64" stroke="#4A4A4A" stroke-width="0.95"/>
<line x1="36.20" y1="127.48" x2="52.40" y2="127.48" stroke="#4A4A4A" stroke-width="0.95"/>
<line x1="36.20" y1="120.64" x2="36.20" y2="127.48" stroke="#4A4A4A" stroke-width="0.95"/>
<line x1="36.20" y1="134.32" x2="52.40" y2="134.32" stroke="#4A4A4A" stroke-width="0.95"/>
<line x1="36.20" y1="141.16" x2="52.40" y2="141.16" stroke="#4A4A4A" stroke-width="0.95"/>
<line x1="36.20" y1="134.32" x2="36.20" y2="141.16" stroke="#4A4A4A" stroke-width="0.95"/>
<line x1="32.60" y1="124.06" x2="36.20" y2="124.06" stroke="#4A4A4A" stroke-width="0.95"/>
<line x1="32.60" y1="137.74" x2="36.20" y2="137.74" stroke="#4A4A4A" stroke-width="0.95"/>
<line x1="32.60" y1="124.06" x2="32.60" y2="137.74" stroke="#4A4A4A" stroke-width="0.95"/>
<line x1="35.80" y1="154.84" x2="52.40" y2="154.84" stroke="#4A4A4A" stroke-width="0.95"/>
<line x1="35.80" y1="161.68" x2="52.40" y2="161.68" stroke="#4A4A4A" stroke-width="0.95"/>
<line x1="35.80" y1="154.84" x2="35.80" y2="161.68" stroke="#4A4A4A" stroke-width="0.95"/>
<line x1="28.80" y1="148.00" x2="52.40" y2="148.00" stroke="#4A4A4A" stroke-width="0.95"/>
<line x1="28.80" y1="158.26" x2="35.80" y2="158.26" stroke="#4A4A4A" stroke-width="0.95"/>
<line x1="28.80" y1="148.00" x2="28.80" y2="158.26" stroke="#4A4A4A" stroke-width="0.95"/>
<line x1="26.20" y1="130.90" x2="32.60" y2="130.90" stroke="#4A4A4A" stroke-width="0.95"/>
<line x1="26.20" y1="153.13" x2="28.80" y2="153.13" stroke="#4A4A4A" stroke-width="0.95"/>
<line x1="26.20" y1="130.90" x2="26.20" y2="153.13" stroke="#4A4A4A" stroke-width="0.95"/>
<line x1="23.50" y1="105.25" x2="30.20" y2="105.25" stroke="#4A4A4A" stroke-width="0.95"/>
<line x1="23.50" y1="142.01" x2="26.20" y2="142.01" stroke="#4A4A4A" stroke-width="0.95"/>
<line x1="23.50" y1="105.25" x2="23.50" y2="142.01" stroke="#4A4A4A" stroke-width="0.95"/>
<line x1="32.30" y1="175.36" x2="52.40" y2="175.36" stroke="#4A4A4A" stroke-width="0.95"/>
<line x1="32.30" y1="182.20" x2="52.40" y2="182.20" stroke="#4A4A4A" stroke-width="0.95"/>
<line x1="32.30" y1="175.36" x2="32.30" y2="182.20" stroke="#4A4A4A" stroke-width="0.95"/>
<line x1="31.50" y1="168.52" x2="52.40" y2="168.52" stroke="#4A4A4A" stroke-width="0.95"/>
<line x1="31.50" y1="178.78" x2="32.30" y2="178.78" stroke="#4A4A4A" stroke-width="0.95"/>
<line x1="31.50" y1="168.52" x2="31.50" y2="178.78" stroke="#4A4A4A" stroke-width="0.95"/>
<line x1="36.00" y1="189.04" x2="52.40" y2="189.04" stroke="#4A4A4A" stroke-width="0.95"/>
<line x1="36.00" y1="195.88" x2="52.40" y2="195.88" stroke="#4A4A4A" stroke-width="0.95"/>
<line x1="36.00" y1="189.04" x2="36.00" y2="195.88" stroke="#4A4A4A" stroke-width="0.95"/>
<line x1="35.40" y1="202.72" x2="52.40" y2="202.72" stroke="#4A4A4A" stroke-width="0.95"/>
<line x1="35.40" y1="209.56" x2="52.40" y2="209.56" stroke="#4A4A4A" stroke-width="0.95"/>
<line x1="35.40" y1="202.72" x2="35.40" y2="209.56" stroke="#4A4A4A" stroke-width="0.95"/>
<line x1="32.30" y1="192.46" x2="36.00" y2="192.46" stroke="#4A4A4A" stroke-width="0.95"/>
<line x1="32.30" y1="206.14" x2="35.40" y2="206.14" stroke="#4A4A4A" stroke-width="0.95"/>
<line x1="32.30" y1="192.46" x2="32.30" y2="206.14" stroke="#4A4A4A" stroke-width="0.95"/>
<line x1="34.90" y1="223.24" x2="52.40" y2="223.24" stroke="#4A4A4A" stroke-width="0.95"/>
<line x1="34.90" y1="230.08" x2="52.40" y2="230.08" stroke="#4A4A4A" stroke-width="0.95"/>
<line x1="34.90" y1="223.24" x2="34.90" y2="230.08" stroke="#4A4A4A" stroke-width="0.95"/>
<line x1="31.50" y1="216.40" x2="52.40" y2="216.40" stroke="#4A4A4A" stroke-width="0.95"/>
<line x1="31.50" y1="226.66" x2="34.90" y2="226.66" stroke="#4A4A4A" stroke-width="0.95"/>
<line x1="31.50" y1="216.40" x2="31.50" y2="226.66" stroke="#4A4A4A" stroke-width="0.95"/>
<line x1="35.40" y1="243.76" x2="52.40" y2="243.76" stroke="#4A4A4A" stroke-width="0.95"/>
<line x1="35.40" y1="250.60" x2="52.40" y2="250.60" stroke="#4A4A4A" stroke-width="0.95"/>
<line x1="35.40" y1="243.76" x2="35.40" y2="250.60" stroke="#4A4A4A" stroke-width="0.95"/>
<line x1="30.70" y1="236.92" x2="52.40" y2="236.92" stroke="#4A4A4A" stroke-width="0.95"/>
<line x1="30.70" y1="247.18" x2="35.40" y2="247.18" stroke="#4A4A4A" stroke-width="0.95"/>
<line x1="30.70" y1="236.92" x2="30.70" y2="247.18" stroke="#4A4A4A" stroke-width="0.95"/>
<line x1="27.70" y1="221.53" x2="31.50" y2="221.53" stroke="#4A4A4A" stroke-width="0.95"/>
<line x1="27.70" y1="242.05" x2="30.70" y2="242.05" stroke="#4A4A4A" stroke-width="0.95"/>
<line x1="27.70" y1="221.53" x2="27.70" y2="242.05" stroke="#4A4A4A" stroke-width="0.95"/>
<line x1="24.30" y1="199.30" x2="32.30" y2="199.30" stroke="#4A4A4A" stroke-width="0.95"/>
<line x1="24.30" y1="231.79" x2="27.70" y2="231.79" stroke="#4A4A4A" stroke-width="0.95"/>
<line x1="24.30" y1="199.30" x2="24.30" y2="231.79" stroke="#4A4A4A" stroke-width="0.95"/>
<line x1="23.80" y1="173.65" x2="31.50" y2="173.65" stroke="#4A4A4A" stroke-width="0.95"/>
<line x1="23.80" y1="215.55" x2="24.30" y2="215.55" stroke="#4A4A4A" stroke-width="0.95"/>
<line x1="23.80" y1="173.65" x2="23.80" y2="215.55" stroke="#4A4A4A" stroke-width="0.95"/>
<line x1="34.90" y1="264.28" x2="52.40" y2="264.28" stroke="#4A4A4A" stroke-width="0.95"/>
<line x1="34.90" y1="271.12" x2="52.40" y2="271.12" stroke="#4A4A4A" stroke-width="0.95"/>
<line x1="34.90" y1="264.28" x2="34.90" y2="271.12" stroke="#4A4A4A" stroke-width="0.95"/>
<line x1="31.00" y1="257.44" x2="52.40" y2="257.44" stroke="#4A4A4A" stroke-width="0.95"/>
<line x1="31.00" y1="267.70" x2="34.90" y2="267.70" stroke="#4A4A4A" stroke-width="0.95"/>
<line x1="31.00" y1="257.44" x2="31.00" y2="267.70" stroke="#4A4A4A" stroke-width="0.95"/>
<line x1="30.70" y1="277.96" x2="52.40" y2="277.96" stroke="#4A4A4A" stroke-width="0.95"/>
<line x1="30.70" y1="284.80" x2="52.40" y2="284.80" stroke="#4A4A4A" stroke-width="0.95"/>
<line x1="30.70" y1="277.96" x2="30.70" y2="284.80" stroke="#4A4A4A" stroke-width="0.95"/>
<line x1="26.50" y1="262.57" x2="31.00" y2="262.57" stroke="#4A4A4A" stroke-width="0.95"/>
<line x1="26.50" y1="281.38" x2="30.70" y2="281.38" stroke="#4A4A4A" stroke-width="0.95"/>
<line x1="26.50" y1="262.57" x2="26.50" y2="281.38" stroke="#4A4A4A" stroke-width="0.95"/>
<line x1="34.90" y1="298.48" x2="52.40" y2="298.48" stroke="#4A4A4A" stroke-width="0.95"/>
<line x1="34.90" y1="305.32" x2="52.40" y2="305.32" stroke="#4A4A4A" stroke-width="0.95"/>
<line x1="34.90" y1="298.48" x2="34.90" y2="305.32" stroke="#4A4A4A" stroke-width="0.95"/>
<line x1="30.70" y1="291.64" x2="52.40" y2="291.64" stroke="#4A4A4A" stroke-width="0.95"/>
<line x1="30.70" y1="301.90" x2="34.90" y2="301.90" stroke="#4A4A4A" stroke-width="0.95"/>
<line x1="30.70" y1="291.64" x2="30.70" y2="301.90" stroke="#4A4A4A" stroke-width="0.95"/>
<line x1="36.50" y1="312.16" x2="52.40" y2="312.16" stroke="#4A4A4A" stroke-width="0.95"/>
<line x1="36.50" y1="319.00" x2="52.40" y2="319.00" stroke="#4A4A4A" stroke-width="0.95"/>
<line x1="36.50" y1="312.16" x2="36.50" y2="319.00" stroke="#4A4A4A" stroke-width="0.95"/>
<line x1="31.40" y1="325.84" x2="52.40" y2="325.84" stroke="#4A4A4A" stroke-width="0.95"/>
<line x1="31.40" y1="332.68" x2="52.40" y2="332.68" stroke="#4A4A4A" stroke-width="0.95"/>
<line x1="31.40" y1="325.84" x2="31.40" y2="332.68" stroke="#4A4A4A" stroke-width="0.95"/>
<line x1="30.00" y1="315.58" x2="36.50" y2="315.58" stroke="#4A4A4A" stroke-width="0.95"/>
<line x1="30.00" y1="329.26" x2="31.40" y2="329.26" stroke="#4A4A4A" stroke-width="0.95"/>
<line x1="30.00" y1="315.58" x2="30.00" y2="329.26" stroke="#4A4A4A" stroke-width="0.95"/>
<line x1="25.10" y1="296.77" x2="30.70" y2="296.77" stroke="#4A4A4A" stroke-width="0.95"/>
<line x1="25.10" y1="322.42" x2="30.00" y2="322.42" stroke="#4A4A4A" stroke-width="0.95"/>
<line x1="25.10" y1="296.77" x2="25.10" y2="322.42" stroke="#4A4A4A" stroke-width="0.95"/>
<line x1="22.60" y1="271.98" x2="26.50" y2="271.98" stroke="#4A4A4A" stroke-width="0.95"/>
<line x1="22.60" y1="309.60" x2="25.10" y2="309.60" stroke="#4A4A4A" stroke-width="0.95"/>
<line x1="22.60" y1="271.98" x2="22.60" y2="309.60" stroke="#4A4A4A" stroke-width="0.95"/>
<line x1="20.60" y1="194.60" x2="23.80" y2="194.60" stroke="#4A4A4A" stroke-width="0.95"/>
<line x1="20.60" y1="290.79" x2="22.60" y2="290.79" stroke="#4A4A4A" stroke-width="0.95"/>
<line x1="20.60" y1="194.60" x2="20.60" y2="290.79" stroke="#4A4A4A" stroke-width="0.95"/>
<line x1="19.40" y1="123.63" x2="23.50" y2="123.63" stroke="#4A4A4A" stroke-width="0.95"/>
<line x1="19.40" y1="242.69" x2="20.60" y2="242.69" stroke="#4A4A4A" stroke-width="0.95"/>
<line x1="19.40" y1="123.63" x2="19.40" y2="242.69" stroke="#4A4A4A" stroke-width="0.95"/>
<line x1="33.90" y1="339.52" x2="52.40" y2="339.52" stroke="#4A4A4A" stroke-width="0.95"/>
<line x1="33.90" y1="346.36" x2="52.40" y2="346.36" stroke="#4A4A4A" stroke-width="0.95"/>
<line x1="33.90" y1="339.52" x2="33.90" y2="346.36" stroke="#4A4A4A" stroke-width="0.95"/>
<line x1="31.40" y1="353.20" x2="52.40" y2="353.20" stroke="#4A4A4A" stroke-width="0.95"/>
<line x1="31.40" y1="360.04" x2="52.40" y2="360.04" stroke="#4A4A4A" stroke-width="0.95"/>
<line x1="31.40" y1="353.20" x2="31.40" y2="360.04" stroke="#4A4A4A" stroke-width="0.95"/>
<line x1="25.40" y1="342.94" x2="33.90" y2="342.94" stroke="#4A4A4A" stroke-width="0.95"/>
<line x1="25.40" y1="356.62" x2="31.40" y2="356.62" stroke="#4A4A4A" stroke-width="0.95"/>
<line x1="25.40" y1="342.94" x2="25.40" y2="356.62" stroke="#4A4A4A" stroke-width="0.95"/>
<line x1="35.80" y1="366.88" x2="52.40" y2="366.88" stroke="#4A4A4A" stroke-width="0.95"/>
<line x1="35.80" y1="373.72" x2="52.40" y2="373.72" stroke="#4A4A4A" stroke-width="0.95"/>
<line x1="35.80" y1="366.88" x2="35.80" y2="373.72" stroke="#4A4A4A" stroke-width="0.95"/>
<line x1="35.80" y1="387.40" x2="52.40" y2="387.40" stroke="#4A4A4A" stroke-width="0.95"/>
<line x1="35.80" y1="394.24" x2="52.40" y2="394.24" stroke="#4A4A4A" stroke-width="0.95"/>
<line x1="35.80" y1="387.40" x2="35.80" y2="394.24" stroke="#4A4A4A" stroke-width="0.95"/>
<line x1="30.20" y1="380.56" x2="52.40" y2="380.56" stroke="#4A4A4A" stroke-width="0.95"/>
<line x1="30.20" y1="390.82" x2="35.80" y2="390.82" stroke="#4A4A4A" stroke-width="0.95"/>
<line x1="30.20" y1="380.56" x2="30.20" y2="390.82" stroke="#4A4A4A" stroke-width="0.95"/>
<line x1="27.40" y1="370.30" x2="35.80" y2="370.30" stroke="#4A4A4A" stroke-width="0.95"/>
<line x1="27.40" y1="385.69" x2="30.20" y2="385.69" stroke="#4A4A4A" stroke-width="0.95"/>
<line x1="27.40" y1="370.30" x2="27.40" y2="385.69" stroke="#4A4A4A" stroke-width="0.95"/>
<line x1="32.50" y1="401.08" x2="52.40" y2="401.08" stroke="#4A4A4A" stroke-width="0.95"/>
<line x1="32.50" y1="407.92" x2="52.40" y2="407.92" stroke="#4A4A4A" stroke-width="0.95"/>
<line x1="32.50" y1="401.08" x2="32.50" y2="407.92" stroke="#4A4A4A" stroke-width="0.95"/>
<line x1="35.60" y1="414.76" x2="52.40" y2="414.76" stroke="#4A4A4A" stroke-width="0.95"/>
<line x1="35.60" y1="421.60" x2="52.40" y2="421.60" stroke="#4A4A4A" stroke-width="0.95"/>
<line x1="35.60" y1="414.76" x2="35.60" y2="421.60" stroke="#4A4A4A" stroke-width="0.95"/>
<line x1="33.60" y1="428.44" x2="52.40" y2="428.44" stroke="#4A4A4A" stroke-width="0.95"/>
<line x1="33.60" y1="435.28" x2="52.40" y2="435.28" stroke="#4A4A4A" stroke-width="0.95"/>
<line x1="33.60" y1="428.44" x2="33.60" y2="435.28" stroke="#4A4A4A" stroke-width="0.95"/>
<line x1="28.60" y1="418.18" x2="35.60" y2="418.18" stroke="#4A4A4A" stroke-width="0.95"/>
<line x1="28.60" y1="431.86" x2="33.60" y2="431.86" stroke="#4A4A4A" stroke-width="0.95"/>
<line x1="28.60" y1="418.18" x2="28.60" y2="431.86" stroke="#4A4A4A" stroke-width="0.95"/>
<line x1="25.50" y1="404.50" x2="32.50" y2="404.50" stroke="#4A4A4A" stroke-width="0.95"/>
<line x1="25.50" y1="425.02" x2="28.60" y2="425.02" stroke="#4A4A4A" stroke-width="0.95"/>
<line x1="25.50" y1="404.50" x2="25.50" y2="425.02" stroke="#4A4A4A" stroke-width="0.95"/>
<line x1="21.60" y1="378.00" x2="27.40" y2="378.00" stroke="#4A4A4A" stroke-width="0.95"/>
<line x1="21.60" y1="414.76" x2="25.50" y2="414.76" stroke="#4A4A4A" stroke-width="0.95"/>
<line x1="21.60" y1="378.00" x2="21.60" y2="414.76" stroke="#4A4A4A" stroke-width="0.95"/>
<line x1="18.40" y1="349.78" x2="25.40" y2="349.78" stroke="#4A4A4A" stroke-width="0.95"/>
<line x1="18.40" y1="396.38" x2="21.60" y2="396.38" stroke="#4A4A4A" stroke-width="0.95"/>
<line x1="18.40" y1="349.78" x2="18.40" y2="396.38" stroke="#4A4A4A" stroke-width="0.95"/>
<line x1="8.40" y1="183.16" x2="19.40" y2="183.16" stroke="#4A4A4A" stroke-width="0.95"/>
<line x1="8.40" y1="373.08" x2="18.40" y2="373.08" stroke="#4A4A4A" stroke-width="0.95"/>
<line x1="8.40" y1="183.16" x2="8.40" y2="373.08" stroke="#4A4A4A" stroke-width="0.95"/>
<defs><linearGradient id="gA" x1="0" y1="0" x2="0" y2="1"><stop offset="0.0000" stop-color="#D73027"/><stop offset="0.1667" stop-color="#FC8D59"/><stop offset="0.3333" stop-color="#FEE090"/><stop offset="0.5000" stop-color="#FFFFBF"/><stop offset="0.6667" stop-color="#E0F3F8"/><stop offset="0.8333" stop-color="#91BFDB"/><stop offset="1.0000" stop-color="#4575B4"/></linearGradient></defs>
<rect x="236.2" y="67.4" width="8.5" height="125.6" fill="url(#gA)"/>
<text x="248.30" y="88.00" font-size="5.2" text-anchor="start" fill="#111111" stroke="#111111" stroke-width="0.12">2</text>
<text x="248.30" y="110.10" font-size="5.2" text-anchor="start" fill="#111111" stroke="#111111" stroke-width="0.12">1</text>
<text x="248.30" y="133.10" font-size="5.2" text-anchor="start" fill="#111111" stroke="#111111" stroke-width="0.12">0</text>
<text x="248.30" y="155.50" font-size="5.2" text-anchor="start" fill="#111111" stroke="#111111" stroke-width="0.12">−1</text>
<text x="248.30" y="178.30" font-size="5.2" text-anchor="start" fill="#111111" stroke="#111111" stroke-width="0.12">−2</text>
<text x="258.50" y="72.80" font-size="5.2" text-anchor="start" fill="#111111" stroke="#111111" stroke-width="0.12">Stim</text>
<rect x="258.20" y="75.50" width="10.60" height="11.10" fill="#0FCD5E" stroke="#A3A3A3" stroke-width="0.55"/>
<rect x="258.20" y="86.60" width="10.60" height="10.70" fill="#F8877B" stroke="#A3A3A3" stroke-width="0.55"/>
<text x="271.00" y="83.80" font-size="5.2" text-anchor="start" fill="#111111" stroke="#111111" stroke-width="0.12">HIV</text>
<text x="271.00" y="94.60" font-size="5.2" text-anchor="start" fill="#111111" stroke="#111111" stroke-width="0.12">Media</text>
<text x="257.60" y="110.00" font-size="5.2" text-anchor="start" fill="#111111" stroke="#111111" stroke-width="0.12">CD16</text>
<rect x="258.20" y="113.10" width="10.60" height="11.10" fill="#EF8CF7" stroke="#A3A3A3" stroke-width="0.55"/>
<rect x="258.20" y="124.20" width="10.60" height="10.90" fill="#B2C300" stroke="#A3A3A3" stroke-width="0.55"/>
<text x="271.00" y="121.80" font-size="5.2" text-anchor="start" fill="#111111" stroke="#111111" stroke-width="0.12">CD16n</text>
<text x="271.00" y="132.60" font-size="5.2" text-anchor="start" fill="#111111" stroke="#111111" stroke-width="0.12">CD16p</text>
<text x="5.30" y="17.70" font-size="11.6" text-anchor="start" fill="#111111" stroke="#111111" stroke-width="0.12">A</text>
<text x="30.60" y="17.10" font-size="8.8" text-anchor="start" fill="#111111" stroke="#111111" stroke-width="0.12" textLength="105" lengthAdjust="spacingAndGlyphs">HIV: top modulated genes</text>
<rect x="46.70" y="517.20" width="38.05" height="5.83" fill="#FFFFBF" stroke="#A3A3A3" stroke-width="0.55"/>
<rect x="84.75" y="517.20" width="38.05" height="5.83" fill="#FFFFBF" stroke="#A3A3A3" stroke-width="0.55"/>
<rect x="122.80" y="517.20" width="38.05" height="5.83" fill="#F0F9DC" stroke="#A3A3A3" stroke-width="0.55"/>
<rect x="160.85" y="517.20" width="38.05" height="5.83" fill="#FDB674" stroke="#A3A3A3" stroke-width="0.55"/>
<rect x="198.90" y="517.20" width="38.05" height="5.83" fill="#EA5E40" stroke="#A3A3A3" stroke-width="0.55"/>
<rect x="236.95" y="517.20" width="38.05" height="5.83" fill="#FEF0A8" stroke="#A3A3A3" stroke-width="0.55"/>
<rect x="275.00" y="517.20" width="38.05" height="5.83" fill="#B8D9EA" stroke="#A3A3A3" stroke-width="0.55"/>
<rect x="313.05" y="517.20" width="38.05" height="5.83" fill="#F0F9DC" stroke="#A3A3A3" stroke-width="0.55"/>
<rect x="351.10" y="517.20" width="38.05" height="5.83" fill="#FEF0A8" stroke="#A3A3A3" stroke-width="0.55"/>
<rect x="389.15" y="517.20" width="38.05" height="5.83" fill="#E0F3F8" stroke="#A3A3A3" stroke-width="0.55"/>
<rect x="46.70" y="523.03" width="38.05" height="5.83" fill="#FC8D59" stroke="#A3A3A3" stroke-width="0.55"/>
<rect x="84.75" y="523.03" width="38.05" height="5.83" fill="#FEF0A8" stroke="#A3A3A3" stroke-width="0.55"/>
<rect x="122.80" y="523.03" width="38.05" height="5.83" fill="#E0F3F8" stroke="#A3A3A3" stroke-width="0.55"/>
<rect x="160.85" y="523.03" width="38.05" height="5.83" fill="#FEF0A8" stroke="#A3A3A3" stroke-width="0.55"/>
<rect x="198.90" y="523.03" width="38.05" height="5.83" fill="#FDB674" stroke="#A3A3A3" stroke-width="0.55"/>
<rect x="236.95" y="523.03" width="38.05" height="5.83" fill="#FEE090" stroke="#A3A3A3" stroke-width="0.55"/>
<rect x="275.00" y="523.03" width="38.05" height="5.83" fill="#B8D9EA" stroke="#A3A3A3" stroke-width="0.55"/>
<rect x="313.05" y="523.03" width="38.05" height="5.83" fill="#E0F3F8" stroke="#A3A3A3" stroke-width="0.55"/>
<rect x="351.10" y="523.03" width="38.05" height="5.83" fill="#F0F9DC" stroke="#A3A3A3" stroke-width="0.55"/>
<rect x="389.15" y="523.03" width="38.05" height="5.83" fill="#F0F9DC" stroke="#A3A3A3" stroke-width="0.55"/>
<rect x="46.70" y="528.86" width="38.05" height="5.83" fill="#FC8D59" stroke="#A3A3A3" stroke-width="0.55"/>
<rect x="84.75" y="528.86" width="38.05" height="5.83" fill="#FEE090" stroke="#A3A3A3" stroke-width="0.55"/>
<rect x="122.80" y="528.86" width="38.05" height="5.83" fill="#FEF0A8" stroke="#A3A3A3" stroke-width="0.55"/>
<rect x="160.85" y="528.86" width="38.05" height="5.83" fill="#FFFFBF" stroke="#A3A3A3" stroke-width="0.55"/>
<rect x="198.90" y="528.86" width="38.05" height="5.83" fill="#FEE090" stroke="#A3A3A3" stroke-width="0.55"/>
<rect x="236.95" y="528.86" width="38.05" height="5.83" fill="#E0F3F8" stroke="#A3A3A3" stroke-width="0.55"/>
<rect x="275.00" y="528.86" width="38.05" height="5.83" fill="#FEE090" stroke="#A3A3A3" stroke-width="0.55"/>
<rect x="313.05" y="528.86" width="38.05" height="5.83" fill="#B8D9EA" stroke="#A3A3A3" stroke-width="0.55"/>
<rect x="351.10" y="528.86" width="38.05" height="5.83" fill="#E0F3F8" stroke="#A3A3A3" stroke-width="0.55"/>
<rect x="389.15" y="528.86" width="38.05" height="5.83" fill="#B8D9EA" stroke="#A3A3A3" stroke-width="0.55"/>
<rect x="46.70" y="534.69" width="38.05" height="5.83" fill="#FDB674" stroke="#A3A3A3" stroke-width="0.55"/>
<rect x="84.75" y="534.69" width="38.05" height="5.83" fill="#FFFFBF" stroke="#A3A3A3" stroke-width="0.55"/>
<rect x="122.80" y="534.69" width="38.05" height="5.83" fill="#FEE090" stroke="#A3A3A3" stroke-width="0.55"/>
<rect x="160.85" y="534.69" width="38.05" height="5.83" fill="#FDB674" stroke="#A3A3A3" stroke-width="0.55"/>
<rect x="198.90" y="534.69" width="38.05" height="5.83" fill="#FEE090" stroke="#A3A3A3" stroke-width="0.55"/>
<rect x="236.95" y="534.69" width="38.05" height="5.83" fill="#FFFFBF" stroke="#A3A3A3" stroke-width="0.55"/>
<rect x="275.00" y="534.69" width="38.05" height="5.83" fill="#F0F9DC" stroke="#A3A3A3" stroke-width="0.55"/>
<rect x="313.05" y="534.69" width="38.05" height="5.83" fill="#FFFFBF" stroke="#A3A3A3" stroke-width="0.55"/>
<rect x="351.10" y="534.69" width="38.05" height="5.83" fill="#F0F9DC" stroke="#A3A3A3" stroke-width="0.55"/>
<rect x="389.15" y="534.69" width="38.05" height="5.83" fill="#6B9AC8" stroke="#A3A3A3" stroke-width="0.55"/>
<rect x="46.70" y="540.52" width="38.05" height="5.83" fill="#D73027" stroke="#A3A3A3" stroke-width="0.55"/>
<rect x="84.75" y="540.52" width="38.05" height="5.83" fill="#FEF0A8" stroke="#A3A3A3" stroke-width="0.55"/>
<rect x="122.80" y="540.52" width="38.05" height="5.83" fill="#FFFFBF" stroke="#A3A3A3" stroke-width="0.55"/>
<rect x="160.85" y="540.52" width="38.05" height="5.83" fill="#FEE090" stroke="#A3A3A3" stroke-width="0.55"/>
<rect x="198.90" y="540.52" width="38.05" height="5.83" fill="#FEF0A8" stroke="#A3A3A3" stroke-width="0.55"/>
<rect x="236.95" y="540.52" width="38.05" height="5.83" fill="#F0F9DC" stroke="#A3A3A3" stroke-width="0.55"/>
<rect x="275.00" y="540.52" width="38.05" height="5.83" fill="#E0F3F8" stroke="#A3A3A3" stroke-width="0.55"/>
<rect x="313.05" y="540.52" width="38.05" height="5.83" fill="#FFFFBF" stroke="#A3A3A3" stroke-width="0.55"/>
<rect x="351.10" y="540.52" width="38.05" height="5.83" fill="#E0F3F8" stroke="#A3A3A3" stroke-width="0.55"/>
<rect x="389.15" y="540.52" width="38.05" height="5.83" fill="#E0F3F8" stroke="#A3A3A3" stroke-width="0.55"/>
<rect x="46.70" y="546.35" width="38.05" height="5.83" fill="#F0F9DC" stroke="#A3A3A3" stroke-width="0.55"/>
<rect x="84.75" y="546.35" width="38.05" height="5.83" fill="#EA5E40" stroke="#A3A3A3" stroke-width="0.55"/>
<rect x="122.80" y="546.35" width="38.05" height="5.83" fill="#FDB674" stroke="#A3A3A3" stroke-width="0.55"/>
<rect x="160.85" y="546.35" width="38.05" height="5.83" fill="#FEE090" stroke="#A3A3A3" stroke-width="0.55"/>
<rect x="198.90" y="546.35" width="38.05" height="5.83" fill="#FEF0A8" stroke="#A3A3A3" stroke-width="0.55"/>
<rect x="236.95" y="546.35" width="38.05" height="5.83" fill="#B8D9EA" stroke="#A3A3A3" stroke-width="0.55"/>
<rect x="275.00" y="546.35" width="38.05" height="5.83" fill="#F0F9DC" stroke="#A3A3A3" stroke-width="0.55"/>
<rect x="313.05" y="546.35" width="38.05" height="5.83" fill="#FFFFBF" stroke="#A3A3A3" stroke-width="0.55"/>
<rect x="351.10" y="546.35" width="38.05" height="5.83" fill="#FFFFBF" stroke="#A3A3A3" stroke-width="0.55"/>
<rect x="389.15" y="546.35" width="38.05" height="5.83" fill="#F0F9DC" stroke="#A3A3A3" stroke-width="0.55"/>
<rect x="46.70" y="552.18" width="38.05" height="5.83" fill="#FFFFBF" stroke="#A3A3A3" stroke-width="0.55"/>
<rect x="84.75" y="552.18" width="38.05" height="5.83" fill="#FDB674" stroke="#A3A3A3" stroke-width="0.55"/>
<rect x="122.80" y="552.18" width="38.05" height="5.83" fill="#FDB674" stroke="#A3A3A3" stroke-width="0.55"/>
<rect x="160.85" y="552.18" width="38.05" height="5.83" fill="#FEE090" stroke="#A3A3A3" stroke-width="0.55"/>
<rect x="198.90" y="552.18" width="38.05" height="5.83" fill="#FEE090" stroke="#A3A3A3" stroke-width="0.55"/>
<rect x="236.95" y="552.18" width="38.05" height="5.83" fill="#E0F3F8" stroke="#A3A3A3" stroke-width="0.55"/>
<rect x="275.00" y="552.18" width="38.05" height="5.83" fill="#FFFFBF" stroke="#A3A3A3" stroke-width="0.55"/>
<rect x="313.05" y="552.18" width="38.05" height="5.83" fill="#E0F3F8" stroke="#A3A3A3" stroke-width="0.55"/>
<rect x="351.10" y="552.18" width="38.05" height="5.83" fill="#F0F9DC" stroke="#A3A3A3" stroke-width="0.55"/>
<rect x="389.15" y="552.18" width="38.05" height="5.83" fill="#B8D9EA" stroke="#A3A3A3" stroke-width="0.55"/>
<rect x="46.70" y="558.01" width="38.05" height="5.83" fill="#B8D9EA" stroke="#A3A3A3" stroke-width="0.55"/>
<rect x="84.75" y="558.01" width="38.05" height="5.83" fill="#FDB674" stroke="#A3A3A3" stroke-width="0.55"/>
<rect x="122.80" y="558.01" width="38.05" height="5.83" fill="#FEE090" stroke="#A3A3A3" stroke-width="0.55"/>
<rect x="160.85" y="558.01" width="38.05" height="5.83" fill="#FEF0A8" stroke="#A3A3A3" stroke-width="0.55"/>
<rect x="198.90" y="558.01" width="38.05" height="5.83" fill="#FEF0A8" stroke="#A3A3A3" stroke-width="0.55"/>
<rect x="236.95" y="558.01" width="38.05" height="5.83" fill="#FEE090" stroke="#A3A3A3" stroke-width="0.55"/>
<rect x="275.00" y="558.01" width="38.05" height="5.83" fill="#FFFFBF" stroke="#A3A3A3" stroke-width="0.55"/>
<rect x="313.05" y="558.01" width="38.05" height="5.83" fill="#FEE090" stroke="#A3A3A3" stroke-width="0.55"/>
<rect x="351.10" y="558.01" width="38.05" height="5.83" fill="#91BFDB" stroke="#A3A3A3" stroke-width="0.55"/>
<rect x="389.15" y="558.01" width="38.05" height="5.83" fill="#FFFFBF" stroke="#A3A3A3" stroke-width="0.55"/>
<rect x="46.70" y="563.84" width="38.05" height="5.83" fill="#E0F3F8" stroke="#A3A3A3" stroke-width="0.55"/>
<rect x="84.75" y="563.84" width="38.05" height="5.83" fill="#FC8D59" stroke="#A3A3A3" stroke-width="0.55"/>
<rect x="122.80" y="563.84" width="38.05" height="5.83" fill="#FFFFBF" stroke="#A3A3A3" stroke-width="0.55"/>
<rect x="160.85" y="563.84" width="38.05" height="5.83" fill="#FC8D59" stroke="#A3A3A3" stroke-width="0.55"/>
<rect x="198.90" y="563.84" width="38.05" height="5.83" fill="#F0F9DC" stroke="#A3A3A3" stroke-width="0.55"/>
<rect x="236.95" y="563.84" width="38.05" height="5.83" fill="#F0F9DC" stroke="#A3A3A3" stroke-width="0.55"/>
<rect x="275.00" y="563.84" width="38.05" height="5.83" fill="#F0F9DC" stroke="#A3A3A3" stroke-width="0.55"/>
<rect x="313.05" y="563.84" width="38.05" height="5.83" fill="#FEF0A8" stroke="#A3A3A3" stroke-width="0.55"/>
<rect x="351.10" y="563.84" width="38.05" height="5.83" fill="#B8D9EA" stroke="#A3A3A3" stroke-width="0.55"/>
<rect x="389.15" y="563.84" width="38.05" height="5.83" fill="#FEF0A8" stroke="#A3A3A3" stroke-width="0.55"/>
<rect x="46.70" y="569.67" width="38.05" height="5.83" fill="#E0F3F8" stroke="#A3A3A3" stroke-width="0.55"/>
<rect x="84.75" y="569.67" width="38.05" height="5.83" fill="#FDB674" stroke="#A3A3A3" stroke-width="0.55"/>
<rect x="122.80" y="569.67" width="38.05" height="5.83" fill="#FEF0A8" stroke="#A3A3A3" stroke-width="0.55"/>
<rect x="160.85" y="569.67" width="38.05" height="5.83" fill="#E0F3F8" stroke="#A3A3A3" stroke-width="0.55"/>
<rect x="198.90" y="569.67" width="38.05" height="5.83" fill="#FDB674" stroke="#A3A3A3" stroke-width="0.55"/>
<rect x="236.95" y="569.67" width="38.05" height="5.83" fill="#F0F9DC" stroke="#A3A3A3" stroke-width="0.55"/>
<rect x="275.00" y="569.67" width="38.05" height="5.83" fill="#F0F9DC" stroke="#A3A3A3" stroke-width="0.55"/>
<rect x="313.05" y="569.67" width="38.05" height="5.83" fill="#FC8D59" stroke="#A3A3A3" stroke-width="0.55"/>
<rect x="351.10" y="569.67" width="38.05" height="5.83" fill="#F0F9DC" stroke="#A3A3A3" stroke-width="0.55"/>
<rect x="389.15" y="569.67" width="38.05" height="5.83" fill="#E0F3F8" stroke="#A3A3A3" stroke-width="0.55"/>
<rect x="46.70" y="575.50" width="38.05" height="5.83" fill="#F0F9DC" stroke="#A3A3A3" stroke-width="0.55"/>
<rect x="84.75" y="575.50" width="38.05" height="5.83" fill="#FEF0A8" stroke="#A3A3A3" stroke-width="0.55"/>
<rect x="122.80" y="575.50" width="38.05" height="5.83" fill="#F0F9DC" stroke="#A3A3A3" stroke-width="0.55"/>
<rect x="160.85" y="575.50" width="38.05" height="5.83" fill="#FEF0A8" stroke="#A3A3A3" stroke-width="0.55"/>
<rect x="198.90" y="575.50" width="38.05" height="5.83" fill="#FEE090" stroke="#A3A3A3" stroke-width="0.55"/>
<rect x="236.95" y="575.50" width="38.05" height="5.83" fill="#B8D9EA" stroke="#A3A3A3" stroke-width="0.55"/>
<rect x="275.00" y="575.50" width="38.05" height="5.83" fill="#F0F9DC" stroke="#A3A3A3" stroke-width="0.55"/>
<rect x="313.05" y="575.50" width="38.05" height="5.83" fill="#D73027" stroke="#A3A3A3" stroke-width="0.55"/>
<rect x="351.10" y="575.50" width="38.05" height="5.83" fill="#FFFFBF" stroke="#A3A3A3" stroke-width="0.55"/>
<rect x="389.15" y="575.50" width="38.05" height="5.83" fill="#E0F3F8" stroke="#A3A3A3" stroke-width="0.55"/>
<rect x="46.70" y="581.33" width="38.05" height="5.83" fill="#FEF0A8" stroke="#A3A3A3" stroke-width="0.55"/>
<rect x="84.75" y="581.33" width="38.05" height="5.83" fill="#FDB674" stroke="#A3A3A3" stroke-width="0.55"/>
<rect x="122.80" y="581.33" width="38.05" height="5.83" fill="#FEE090" stroke="#A3A3A3" stroke-width="0.55"/>
<rect x="160.85" y="581.33" width="38.05" height="5.83" fill="#F0F9DC" stroke="#A3A3A3" stroke-width="0.55"/>
<rect x="198.90" y="581.33" width="38.05" height="5.83" fill="#FEF0A8" stroke="#A3A3A3" stroke-width="0.55"/>
<rect x="236.95" y="581.33" width="38.05" height="5.83" fill="#91BFDB" stroke="#A3A3A3" stroke-width="0.55"/>
<rect x="275.00" y="581.33" width="38.05" height="5.83" fill="#B8D9EA" stroke="#A3A3A3" stroke-width="0.55"/>
<rect x="313.05" y="581.33" width="38.05" height="5.83" fill="#FEE090" stroke="#A3A3A3" stroke-width="0.55"/>
<rect x="351.10" y="581.33" width="38.05" height="5.83" fill="#FEE090" stroke="#A3A3A3" stroke-width="0.55"/>
<rect x="389.15" y="581.33" width="38.05" height="5.83" fill="#F0F9DC" stroke="#A3A3A3" stroke-width="0.55"/>
<rect x="46.70" y="587.16" width="38.05" height="5.83" fill="#FEF0A8" stroke="#A3A3A3" stroke-width="0.55"/>
<rect x="84.75" y="587.16" width="38.05" height="5.83" fill="#FDB674" stroke="#A3A3A3" stroke-width="0.55"/>
<rect x="122.80" y="587.16" width="38.05" height="5.83" fill="#FEF0A8" stroke="#A3A3A3" stroke-width="0.55"/>
<rect x="160.85" y="587.16" width="38.05" height="5.83" fill="#E0F3F8" stroke="#A3A3A3" stroke-width="0.55"/>
<rect x="198.90" y="587.16" width="38.05" height="5.83" fill="#FDB674" stroke="#A3A3A3" stroke-width="0.55"/>
<rect x="236.95" y="587.16" width="38.05" height="5.83" fill="#6B9AC8" stroke="#A3A3A3" stroke-width="0.55"/>
<rect x="275.00" y="587.16" width="38.05" height="5.83" fill="#F0F9DC" stroke="#A3A3A3" stroke-width="0.55"/>
<rect x="313.05" y="587.16" width="38.05" height="5.83" fill="#FEF0A8" stroke="#A3A3A3" stroke-width="0.55"/>
<rect x="351.10" y="587.16" width="38.05" height="5.83" fill="#FEE090" stroke="#A3A3A3" stroke-width="0.55"/>
<rect x="389.15" y="587.16" width="38.05" height="5.83" fill="#F0F9DC" stroke="#A3A3A3" stroke-width="0.55"/>
<rect x="46.70" y="592.99" width="38.05" height="5.83" fill="#F0F9DC" stroke="#A3A3A3" stroke-width="0.55"/>
<rect x="84.75" y="592.99" width="38.05" height="5.83" fill="#FEE090" stroke="#A3A3A3" stroke-width="0.55"/>
<rect x="122.80" y="592.99" width="38.05" height="5.83" fill="#FEF0A8" stroke="#A3A3A3" stroke-width="0.55"/>
<rect x="160.85" y="592.99" width="38.05" height="5.83" fill="#FEF0A8" stroke="#A3A3A3" stroke-width="0.55"/>
<rect x="198.90" y="592.99" width="38.05" height="5.83" fill="#FC8D59" stroke="#A3A3A3" stroke-width="0.55"/>
<rect x="236.95" y="592.99" width="38.05" height="5.83" fill="#6B9AC8" stroke="#A3A3A3" stroke-width="0.55"/>
<rect x="275.00" y="592.99" width="38.05" height="5.83" fill="#FFFFBF" stroke="#A3A3A3" stroke-width="0.55"/>
<rect x="313.05" y="592.99" width="38.05" height="5.83" fill="#FEE090" stroke="#A3A3A3" stroke-width="0.55"/>
<rect x="351.10" y="592.99" width="38.05" height="5.83" fill="#F0F9DC" stroke="#A3A3A3" stroke-width="0.55"/>
<rect x="389.15" y="592.99" width="38.05" height="5.83" fill="#FFFFBF" stroke="#A3A3A3" stroke-width="0.55"/>
<rect x="46.70" y="598.82" width="38.05" height="5.83" fill="#FEE090" stroke="#A3A3A3" stroke-width="0.55"/>
<rect x="84.75" y="598.82" width="38.05" height="5.83" fill="#FEF0A8" stroke="#A3A3A3" stroke-width="0.55"/>
<rect x="122.80" y="598.82" width="38.05" height="5.83" fill="#F0F9DC" stroke="#A3A3A3" stroke-width="0.55"/>
<rect x="160.85" y="598.82" width="38.05" height="5.83" fill="#FDB674" stroke="#A3A3A3" stroke-width="0.55"/>
<rect x="198.90" y="598.82" width="38.05" height="5.83" fill="#FEF0A8" stroke="#A3A3A3" stroke-width="0.55"/>
<rect x="236.95" y="598.82" width="38.05" height="5.83" fill="#6B9AC8" stroke="#A3A3A3" stroke-width="0.55"/>
<rect x="275.00" y="598.82" width="38.05" height="5.83" fill="#F0F9DC" stroke="#A3A3A3" stroke-width="0.55"/>
<rect x="313.05" y="598.82" width="38.05" height="5.83" fill="#FEE090" stroke="#A3A3A3" stroke-width="0.55"/>
<rect x="351.10" y="598.82" width="38.05" height="5.83" fill="#FFFFBF" stroke="#A3A3A3" stroke-width="0.55"/>
<rect x="389.15" y="598.82" width="38.05" height="5.83" fill="#F0F9DC" stroke="#A3A3A3" stroke-width="0.55"/>
<rect x="46.70" y="604.65" width="38.05" height="5.83" fill="#E0F3F8" stroke="#A3A3A3" stroke-width="0.55"/>
<rect x="84.75" y="604.65" width="38.05" height="5.83" fill="#FEF0A8" stroke="#A3A3A3" stroke-width="0.55"/>
<rect x="122.80" y="604.65" width="38.05" height="5.83" fill="#B8D9EA" stroke="#A3A3A3" stroke-width="0.55"/>
<rect x="160.85" y="604.65" width="38.05" height="5.83" fill="#91BFDB" stroke="#A3A3A3" stroke-width="0.55"/>
<rect x="198.90" y="604.65" width="38.05" height="5.83" fill="#FEF0A8" stroke="#A3A3A3" stroke-width="0.55"/>
<rect x="236.95" y="604.65" width="38.05" height="5.83" fill="#FEE090" stroke="#A3A3A3" stroke-width="0.55"/>
<rect x="275.00" y="604.65" width="38.05" height="5.83" fill="#FEE090" stroke="#A3A3A3" stroke-width="0.55"/>
<rect x="313.05" y="604.65" width="38.05" height="5.83" fill="#F0F9DC" stroke="#A3A3A3" stroke-width="0.55"/>
<rect x="351.10" y="604.65" width="38.05" height="5.83" fill="#FEE090" stroke="#A3A3A3" stroke-width="0.55"/>
<rect x="389.15" y="604.65" width="38.05" height="5.83" fill="#FC8D59" stroke="#A3A3A3" stroke-width="0.55"/>
<rect x="46.70" y="610.48" width="38.05" height="5.83" fill="#E0F3F8" stroke="#A3A3A3" stroke-width="0.55"/>
<rect x="84.75" y="610.48" width="38.05" height="5.83" fill="#F0F9DC" stroke="#A3A3A3" stroke-width="0.55"/>
<rect x="122.80" y="610.48" width="38.05" height="5.83" fill="#B8D9EA" stroke="#A3A3A3" stroke-width="0.55"/>
<rect x="160.85" y="610.48" width="38.05" height="5.83" fill="#B8D9EA" stroke="#A3A3A3" stroke-width="0.55"/>
<rect x="198.90" y="610.48" width="38.05" height="5.83" fill="#FC8D59" stroke="#A3A3A3" stroke-width="0.55"/>
<rect x="236.95" y="610.48" width="38.05" height="5.83" fill="#FEE090" stroke="#A3A3A3" stroke-width="0.55"/>
<rect x="275.00" y="610.48" width="38.05" height="5.83" fill="#FFFFBF" stroke="#A3A3A3" stroke-width="0.55"/>
<rect x="313.05" y="610.48" width="38.05" height="5.83" fill="#FEE090" stroke="#A3A3A3" stroke-width="0.55"/>
<rect x="351.10" y="610.48" width="38.05" height="5.83" fill="#FFFFBF" stroke="#A3A3A3" stroke-width="0.55"/>
<rect x="389.15" y="610.48" width="38.05" height="5.83" fill="#FEE090" stroke="#A3A3A3" stroke-width="0.55"/>
<rect x="46.70" y="616.31" width="38.05" height="5.83" fill="#91BFDB" stroke="#A3A3A3" stroke-width="0.55"/>
<rect x="84.75" y="616.31" width="38.05" height="5.83" fill="#F0F9DC" stroke="#A3A3A3" stroke-width="0.55"/>
<rect x="122.80" y="616.31" width="38.05" height="5.83" fill="#E0F3F8" stroke="#A3A3A3" stroke-width="0.55"/>
<rect x="160.85" y="616.31" width="38.05" height="5.83" fill="#FEF0A8" stroke="#A3A3A3" stroke-width="0.55"/>
<rect x="198.90" y="616.31" width="38.05" height="5.83" fill="#F0F9DC" stroke="#A3A3A3" stroke-width="0.55"/>
<rect x="236.95" y="616.31" width="38.05" height="5.83" fill="#FEE090" stroke="#A3A3A3" stroke-width="0.55"/>
<rect x="275.00" y="616.31" width="38.05" height="5.83" fill="#FEE090" stroke="#A3A3A3" stroke-width="0.55"/>
<rect x="313.05" y="616.31" width="38.05" height="5.83" fill="#FDB674" stroke="#A3A3A3" stroke-width="0.55"/>
<rect x="351.10" y="616.31" width="38.05" height="5.83" fill="#FFFFBF" stroke="#A3A3A3" stroke-width="0.55"/>
<rect x="389.15" y="616.31" width="38.05" height="5.83" fill="#FC8D59" stroke="#A3A3A3" stroke-width="0.55"/>
<rect x="46.70" y="622.14" width="38.05" height="5.83" fill="#F0F9DC" stroke="#A3A3A3" stroke-width="0.55"/>
<rect x="84.75" y="622.14" width="38.05" height="5.83" fill="#91BFDB" stroke="#A3A3A3" stroke-width="0.55"/>
<rect x="122.80" y="622.14" width="38.05" height="5.83" fill="#E0F3F8" stroke="#A3A3A3" stroke-width="0.55"/>
<rect x="160.85" y="622.14" width="38.05" height="5.83" fill="#FFFFBF" stroke="#A3A3A3" stroke-width="0.55"/>
<rect x="198.90" y="622.14" width="38.05" height="5.83" fill="#FFFFBF" stroke="#A3A3A3" stroke-width="0.55"/>
<rect x="236.95" y="622.14" width="38.05" height="5.83" fill="#FFFFBF" stroke="#A3A3A3" stroke-width="0.55"/>
<rect x="275.00" y="622.14" width="38.05" height="5.83" fill="#FFFFBF" stroke="#A3A3A3" stroke-width="0.55"/>
<rect x="313.05" y="622.14" width="38.05" height="5.83" fill="#FEE090" stroke="#A3A3A3" stroke-width="0.55"/>
<rect x="351.10" y="622.14" width="38.05" height="5.83" fill="#FDB674" stroke="#A3A3A3" stroke-width="0.55"/>
<rect x="389.15" y="622.14" width="38.05" height="5.83" fill="#EA5E40" stroke="#A3A3A3" stroke-width="0.55"/>
<rect x="46.70" y="627.97" width="38.05" height="5.83" fill="#F0F9DC" stroke="#A3A3A3" stroke-width="0.55"/>
<rect x="84.75" y="627.97" width="38.05" height="5.83" fill="#B8D9EA" stroke="#A3A3A3" stroke-width="0.55"/>
<rect x="122.80" y="627.97" width="38.05" height="5.83" fill="#B8D9EA" stroke="#A3A3A3" stroke-width="0.55"/>
<rect x="160.85" y="627.97" width="38.05" height="5.83" fill="#E0F3F8" stroke="#A3A3A3" stroke-width="0.55"/>
<rect x="198.90" y="627.97" width="38.05" height="5.83" fill="#F0F9DC" stroke="#A3A3A3" stroke-width="0.55"/>
<rect x="236.95" y="627.97" width="38.05" height="5.83" fill="#FEE090" stroke="#A3A3A3" stroke-width="0.55"/>
<rect x="275.00" y="627.97" width="38.05" height="5.83" fill="#FEE090" stroke="#A3A3A3" stroke-width="0.55"/>
<rect x="313.05" y="627.97" width="38.05" height="5.83" fill="#FEE090" stroke="#A3A3A3" stroke-width="0.55"/>
<rect x="351.10" y="627.97" width="38.05" height="5.83" fill="#FDB674" stroke="#A3A3A3" stroke-width="0.55"/>
<rect x="389.15" y="627.97" width="38.05" height="5.83" fill="#FEE090" stroke="#A3A3A3" stroke-width="0.55"/>
<rect x="46.70" y="633.80" width="38.05" height="5.83" fill="#FEE090" stroke="#A3A3A3" stroke-width="0.55"/>
<rect x="84.75" y="633.80" width="38.05" height="5.83" fill="#6B9AC8" stroke="#A3A3A3" stroke-width="0.55"/>
<rect x="122.80" y="633.80" width="38.05" height="5.83" fill="#B8D9EA" stroke="#A3A3A3" stroke-width="0.55"/>
<rect x="160.85" y="633.80" width="38.05" height="5.83" fill="#FEF0A8" stroke="#A3A3A3" stroke-width="0.55"/>
<rect x="198.90" y="633.80" width="38.05" height="5.83" fill="#FFFFBF" stroke="#A3A3A3" stroke-width="0.55"/>
<rect x="236.95" y="633.80" width="38.05" height="5.83" fill="#FDB674" stroke="#A3A3A3" stroke-width="0.55"/>
<rect x="275.00" y="633.80" width="38.05" height="5.83" fill="#FEF0A8" stroke="#A3A3A3" stroke-width="0.55"/>
<rect x="313.05" y="633.80" width="38.05" height="5.83" fill="#FDB674" stroke="#A3A3A3" stroke-width="0.55"/>
<rect x="351.10" y="633.80" width="38.05" height="5.83" fill="#FEE090" stroke="#A3A3A3" stroke-width="0.55"/>
<rect x="389.15" y="633.80" width="38.05" height="5.83" fill="#F0F9DC" stroke="#A3A3A3" stroke-width="0.55"/>
<rect x="46.70" y="639.63" width="38.05" height="5.83" fill="#FEE090" stroke="#A3A3A3" stroke-width="0.55"/>
<rect x="84.75" y="639.63" width="38.05" height="5.83" fill="#F0F9DC" stroke="#A3A3A3" stroke-width="0.55"/>
<rect x="122.80" y="639.63" width="38.05" height="5.83" fill="#E0F3F8" stroke="#A3A3A3" stroke-width="0.55"/>
<rect x="160.85" y="639.63" width="38.05" height="5.83" fill="#B8D9EA" stroke="#A3A3A3" stroke-width="0.55"/>
<rect x="198.90" y="639.63" width="38.05" height="5.83" fill="#FFFFBF" stroke="#A3A3A3" stroke-width="0.55"/>
<rect x="236.95" y="639.63" width="38.05" height="5.83" fill="#FEE090" stroke="#A3A3A3" stroke-width="0.55"/>
<rect x="275.00" y="639.63" width="38.05" height="5.83" fill="#E0F3F8" stroke="#A3A3A3" stroke-width="0.55"/>
<rect x="313.05" y="639.63" width="38.05" height="5.83" fill="#FDB674" stroke="#A3A3A3" stroke-width="0.55"/>
<rect x="351.10" y="639.63" width="38.05" height="5.83" fill="#FC8D59" stroke="#A3A3A3" stroke-width="0.55"/>
<rect x="389.15" y="639.63" width="38.05" height="5.83" fill="#F0F9DC" stroke="#A3A3A3" stroke-width="0.55"/>
<rect x="46.70" y="645.46" width="38.05" height="5.83" fill="#FEE090" stroke="#A3A3A3" stroke-width="0.55"/>
<rect x="84.75" y="645.46" width="38.05" height="5.83" fill="#F0F9DC" stroke="#A3A3A3" stroke-width="0.55"/>
<rect x="122.80" y="645.46" width="38.05" height="5.83" fill="#E0F3F8" stroke="#A3A3A3" stroke-width="0.55"/>
<rect x="160.85" y="645.46" width="38.05" height="5.83" fill="#F0F9DC" stroke="#A3A3A3" stroke-width="0.55"/>
<rect x="198.90" y="645.46" width="38.05" height="5.83" fill="#6B9AC8" stroke="#A3A3A3" stroke-width="0.55"/>
<rect x="236.95" y="645.46" width="38.05" height="5.83" fill="#FEE090" stroke="#A3A3A3" stroke-width="0.55"/>
<rect x="275.00" y="645.46" width="38.05" height="5.83" fill="#FEE090" stroke="#A3A3A3" stroke-width="0.55"/>
<rect x="313.05" y="645.46" width="38.05" height="5.83" fill="#FFFFBF" stroke="#A3A3A3" stroke-width="0.55"/>
<rect x="351.10" y="645.46" width="38.05" height="5.83" fill="#FC8D59" stroke="#A3A3A3" stroke-width="0.55"/>
<rect x="389.15" y="645.46" width="38.05" height="5.83" fill="#FEF0A8" stroke="#A3A3A3" stroke-width="0.55"/>
<rect x="46.70" y="651.29" width="38.05" height="5.83" fill="#FEE090" stroke="#A3A3A3" stroke-width="0.55"/>
<rect x="84.75" y="651.29" width="38.05" height="5.83" fill="#FFFFBF" stroke="#A3A3A3" stroke-width="0.55"/>
<rect x="122.80" y="651.29" width="38.05" height="5.83" fill="#E0F3F8" stroke="#A3A3A3" stroke-width="0.55"/>
<rect x="160.85" y="651.29" width="38.05" height="5.83" fill="#FEE090" stroke="#A3A3A3" stroke-width="0.55"/>
<rect x="198.90" y="651.29" width="38.05" height="5.83" fill="#91BFDB" stroke="#A3A3A3" stroke-width="0.55"/>
<rect x="236.95" y="651.29" width="38.05" height="5.83" fill="#F0F9DC" stroke="#A3A3A3" stroke-width="0.55"/>
<rect x="275.00" y="651.29" width="38.05" height="5.83" fill="#B8D9EA" stroke="#A3A3A3" stroke-width="0.55"/>
<rect x="313.05" y="651.29" width="38.05" height="5.83" fill="#FC8D59" stroke="#A3A3A3" stroke-width="0.55"/>
<rect x="351.10" y="651.29" width="38.05" height="5.83" fill="#FDB674" stroke="#A3A3A3" stroke-width="0.55"/>
<rect x="389.15" y="651.29" width="38.05" height="5.83" fill="#FEE090" stroke="#A3A3A3" stroke-width="0.55"/>
<rect x="46.70" y="657.12" width="38.05" height="5.83" fill="#6B9AC8" stroke="#A3A3A3" stroke-width="0.55"/>
<rect x="84.75" y="657.12" width="38.05" height="5.83" fill="#F0F9DC" stroke="#A3A3A3" stroke-width="0.55"/>
<rect x="122.80" y="657.12" width="38.05" height="5.83" fill="#F0F9DC" stroke="#A3A3A3" stroke-width="0.55"/>
<rect x="160.85" y="657.12" width="38.05" height="5.83" fill="#FEF0A8" stroke="#A3A3A3" stroke-width="0.55"/>
<rect x="198.90" y="657.12" width="38.05" height="5.83" fill="#F0F9DC" stroke="#A3A3A3" stroke-width="0.55"/>
<rect x="236.95" y="657.12" width="38.05" height="5.83" fill="#E0F3F8" stroke="#A3A3A3" stroke-width="0.55"/>
<rect x="275.00" y="657.12" width="38.05" height="5.83" fill="#FEE090" stroke="#A3A3A3" stroke-width="0.55"/>
<rect x="313.05" y="657.12" width="38.05" height="5.83" fill="#FDB674" stroke="#A3A3A3" stroke-width="0.55"/>
<rect x="351.10" y="657.12" width="38.05" height="5.83" fill="#FDB674" stroke="#A3A3A3" stroke-width="0.55"/>
<rect x="389.15" y="657.12" width="38.05" height="5.83" fill="#FDB674" stroke="#A3A3A3" stroke-width="0.55"/>
<rect x="46.70" y="662.95" width="38.05" height="5.83" fill="#91BFDB" stroke="#A3A3A3" stroke-width="0.55"/>
<rect x="84.75" y="662.95" width="38.05" height="5.83" fill="#E0F3F8" stroke="#A3A3A3" stroke-width="0.55"/>
<rect x="122.80" y="662.95" width="38.05" height="5.83" fill="#FEE090" stroke="#A3A3A3" stroke-width="0.55"/>
<rect x="160.85" y="662.95" width="38.05" height="5.83" fill="#FEE090" stroke="#A3A3A3" stroke-width="0.55"/>
<rect x="198.90" y="662.95" width="38.05" height="5.83" fill="#FFFFBF" stroke="#A3A3A3" stroke-width="0.55"/>
<rect x="236.95" y="662.95" width="38.05" height="5.83" fill="#B8D9EA" stroke="#A3A3A3" stroke-width="0.55"/>
<rect x="275.00" y="662.95" width="38.05" height="5.83" fill="#FEE090" stroke="#A3A3A3" stroke-width="0.55"/>
<rect x="313.05" y="662.95" width="38.05" height="5.83" fill="#FC8D59" stroke="#A3A3A3" stroke-width="0.55"/>
<rect x="351.10" y="662.95" width="38.05" height="5.83" fill="#FEF0A8" stroke="#A3A3A3" stroke-width="0.55"/>
<rect x="389.15" y="662.95" width="38.05" height="5.83" fill="#FEE090" stroke="#A3A3A3" stroke-width="0.55"/>
<rect x="46.70" y="668.78" width="38.05" height="5.83" fill="#FEE090" stroke="#A3A3A3" stroke-width="0.55"/>
<rect x="84.75" y="668.78" width="38.05" height="5.83" fill="#F0F9DC" stroke="#A3A3A3" stroke-width="0.55"/>
<rect x="122.80" y="668.78" width="38.05" height="5.83" fill="#FEE090" stroke="#A3A3A3" stroke-width="0.55"/>
<rect x="160.85" y="668.78" width="38.05" height="5.83" fill="#E0F3F8" stroke="#A3A3A3" stroke-width="0.55"/>
<rect x="198.90" y="668.78" width="38.05" height="5.83" fill="#E0F3F8" stroke="#A3A3A3" stroke-width="0.55"/>
<rect x="236.95" y="668.78" width="38.05" height="5.83" fill="#91BFDB" stroke="#A3A3A3" stroke-width="0.55"/>
<rect x="275.00" y="668.78" width="38.05" height="5.83" fill="#FDB674" stroke="#A3A3A3" stroke-width="0.55"/>
<rect x="313.05" y="668.78" width="38.05" height="5.83" fill="#FFFFBF" stroke="#A3A3A3" stroke-width="0.55"/>
<rect x="351.10" y="668.78" width="38.05" height="5.83" fill="#FEE090" stroke="#A3A3A3" stroke-width="0.55"/>
<rect x="389.15" y="668.78" width="38.05" height="5.83" fill="#FDB674" stroke="#A3A3A3" stroke-width="0.55"/>
<rect x="46.70" y="674.61" width="38.05" height="5.83" fill="#FEE090" stroke="#A3A3A3" stroke-width="0.55"/>
<rect x="84.75" y="674.61" width="38.05" height="5.83" fill="#F0F9DC" stroke="#A3A3A3" stroke-width="0.55"/>
<rect x="122.80" y="674.61" width="38.05" height="5.83" fill="#FFFFBF" stroke="#A3A3A3" stroke-width="0.55"/>
<rect x="160.85" y="674.61" width="38.05" height="5.83" fill="#FEE090" stroke="#A3A3A3" stroke-width="0.55"/>
<rect x="198.90" y="674.61" width="38.05" height="5.83" fill="#FFFFBF" stroke="#A3A3A3" stroke-width="0.55"/>
<rect x="236.95" y="674.61" width="38.05" height="5.83" fill="#6B9AC8" stroke="#A3A3A3" stroke-width="0.55"/>
<rect x="275.00" y="674.61" width="38.05" height="5.83" fill="#FEF0A8" stroke="#A3A3A3" stroke-width="0.55"/>
<rect x="313.05" y="674.61" width="38.05" height="5.83" fill="#FFFFBF" stroke="#A3A3A3" stroke-width="0.55"/>
<rect x="351.10" y="674.61" width="38.05" height="5.83" fill="#EA5E40" stroke="#A3A3A3" stroke-width="0.55"/>
<rect x="389.15" y="674.61" width="38.05" height="5.83" fill="#FFFFBF" stroke="#A3A3A3" stroke-width="0.55"/>
<rect x="46.70" y="680.44" width="38.05" height="5.83" fill="#F0F9DC" stroke="#A3A3A3" stroke-width="0.55"/>
<rect x="84.75" y="680.44" width="38.05" height="5.83" fill="#91BFDB" stroke="#A3A3A3" stroke-width="0.55"/>
<rect x="122.80" y="680.44" width="38.05" height="5.83" fill="#B8D9EA" stroke="#A3A3A3" stroke-width="0.55"/>
<rect x="160.85" y="680.44" width="38.05" height="5.83" fill="#FDB674" stroke="#A3A3A3" stroke-width="0.55"/>
<rect x="198.90" y="680.44" width="38.05" height="5.83" fill="#FEF0A8" stroke="#A3A3A3" stroke-width="0.55"/>
<rect x="236.95" y="680.44" width="38.05" height="5.83" fill="#FEF0A8" stroke="#A3A3A3" stroke-width="0.55"/>
<rect x="275.00" y="680.44" width="38.05" height="5.83" fill="#FEE090" stroke="#A3A3A3" stroke-width="0.55"/>
<rect x="313.05" y="680.44" width="38.05" height="5.83" fill="#FFFFBF" stroke="#A3A3A3" stroke-width="0.55"/>
<rect x="351.10" y="680.44" width="38.05" height="5.83" fill="#FEF0A8" stroke="#A3A3A3" stroke-width="0.55"/>
<rect x="389.15" y="680.44" width="38.05" height="5.83" fill="#FEE090" stroke="#A3A3A3" stroke-width="0.55"/>
<rect x="46.70" y="686.27" width="38.05" height="5.83" fill="#FDB674" stroke="#A3A3A3" stroke-width="0.55"/>
<rect x="84.75" y="686.27" width="38.05" height="5.83" fill="#B8D9EA" stroke="#A3A3A3" stroke-width="0.55"/>
<rect x="122.80" y="686.27" width="38.05" height="5.83" fill="#B8D9EA" stroke="#A3A3A3" stroke-width="0.55"/>
<rect x="160.85" y="686.27" width="38.05" height="5.83" fill="#FDB674" stroke="#A3A3A3" stroke-width="0.55"/>
<rect x="198.90" y="686.27" width="38.05" height="5.83" fill="#F0F9DC" stroke="#A3A3A3" stroke-width="0.55"/>
<rect x="236.95" y="686.27" width="38.05" height="5.83" fill="#F0F9DC" stroke="#A3A3A3" stroke-width="0.55"/>
<rect x="275.00" y="686.27" width="38.05" height="5.83" fill="#FEE090" stroke="#A3A3A3" stroke-width="0.55"/>
<rect x="313.05" y="686.27" width="38.05" height="5.83" fill="#FFFFBF" stroke="#A3A3A3" stroke-width="0.55"/>
<rect x="351.10" y="686.27" width="38.05" height="5.83" fill="#FEF0A8" stroke="#A3A3A3" stroke-width="0.55"/>
<rect x="389.15" y="686.27" width="38.05" height="5.83" fill="#FEE090" stroke="#A3A3A3" stroke-width="0.55"/>
<rect x="46.70" y="692.10" width="38.05" height="5.83" fill="#FFFFBF" stroke="#A3A3A3" stroke-width="0.55"/>
<rect x="84.75" y="692.10" width="38.05" height="5.83" fill="#E0F3F8" stroke="#A3A3A3" stroke-width="0.55"/>
<rect x="122.80" y="692.10" width="38.05" height="5.83" fill="#F0F9DC" stroke="#A3A3A3" stroke-width="0.55"/>
<rect x="160.85" y="692.10" width="38.05" height="5.83" fill="#F0F9DC" stroke="#A3A3A3" stroke-width="0.55"/>
<rect x="198.90" y="692.10" width="38.05" height="5.83" fill="#F0F9DC" stroke="#A3A3A3" stroke-width="0.55"/>
<rect x="236.95" y="692.10" width="38.05" height="5.83" fill="#FEE090" stroke="#A3A3A3" stroke-width="0.55"/>
<rect x="275.00" y="692.10" width="38.05" height="5.83" fill="#D73027" stroke="#A3A3A3" stroke-width="0.55"/>
<rect x="313.05" y="692.10" width="38.05" height="5.83" fill="#FFFFBF" stroke="#A3A3A3" stroke-width="0.55"/>
<rect x="351.10" y="692.10" width="38.05" height="5.83" fill="#F0F9DC" stroke="#A3A3A3" stroke-width="0.55"/>
<rect x="389.15" y="692.10" width="38.05" height="5.83" fill="#F0F9DC" stroke="#A3A3A3" stroke-width="0.55"/>
<rect x="46.70" y="697.93" width="38.05" height="5.83" fill="#FEF0A8" stroke="#A3A3A3" stroke-width="0.55"/>
<rect x="84.75" y="697.93" width="38.05" height="5.83" fill="#FEF0A8" stroke="#A3A3A3" stroke-width="0.55"/>
<rect x="122.80" y="697.93" width="38.05" height="5.83" fill="#6B9AC8" stroke="#A3A3A3" stroke-width="0.55"/>
<rect x="160.85" y="697.93" width="38.05" height="5.83" fill="#E0F3F8" stroke="#A3A3A3" stroke-width="0.55"/>
<rect x="198.90" y="697.93" width="38.05" height="5.83" fill="#FC8D59" stroke="#A3A3A3" stroke-width="0.55"/>
<rect x="236.95" y="697.93" width="38.05" height="5.83" fill="#FFFFBF" stroke="#A3A3A3" stroke-width="0.55"/>
<rect x="275.00" y="697.93" width="38.05" height="5.83" fill="#FDB674" stroke="#A3A3A3" stroke-width="0.55"/>
<rect x="313.05" y="697.93" width="38.05" height="5.83" fill="#F0F9DC" stroke="#A3A3A3" stroke-width="0.55"/>
<rect x="351.10" y="697.93" width="38.05" height="5.83" fill="#FFFFBF" stroke="#A3A3A3" stroke-width="0.55"/>
<rect x="389.15" y="697.93" width="38.05" height="5.83" fill="#FFFFBF" stroke="#A3A3A3" stroke-width="0.55"/>
<rect x="46.70" y="502.40" width="380.50" height="6.60" fill="#E4E2E8"/>
<rect x="46.70" y="509.00" width="380.50" height="6.70" fill="#E4E2E8"/>
<rect x="46.70" y="503.20" width="38.05" height="5.00" fill="#F8877B" stroke="#A3A3A3" stroke-width="0.55"/>
<rect x="84.75" y="503.20" width="38.05" height="5.00" fill="#F8877B" stroke="#A3A3A3" stroke-width="0.55"/>
<rect x="122.80" y="503.20" width="38.05" height="5.00" fill="#F8877B" stroke="#A3A3A3" stroke-width="0.55"/>
<rect x="160.85" y="503.20" width="38.05" height="5.00" fill="#F8877B" stroke="#A3A3A3" stroke-width="0.55"/>
<rect x="198.90" y="503.20" width="38.05" height="5.00" fill="#F8877B" stroke="#A3A3A3" stroke-width="0.55"/>
<rect x="236.95" y="503.20" width="38.05" height="5.00" fill="#F8877B" stroke="#A3A3A3" stroke-width="0.55"/>
<rect x="275.00" y="503.20" width="38.05" height="5.00" fill="#F8877B" stroke="#A3A3A3" stroke-width="0.55"/>
<rect x="313.05" y="503.20" width="38.05" height="5.00" fill="#F8877B" stroke="#A3A3A3" stroke-width="0.55"/>
<rect x="351.10" y="503.20" width="38.05" height="5.00" fill="#F8877B" stroke="#A3A3A3" stroke-width="0.55"/>
<rect x="389.15" y="503.20" width="38.05" height="5.00" fill="#F8877B" stroke="#A3A3A3" stroke-width="0.55"/>
<rect x="46.70" y="509.80" width="38.05" height="5.10" fill="#0FCD5E" stroke="#A3A3A3" stroke-width="0.55"/>
<rect x="84.75" y="509.80" width="38.05" height="5.10" fill="#0FCD5E" stroke="#A3A3A3" stroke-width="0.55"/>
<rect x="122.80" y="509.80" width="38.05" height="5.10" fill="#0FCD5E" stroke="#A3A3A3" stroke-width="0.55"/>
<rect x="160.85" y="509.80" width="38.05" height="5.10" fill="#0FCD5E" stroke="#A3A3A3" stroke-width="0.55"/>
<rect x="198.90" y="509.80" width="38.05" height="5.10" fill="#0FCD5E" stroke="#A3A3A3" stroke-width="0.55"/>
<rect x="236.95" y="509.80" width="38.05" height="5.10" fill="#7EB2FF" stroke="#A3A3A3" stroke-width="0.55"/>
<rect x="275.00" y="509.80" width="38.05" height="5.10" fill="#7EB2FF" stroke="#A3A3A3" stroke-width="0.55"/>
<rect x="313.05" y="509.80" width="38.05" height="5.10" fill="#7EB2FF" stroke="#A3A3A3" stroke-width="0.55"/>
<rect x="351.10" y="509.80" width="38.05" height="5.10" fill="#7EB2FF" stroke="#A3A3A3" stroke-width="0.55"/>
<rect x="389.15" y="509.80" width="38.05" height="5.10" fill="#7EB2FF" stroke="#A3A3A3" stroke-width="0.55"/>
<text transform="translate(430.40,522.23) scale(0.84,1)" font-size="5.4" text-anchor="start" fill="#111111" stroke="#111111" stroke-width="0.12">IGLC1</text>
<text transform="translate(430.40,528.08) scale(0.84,1)" font-size="5.4" text-anchor="start" fill="#111111" stroke="#111111" stroke-width="0.12">RPS28</text>
<text transform="translate(430.40,533.93) scale(0.84,1)" font-size="5.4" text-anchor="start" fill="#111111" stroke="#111111" stroke-width="0.12">SKP1</text>
<text transform="translate(430.40,539.78) scale(0.84,1)" font-size="5.4" text-anchor="start" fill="#111111" stroke="#111111" stroke-width="0.12">LYPLAL1</text>
<text transform="translate(430.40,545.63) scale(0.84,1)" font-size="5.4" text-anchor="start" fill="#111111" stroke="#111111" stroke-width="0.12">CD101</text>
<text transform="translate(430.40,551.48) scale(0.84,1)" font-size="5.4" text-anchor="start" fill="#111111" stroke="#111111" stroke-width="0.12">PRDX4</text>
<text transform="translate(430.40,557.33) scale(0.84,1)" font-size="5.4" text-anchor="start" fill="#111111" stroke="#111111" stroke-width="0.12">IGLV1−44</text>
<text transform="translate(430.40,563.18) scale(0.84,1)" font-size="5.4" text-anchor="start" fill="#111111" stroke="#111111" stroke-width="0.12">BLVRB</text>
<text transform="translate(430.40,569.03) scale(0.84,1)" font-size="5.4" text-anchor="start" fill="#111111" stroke="#111111" stroke-width="0.12">TOMM40</text>
<text transform="translate(430.40,574.88) scale(0.84,1)" font-size="5.4" text-anchor="start" fill="#111111" stroke="#111111" stroke-width="0.12">ZNHIT6</text>
<text transform="translate(430.40,580.73) scale(0.84,1)" font-size="5.4" text-anchor="start" fill="#111111" stroke="#111111" stroke-width="0.12">ENPP6</text>
<text transform="translate(430.40,586.58) scale(0.84,1)" font-size="5.4" text-anchor="start" fill="#111111" stroke="#111111" stroke-width="0.12">FAM212A</text>
<text transform="translate(430.40,592.43) scale(0.84,1)" font-size="5.4" text-anchor="start" fill="#111111" stroke="#111111" stroke-width="0.12">C1D</text>
<text transform="translate(430.40,598.28) scale(0.84,1)" font-size="5.4" text-anchor="start" fill="#111111" stroke="#111111" stroke-width="0.12">COPS4</text>
<text transform="translate(430.40,604.13) scale(0.84,1)" font-size="5.4" text-anchor="start" fill="#111111" stroke="#111111" stroke-width="0.12">DDX19A</text>
<text transform="translate(430.40,609.98) scale(0.84,1)" font-size="5.4" text-anchor="start" fill="#111111" stroke="#111111" stroke-width="0.12">SFRP1</text>
<text transform="translate(430.40,615.83) scale(0.84,1)" font-size="5.4" text-anchor="start" fill="#111111" stroke="#111111" stroke-width="0.12">CEACAM5</text>
<text transform="translate(430.40,621.68) scale(0.84,1)" font-size="5.4" text-anchor="start" fill="#111111" stroke="#111111" stroke-width="0.12">FBLN2</text>
<text transform="translate(430.40,627.53) scale(0.84,1)" font-size="5.4" text-anchor="start" fill="#111111" stroke="#111111" stroke-width="0.12">FUT3</text>
<text transform="translate(430.40,633.38) scale(0.84,1)" font-size="5.4" text-anchor="start" fill="#111111" stroke="#111111" stroke-width="0.12">IGKC</text>
<text transform="translate(430.40,639.23) scale(0.84,1)" font-size="5.4" text-anchor="start" fill="#111111" stroke="#111111" stroke-width="0.12">CROCCP3</text>
<text transform="translate(430.40,645.08) scale(0.84,1)" font-size="5.4" text-anchor="start" fill="#111111" stroke="#111111" stroke-width="0.12">HIST1H2AJ</text>
<text transform="translate(430.40,650.93) scale(0.84,1)" font-size="5.4" text-anchor="start" fill="#111111" stroke="#111111" stroke-width="0.12">VNN1</text>
<text transform="translate(430.40,656.78) scale(0.84,1)" font-size="5.4" text-anchor="start" fill="#111111" stroke="#111111" stroke-width="0.12">MRGPRF</text>
<text transform="translate(430.40,662.63) scale(0.84,1)" font-size="5.4" text-anchor="start" fill="#111111" stroke="#111111" stroke-width="0.12">SLIT2</text>
<text transform="translate(430.40,668.48) scale(0.84,1)" font-size="5.4" text-anchor="start" fill="#111111" stroke="#111111" stroke-width="0.12">CCDC30</text>
<text transform="translate(430.40,674.33) scale(0.84,1)" font-size="5.4" text-anchor="start" fill="#111111" stroke="#111111" stroke-width="0.12">KRT8</text>
<text transform="translate(430.40,680.18) scale(0.84,1)" font-size="5.4" text-anchor="start" fill="#111111" stroke="#111111" stroke-width="0.12">YES1</text>
<text transform="translate(430.40,686.03) scale(0.84,1)" font-size="5.4" text-anchor="start" fill="#111111" stroke="#111111" stroke-width="0.12">ROBO4</text>
<text transform="translate(430.40,691.88) scale(0.84,1)" font-size="5.4" text-anchor="start" fill="#111111" stroke="#111111" stroke-width="0.12">AGMAT</text>
<text transform="translate(430.40,697.73) scale(0.84,1)" font-size="5.4" text-anchor="start" fill="#111111" stroke="#111111" stroke-width="0.12">GYPA</text>
<text transform="translate(430.40,703.58) scale(0.84,1)" font-size="5.4" text-anchor="start" fill="#111111" stroke="#111111" stroke-width="0.12">TUBBP5</text>
<text x="430.40" y="507.60" font-size="5.2" text-anchor="start" fill="#111111" stroke="#111111" stroke-width="0.12">Stim</text>
<text x="430.40" y="515.30" font-size="5.2" text-anchor="start" fill="#111111" stroke="#111111" stroke-width="0.12">CD16</text>
<line x1="103.78" y1="484.60" x2="103.78" y2="503.20" stroke="#4A4A4A" stroke-width="0.95"/>
<line x1="141.82" y1="484.60" x2="141.82" y2="503.20" stroke="#4A4A4A" stroke-width="0.95"/>
<line x1="103.78" y1="484.60" x2="141.82" y2="484.60" stroke="#4A4A4A" stroke-width="0.95"/>
<line x1="179.88" y1="476.30" x2="179.88" y2="503.20" stroke="#4A4A4A" stroke-width="0.95"/>
<line x1="217.93" y1="476.30" x2="217.93" y2="503.20" stroke="#4A4A4A" stroke-width="0.95"/>
<line x1="179.88" y1="476.30" x2="217.93" y2="476.30" stroke="#4A4A4A" stroke-width="0.95"/>
<line x1="122.80" y1="474.30" x2="122.80" y2="484.60" stroke="#4A4A4A" stroke-width="0.95"/>
<line x1="198.90" y1="474.30" x2="198.90" y2="476.30" stroke="#4A4A4A" stroke-width="0.95"/>
<line x1="122.80" y1="474.30" x2="198.90" y2="474.30" stroke="#4A4A4A" stroke-width="0.95"/>
<line x1="65.72" y1="469.70" x2="65.72" y2="503.20" stroke="#4A4A4A" stroke-width="0.95"/>
<line x1="160.85" y1="469.70" x2="160.85" y2="474.30" stroke="#4A4A4A" stroke-width="0.95"/>
<line x1="65.72" y1="469.70" x2="160.85" y2="469.70" stroke="#4A4A4A" stroke-width="0.95"/>
<line x1="370.12" y1="482.30" x2="370.12" y2="503.20" stroke="#4A4A4A" stroke-width="0.95"/>
<line x1="408.17" y1="482.30" x2="408.17" y2="503.20" stroke="#4A4A4A" stroke-width="0.95"/>
<line x1="370.12" y1="482.30" x2="408.17" y2="482.30" stroke="#4A4A4A" stroke-width="0.95"/>
<line x1="332.07" y1="480.00" x2="332.07" y2="503.20" stroke="#4A4A4A" stroke-width="0.95"/>
<line x1="389.15" y1="480.00" x2="389.15" y2="482.30" stroke="#4A4A4A" stroke-width="0.95"/>
<line x1="332.07" y1="480.00" x2="389.15" y2="480.00" stroke="#4A4A4A" stroke-width="0.95"/>
<line x1="294.02" y1="477.00" x2="294.02" y2="503.20" stroke="#4A4A4A" stroke-width="0.95"/>
<line x1="360.61" y1="477.00" x2="360.61" y2="480.00" stroke="#4A4A4A" stroke-width="0.95"/>
<line x1="294.02" y1="477.00" x2="360.61" y2="477.00" stroke="#4A4A4A" stroke-width="0.95"/>
<line x1="255.97" y1="470.40" x2="255.97" y2="503.20" stroke="#4A4A4A" stroke-width="0.95"/>
<line x1="327.32" y1="470.40" x2="327.32" y2="477.00" stroke="#4A4A4A" stroke-width="0.95"/>
<line x1="255.97" y1="470.40" x2="327.32" y2="470.40" stroke="#4A4A4A" stroke-width="0.95"/>
<line x1="113.29" y1="463.70" x2="113.29" y2="469.70" stroke="#4A4A4A" stroke-width="0.95"/>
<line x1="291.65" y1="463.70" x2="291.65" y2="470.40" stroke="#4A4A4A" stroke-width="0.95"/>
<line x1="113.29" y1="463.70" x2="291.65" y2="463.70" stroke="#4A4A4A" stroke-width="0.95"/>
<line x1="31.00" y1="520.12" x2="46.70" y2="520.12" stroke="#4A4A4A" stroke-width="0.95"/>
<line x1="31.00" y1="525.95" x2="46.70" y2="525.95" stroke="#4A4A4A" stroke-width="0.95"/>
<line x1="31.00" y1="520.12" x2="31.00" y2="525.95" stroke="#4A4A4A" stroke-width="0.95"/>
<line x1="31.25" y1="537.61" x2="46.70" y2="537.61" stroke="#4A4A4A" stroke-width="0.95"/>
<line x1="31.25" y1="543.44" x2="46.70" y2="543.44" stroke="#4A4A4A" stroke-width="0.95"/>
<line x1="31.25" y1="537.61" x2="31.25" y2="543.44" stroke="#4A4A4A" stroke-width="0.95"/>
<line x1="29.30" y1="531.78" x2="46.70" y2="531.78" stroke="#4A4A4A" stroke-width="0.95"/>
<line x1="29.30" y1="540.52" x2="31.25" y2="540.52" stroke="#4A4A4A" stroke-width="0.95"/>
<line x1="29.30" y1="531.78" x2="29.30" y2="540.52" stroke="#4A4A4A" stroke-width="0.95"/>
<line x1="22.60" y1="523.03" x2="31.00" y2="523.03" stroke="#4A4A4A" stroke-width="0.95"/>
<line x1="22.60" y1="536.15" x2="29.30" y2="536.15" stroke="#4A4A4A" stroke-width="0.95"/>
<line x1="22.60" y1="523.03" x2="22.60" y2="536.15" stroke="#4A4A4A" stroke-width="0.95"/>
<line x1="34.60" y1="549.27" x2="46.70" y2="549.27" stroke="#4A4A4A" stroke-width="0.95"/>
<line x1="34.60" y1="555.10" x2="46.70" y2="555.10" stroke="#4A4A4A" stroke-width="0.95"/>
<line x1="34.60" y1="549.27" x2="34.60" y2="555.10" stroke="#4A4A4A" stroke-width="0.95"/>
<line x1="29.30" y1="560.93" x2="46.70" y2="560.93" stroke="#4A4A4A" stroke-width="0.95"/>
<line x1="29.30" y1="566.75" x2="46.70" y2="566.75" stroke="#4A4A4A" stroke-width="0.95"/>
<line x1="29.30" y1="560.93" x2="29.30" y2="566.75" stroke="#4A4A4A" stroke-width="0.95"/>
<line x1="25.50" y1="552.18" x2="34.60" y2="552.18" stroke="#4A4A4A" stroke-width="0.95"/>
<line x1="25.50" y1="563.84" x2="29.30" y2="563.84" stroke="#4A4A4A" stroke-width="0.95"/>
<line x1="25.50" y1="552.18" x2="25.50" y2="563.84" stroke="#4A4A4A" stroke-width="0.95"/>
<line x1="32.20" y1="572.59" x2="46.70" y2="572.59" stroke="#4A4A4A" stroke-width="0.95"/>
<line x1="32.20" y1="578.42" x2="46.70" y2="578.42" stroke="#4A4A4A" stroke-width="0.95"/>
<line x1="32.20" y1="572.59" x2="32.20" y2="578.42" stroke="#4A4A4A" stroke-width="0.95"/>
<line x1="35.30" y1="584.25" x2="46.70" y2="584.25" stroke="#4A4A4A" stroke-width="0.95"/>
<line x1="35.30" y1="590.08" x2="46.70" y2="590.08" stroke="#4A4A4A" stroke-width="0.95"/>
<line x1="35.30" y1="584.25" x2="35.30" y2="590.08" stroke="#4A4A4A" stroke-width="0.95"/>
<line x1="29.40" y1="595.91" x2="46.70" y2="595.91" stroke="#4A4A4A" stroke-width="0.95"/>
<line x1="29.40" y1="601.74" x2="46.70" y2="601.74" stroke="#4A4A4A" stroke-width="0.95"/>
<line x1="29.40" y1="595.91" x2="29.40" y2="601.74" stroke="#4A4A4A" stroke-width="0.95"/>
<line x1="28.40" y1="587.16" x2="35.30" y2="587.16" stroke="#4A4A4A" stroke-width="0.95"/>
<line x1="28.40" y1="598.82" x2="29.40" y2="598.82" stroke="#4A4A4A" stroke-width="0.95"/>
<line x1="28.40" y1="587.16" x2="28.40" y2="598.82" stroke="#4A4A4A" stroke-width="0.95"/>
<line x1="21.10" y1="575.50" x2="32.20" y2="575.50" stroke="#4A4A4A" stroke-width="0.95"/>
<line x1="21.10" y1="592.99" x2="28.40" y2="592.99" stroke="#4A4A4A" stroke-width="0.95"/>
<line x1="21.10" y1="575.50" x2="21.10" y2="592.99" stroke="#4A4A4A" stroke-width="0.95"/>
<line x1="16.20" y1="558.01" x2="25.50" y2="558.01" stroke="#4A4A4A" stroke-width="0.95"/>
<line x1="16.20" y1="584.25" x2="21.10" y2="584.25" stroke="#4A4A4A" stroke-width="0.95"/>
<line x1="16.20" y1="558.01" x2="16.20" y2="584.25" stroke="#4A4A4A" stroke-width="0.95"/>
<line x1="15.70" y1="529.59" x2="22.60" y2="529.59" stroke="#4A4A4A" stroke-width="0.95"/>
<line x1="15.70" y1="571.13" x2="16.20" y2="571.13" stroke="#4A4A4A" stroke-width="0.95"/>
<line x1="15.70" y1="529.59" x2="15.70" y2="571.13" stroke="#4A4A4A" stroke-width="0.95"/>
<line x1="31.60" y1="607.57" x2="46.70" y2="607.57" stroke="#4A4A4A" stroke-width="0.95"/>
<line x1="31.60" y1="613.40" x2="46.70" y2="613.40" stroke="#4A4A4A" stroke-width="0.95"/>
<line x1="31.60" y1="607.57" x2="31.60" y2="613.40" stroke="#4A4A4A" stroke-width="0.95"/>
<line x1="34.30" y1="625.06" x2="46.70" y2="625.06" stroke="#4A4A4A" stroke-width="0.95"/>
<line x1="34.30" y1="630.88" x2="46.70" y2="630.88" stroke="#4A4A4A" stroke-width="0.95"/>
<line x1="34.30" y1="625.06" x2="34.30" y2="630.88" stroke="#4A4A4A" stroke-width="0.95"/>
<line x1="31.40" y1="619.23" x2="46.70" y2="619.23" stroke="#4A4A4A" stroke-width="0.95"/>
<line x1="31.40" y1="627.97" x2="34.30" y2="627.97" stroke="#4A4A4A" stroke-width="0.95"/>
<line x1="31.40" y1="619.23" x2="31.40" y2="627.97" stroke="#4A4A4A" stroke-width="0.95"/>
<line x1="25.50" y1="610.48" x2="31.60" y2="610.48" stroke="#4A4A4A" stroke-width="0.95"/>
<line x1="25.50" y1="623.60" x2="31.40" y2="623.60" stroke="#4A4A4A" stroke-width="0.95"/>
<line x1="25.50" y1="610.48" x2="25.50" y2="623.60" stroke="#4A4A4A" stroke-width="0.95"/>
<line x1="31.10" y1="636.72" x2="46.70" y2="636.72" stroke="#4A4A4A" stroke-width="0.95"/>
<line x1="31.10" y1="642.55" x2="46.70" y2="642.55" stroke="#4A4A4A" stroke-width="0.95"/>
<line x1="31.10" y1="636.72" x2="31.10" y2="642.55" stroke="#4A4A4A" stroke-width="0.95"/>
<line x1="25.70" y1="648.38" x2="46.70" y2="648.38" stroke="#4A4A4A" stroke-width="0.95"/>
<line x1="25.70" y1="654.21" x2="46.70" y2="654.21" stroke="#4A4A4A" stroke-width="0.95"/>
<line x1="25.70" y1="648.38" x2="25.70" y2="654.21" stroke="#4A4A4A" stroke-width="0.95"/>
<line x1="23.30" y1="639.63" x2="31.10" y2="639.63" stroke="#4A4A4A" stroke-width="0.95"/>
<line x1="23.30" y1="651.29" x2="25.70" y2="651.29" stroke="#4A4A4A" stroke-width="0.95"/>
<line x1="23.30" y1="639.63" x2="23.30" y2="651.29" stroke="#4A4A4A" stroke-width="0.95"/>
<line x1="16.80" y1="617.04" x2="25.50" y2="617.04" stroke="#4A4A4A" stroke-width="0.95"/>
<line x1="16.80" y1="645.46" x2="23.30" y2="645.46" stroke="#4A4A4A" stroke-width="0.95"/>
<line x1="16.80" y1="617.04" x2="16.80" y2="645.46" stroke="#4A4A4A" stroke-width="0.95"/>
<line x1="34.40" y1="660.04" x2="46.70" y2="660.04" stroke="#4A4A4A" stroke-width="0.95"/>
<line x1="34.40" y1="665.87" x2="46.70" y2="665.87" stroke="#4A4A4A" stroke-width="0.95"/>
<line x1="34.40" y1="660.04" x2="34.40" y2="665.87" stroke="#4A4A4A" stroke-width="0.95"/>
<line x1="31.10" y1="671.70" x2="46.70" y2="671.70" stroke="#4A4A4A" stroke-width="0.95"/>
<line x1="31.10" y1="677.53" x2="46.70" y2="677.53" stroke="#4A4A4A" stroke-width="0.95"/>
<line x1="31.10" y1="671.70" x2="31.10" y2="677.53" stroke="#4A4A4A" stroke-width="0.95"/>
<line x1="22.90" y1="662.95" x2="34.40" y2="662.95" stroke="#4A4A4A" stroke-width="0.95"/>
<line x1="22.90" y1="674.61" x2="31.10" y2="674.61" stroke="#4A4A4A" stroke-width="0.95"/>
<line x1="22.90" y1="662.95" x2="22.90" y2="674.61" stroke="#4A4A4A" stroke-width="0.95"/>
<line x1="31.10" y1="683.36" x2="46.70" y2="683.36" stroke="#4A4A4A" stroke-width="0.95"/>
<line x1="31.10" y1="689.19" x2="46.70" y2="689.19" stroke="#4A4A4A" stroke-width="0.95"/>
<line x1="31.10" y1="683.36" x2="31.10" y2="689.19" stroke="#4A4A4A" stroke-width="0.95"/>
<line x1="27.30" y1="695.02" x2="46.70" y2="695.02" stroke="#4A4A4A" stroke-width="0.95"/>
<line x1="27.30" y1="700.85" x2="46.70" y2="700.85" stroke="#4A4A4A" stroke-width="0.95"/>
<line x1="27.30" y1="695.02" x2="27.30" y2="700.85" stroke="#4A4A4A" stroke-width="0.95"/>
<line x1="21.80" y1="686.27" x2="31.10" y2="686.27" stroke="#4A4A4A" stroke-width="0.95"/>
<line x1="21.80" y1="697.93" x2="27.30" y2="697.93" stroke="#4A4A4A" stroke-width="0.95"/>
<line x1="21.80" y1="686.27" x2="21.80" y2="697.93" stroke="#4A4A4A" stroke-width="0.95"/>
<line x1="15.60" y1="668.78" x2="22.90" y2="668.78" stroke="#4A4A4A" stroke-width="0.95"/>
<line x1="15.60" y1="692.10" x2="21.80" y2="692.10" stroke="#4A4A4A" stroke-width="0.95"/>
<line x1="15.60" y1="668.78" x2="15.60" y2="692.10" stroke="#4A4A4A" stroke-width="0.95"/>
<line x1="13.70" y1="631.25" x2="16.80" y2="631.25" stroke="#4A4A4A" stroke-width="0.95"/>
<line x1="13.70" y1="680.44" x2="15.60" y2="680.44" stroke="#4A4A4A" stroke-width="0.95"/>
<line x1="13.70" y1="631.25" x2="13.70" y2="680.44" stroke="#4A4A4A" stroke-width="0.95"/>
<line x1="8.30" y1="550.36" x2="15.70" y2="550.36" stroke="#4A4A4A" stroke-width="0.95"/>
<line x1="8.30" y1="655.84" x2="13.70" y2="655.84" stroke="#4A4A4A" stroke-width="0.95"/>
<line x1="8.30" y1="550.36" x2="8.30" y2="655.84" stroke="#4A4A4A" stroke-width="0.95"/>
<defs><linearGradient id="gB" x1="0" y1="0" x2="0" y2="1"><stop offset="0.0000" stop-color="#D73027"/><stop offset="0.1667" stop-color="#FC8D59"/><stop offset="0.3333" stop-color="#FEE090"/><stop offset="0.5000" stop-color="#FFFFBF"/><stop offset="0.6667" stop-color="#E0F3F8"/><stop offset="0.8333" stop-color="#91BFDB"/><stop offset="1.0000" stop-color="#4575B4"/></linearGradient></defs>
<rect x="462.1" y="502.2" width="7.199999999999989" height="109.50000000000006" fill="url(#gB)"/>
<text x="472.30" y="518.50" font-size="5.2" text-anchor="start" fill="#111111" stroke="#111111" stroke-width="0.12">2</text>
<text x="472.30" y="539.70" font-size="5.2" text-anchor="start" fill="#111111" stroke="#111111" stroke-width="0.12">1</text>
<text x="472.30" y="562.70" font-size="5.2" text-anchor="start" fill="#111111" stroke="#111111" stroke-width="0.12">0</text>
<text x="472.30" y="585.20" font-size="5.2" text-anchor="start" fill="#111111" stroke="#111111" stroke-width="0.12">−1</text>
<text x="472.30" y="605.60" font-size="5.2" text-anchor="start" fill="#111111" stroke="#111111" stroke-width="0.12">−2</text>
<text x="478.50" y="505.70" font-size="5.2" text-anchor="start" fill="#111111" stroke="#111111" stroke-width="0.12">Stim</text>
<rect x="478.60" y="508.20" width="7.20" height="7.30" fill="#F8877B" stroke="#A3A3A3" stroke-width="0.55"/>
<text x="488.20" y="513.90" font-size="5.2" text-anchor="start" fill="#111111" stroke="#111111" stroke-width="0.12">HIV</text>
<text x="478.50" y="525.10" font-size="5.2" text-anchor="start" fill="#111111" stroke="#111111" stroke-width="0.12">CD16</text>
<rect x="478.60" y="526.40" width="7.20" height="7.20" fill="#7EB2FF" stroke="#A3A3A3" stroke-width="0.55"/>
<rect x="478.60" y="533.60" width="7.20" height="7.30" fill="#0FCD5E" stroke="#A3A3A3" stroke-width="0.55"/>
<text x="488.20" y="531.90" font-size="5.2" text-anchor="start" fill="#111111" stroke="#111111" stroke-width="0.12">CD16n</text>
<text x="488.20" y="540.20" font-size="5.2" text-anchor="start" fill="#111111" stroke="#111111" stroke-width="0.12">CD16p</text>
<text x="5.30" y="460.50" font-size="11.0" text-anchor="start" fill="#111111" stroke="#111111" stroke-width="0.12">B</text>
<text x="30.20" y="459.90" font-size="8.9" text-anchor="start" fill="#111111" stroke="#111111" stroke-width="0.12" textLength="58.3" lengthAdjust="spacingAndGlyphs">HIV: exosomes</text>
<rect x="0.00" y="0.00" width="520.00" height="1.50" fill="#222"/>
<rect x="0.00" y="0.00" width="1.35" height="714.00" fill="#111"/>
<rect x="518.50" y="0.00" width="1.50" height="714.00" fill="#1A1A1A"/>
<rect x="0.00" y="712.20" width="520.00" height="1.80" fill="#1A1A1A"/>
</svg>
</body></html>
